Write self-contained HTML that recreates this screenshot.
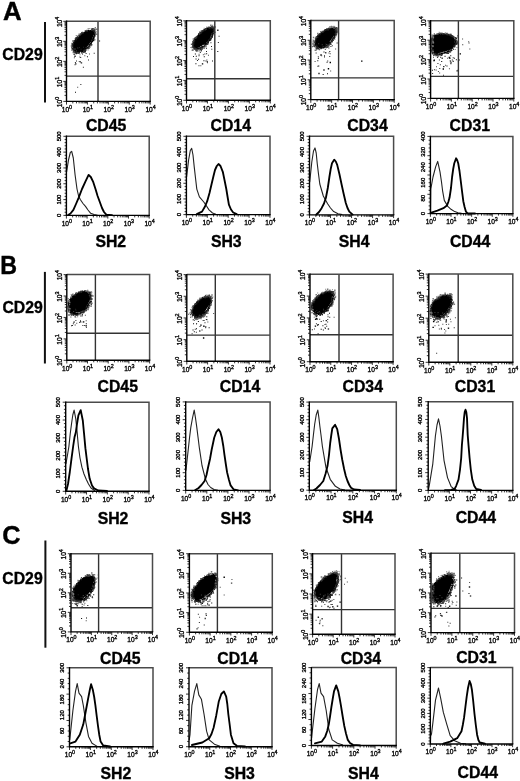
<!DOCTYPE html><html><head><meta charset="utf-8"><style>html,body{margin:0;padding:0;background:#fff;}svg{display:block;will-change:transform;filter:blur(0.35px);}</style></head><body>
<svg width="520" height="781" viewBox="0 0 520 781" font-family='"Liberation Sans", sans-serif'>
<rect width="520" height="781" fill="#fff"/>
<text transform="translate(3 19.6) scale(1.0 1)" font-size="25.8" font-weight="bold" fill="#000" stroke="#000" stroke-width="0.4">A</text>
<text transform="translate(0.2 273.6) scale(0.9 1)" font-size="25.8" font-weight="bold" fill="#000" stroke="#000" stroke-width="0.4">B</text>
<text transform="translate(2.2 544.4) scale(0.98 1)" font-size="25.8" font-weight="bold" fill="#000" stroke="#000" stroke-width="0.4">C</text>
<text x="2.3" y="59.8" font-size="15.8" font-weight="bold" fill="#000" stroke="#000" stroke-width="0.35">CD29</text>
<text x="2.4" y="312.7" font-size="15.8" font-weight="bold" fill="#000" stroke="#000" stroke-width="0.35">CD29</text>
<text x="2.3" y="583.7" font-size="15.8" font-weight="bold" fill="#000" stroke="#000" stroke-width="0.35">CD29</text>
<rect x="44" y="22" width="2" height="80.5" fill="#111"/>
<rect x="43.9" y="271.9" width="2" height="91.6" fill="#111"/>
<rect x="44.4" y="540.5" width="2" height="107.2" fill="#111"/>
<text x="106.1" y="131" font-size="15.8" font-weight="bold" fill="#000" stroke="#000" stroke-width="0.35" text-anchor="middle">CD45</text>
<text x="230.75" y="130.6" font-size="15.8" font-weight="bold" fill="#000" stroke="#000" stroke-width="0.35" text-anchor="middle">CD14</text>
<text x="367.5" y="130.6" font-size="15.8" font-weight="bold" fill="#000" stroke="#000" stroke-width="0.35" text-anchor="middle">CD34</text>
<text x="469.8" y="130.7" font-size="15.8" font-weight="bold" fill="#000" stroke="#000" stroke-width="0.35" text-anchor="middle">CD31</text>
<text x="110.75" y="247" font-size="15.8" font-weight="bold" fill="#000" stroke="#000" stroke-width="0.35" text-anchor="middle">SH2</text>
<text x="226.25" y="247" font-size="15.8" font-weight="bold" fill="#000" stroke="#000" stroke-width="0.35" text-anchor="middle">SH3</text>
<text x="354.1" y="247" font-size="15.8" font-weight="bold" fill="#000" stroke="#000" stroke-width="0.35" text-anchor="middle">SH4</text>
<text x="470.15" y="246.5" font-size="15.8" font-weight="bold" fill="#000" stroke="#000" stroke-width="0.35" text-anchor="middle">CD44</text>
<text x="117.75" y="392" font-size="15.8" font-weight="bold" fill="#000" stroke="#000" stroke-width="0.35" text-anchor="middle">CD45</text>
<text x="240" y="392" font-size="15.8" font-weight="bold" fill="#000" stroke="#000" stroke-width="0.35" text-anchor="middle">CD14</text>
<text x="362.75" y="392" font-size="15.8" font-weight="bold" fill="#000" stroke="#000" stroke-width="0.35" text-anchor="middle">CD34</text>
<text x="475" y="391.8" font-size="15.8" font-weight="bold" fill="#000" stroke="#000" stroke-width="0.35" text-anchor="middle">CD31</text>
<text x="113" y="524" font-size="15.8" font-weight="bold" fill="#000" stroke="#000" stroke-width="0.35" text-anchor="middle">SH2</text>
<text x="235.75" y="523.7" font-size="15.8" font-weight="bold" fill="#000" stroke="#000" stroke-width="0.35" text-anchor="middle">SH3</text>
<text x="357.65" y="523.4" font-size="15.8" font-weight="bold" fill="#000" stroke="#000" stroke-width="0.35" text-anchor="middle">SH4</text>
<text x="475.9" y="523" font-size="15.8" font-weight="bold" fill="#000" stroke="#000" stroke-width="0.35" text-anchor="middle">CD44</text>
<text x="120.25" y="663.8" font-size="15.8" font-weight="bold" fill="#000" stroke="#000" stroke-width="0.35" text-anchor="middle">CD45</text>
<text x="237.5" y="663.8" font-size="15.8" font-weight="bold" fill="#000" stroke="#000" stroke-width="0.35" text-anchor="middle">CD14</text>
<text x="360.9" y="663.8" font-size="15.8" font-weight="bold" fill="#000" stroke="#000" stroke-width="0.35" text-anchor="middle">CD34</text>
<text x="476.35" y="663.2" font-size="15.8" font-weight="bold" fill="#000" stroke="#000" stroke-width="0.35" text-anchor="middle">CD31</text>
<text x="115.9" y="779.2" font-size="15.8" font-weight="bold" fill="#000" stroke="#000" stroke-width="0.35" text-anchor="middle">SH2</text>
<text x="239.5" y="779" font-size="15.8" font-weight="bold" fill="#000" stroke="#000" stroke-width="0.35" text-anchor="middle">SH3</text>
<text x="363.4" y="779" font-size="15.8" font-weight="bold" fill="#000" stroke="#000" stroke-width="0.35" text-anchor="middle">SH4</text>
<text x="477.8" y="778" font-size="15.8" font-weight="bold" fill="#000" stroke="#000" stroke-width="0.35" text-anchor="middle">CD44</text>
<polygon points="93.46,30.19 92.59,30.17 92.11,29.73 91.14,29.91 90.03,30.36 89.19,30.41 88.02,31.11 87.15,31.23 86.11,31.8 85.13,32.1 84.13,32.24 83.01,32.44 81.89,33.3 80.7,33.91 79.44,34.55 78.2,35.38 77.28,36.51 76.43,37.61 75.33,38.61 75.06,39.77 73.94,40.85 73.68,41.92 73.29,42.99 72.95,44.06 72.64,45.15 72.3,46.29 72.95,46.92 73.06,47.84 73.54,48.51 74.29,48.92 74.78,49.53 75.64,49.73 76.21,50.24 76.74,50.86 77.23,51.66 78.13,51.84 79.08,51.92 80.06,52.01 81.21,51.56 82.37,50.84 83.49,50.33 84.57,49.32 85.53,48.07 86.52,47.21 87.42,46.16 88.4,45.24 89.23,44.13 89.89,42.95 90.98,41.9 91.26,40.7 92,39.55 92.67,38.38 92.67,37.4 93.15,36.3 93.09,35.46 93.68,34.28 93.9,33.28 93.88,32.45 94.08,31.42 93.59,30.98" fill="#000"/><path d="M90.49 30.1h1.5v1.5h-1.5zM92.26 30.21h1.0v1.0h-1.0zM89.11 43.91h1.0v1.0h-1.0zM73.11 44.43h1.0v1.0h-1.0zM93.09 36.32h1.5v1.5h-1.5zM85.23 31.32h1.0v1.0h-1.0zM73.24 45.94h1.0v1.0h-1.0zM93.58 32.53h1.5v1.5h-1.5zM92.93 36.87h1.0v1.0h-1.0zM81.26 51.63h1.0v1.0h-1.0zM81.25 33.56h1.0v1.0h-1.0zM85.29 30.9h1.0v1.0h-1.0zM92.66 29.55h1.0v1.0h-1.0zM72.96 41.85h1.0v1.0h-1.0zM93.53 38.25h1.0v1.0h-1.0zM88 30.95h1.0v1.0h-1.0zM91.5 39.89h1.5v1.5h-1.5zM85.43 31.62h1.0v1.0h-1.0zM73.54 42.93h1.0v1.0h-1.0zM75.95 50.52h1.0v1.0h-1.0zM91.06 40.59h1.0v1.0h-1.0zM92.19 29.91h1.0v1.0h-1.0zM80.64 34.51h1.0v1.0h-1.0zM93.88 35.03h1.5v1.5h-1.5zM82.66 49.76h1.5v1.5h-1.5zM90.02 43.1h1.5v1.5h-1.5zM83.35 32.61h1.5v1.5h-1.5zM86.94 46.65h1.0v1.0h-1.0zM91.13 41.42h1.0v1.0h-1.0zM93.3 31.4h1.0v1.0h-1.0zM81.11 33.72h1.0v1.0h-1.0zM79 35.01h1.0v1.0h-1.0zM93.56 34.69h1.0v1.0h-1.0zM75.38 51.22h1.0v1.0h-1.0zM73.51 46.96h1.5v1.5h-1.5zM74.02 48.54h1.5v1.5h-1.5zM77.3 50.9h1.0v1.0h-1.0zM73.5 47.14h1.5v1.5h-1.5zM74.79 50.38h1.0v1.0h-1.0zM93.07 33.44h1.5v1.5h-1.5zM89.49 30.77h1.5v1.5h-1.5zM93.42 35.44h1.0v1.0h-1.0zM92.77 31.42h1.0v1.0h-1.0zM73.95 41.22h1.0v1.0h-1.0zM74.75 40.71h1.5v1.5h-1.5zM77.86 36.78h1.0v1.0h-1.0zM77.85 50.94h1.0v1.0h-1.0zM81.53 50.29h1.5v1.5h-1.5zM92.84 37.57h1.0v1.0h-1.0zM76.32 51.79h1.0v1.0h-1.0zM79.35 35.17h1.0v1.0h-1.0zM90.75 30.43h1.0v1.0h-1.0zM75.79 37.93h1.0v1.0h-1.0zM76.9 50.7h1.0v1.0h-1.0zM81.64 50.19h1.0v1.0h-1.0zM90.58 30.4h1.5v1.5h-1.5zM84.37 31.99h1.0v1.0h-1.0zM93 37.07h1.0v1.0h-1.0zM72.68 48.73h1.0v1.0h-1.0zM93.74 31.76h1.0v1.0h-1.0zM93.29 30.3h1.0v1.0h-1.0zM73.96 50.74h1.0v1.0h-1.0zM88.82 30.51h1.0v1.0h-1.0zM79.82 35.03h1.0v1.0h-1.0zM86.87 46.62h1.5v1.5h-1.5zM81.07 50.62h1.5v1.5h-1.5zM91.51 40.05h1.0v1.0h-1.0zM84.48 48.79h1.0v1.0h-1.0zM78.51 35.93h1.0v1.0h-1.0zM87.32 46.59h1.5v1.5h-1.5zM89.9 44.52h1.0v1.0h-1.0zM77.49 51.31h1.0v1.0h-1.0zM84.99 48.08h1.5v1.5h-1.5zM81.97 33.4h1.5v1.5h-1.5zM86.34 31.14h1.5v1.5h-1.5zM93.01 36.18h1.5v1.5h-1.5zM92.32 30.01h1.0v1.0h-1.0zM73.41 47.64h1.0v1.0h-1.0zM92.42 39.05h1.0v1.0h-1.0zM93.31 30.41h1.0v1.0h-1.0zM76.17 37.7h1.0v1.0h-1.0zM82.59 32.94h1.0v1.0h-1.0zM91.1 30.03h1.5v1.5h-1.5zM77.69 36.12h1.5v1.5h-1.5zM76.8 51.44h1.0v1.0h-1.0zM93.48 34.94h1.0v1.0h-1.0zM88.59 30.87h1.0v1.0h-1.0zM79.49 35.44h1.5v1.5h-1.5zM73.47 43.52h1.0v1.0h-1.0zM86.78 30.94h1.0v1.0h-1.0zM92.5 37.67h1.0v1.0h-1.0zM92.84 37h1.5v1.5h-1.5zM74.08 48.47h1.0v1.0h-1.0zM78.35 35.33h1.0v1.0h-1.0zM91.05 30.7h1.5v1.5h-1.5zM75.19 38.87h1.0v1.0h-1.0zM81.64 50.27h1.0v1.0h-1.0zM78.25 51.53h1.0v1.0h-1.0zM82.17 49.89h1.5v1.5h-1.5zM79.77 35.24h1.5v1.5h-1.5zM73.34 45.94h1.5v1.5h-1.5zM84.51 49.24h1.5v1.5h-1.5zM91.17 40.48h1.5v1.5h-1.5zM94.01 32.25h1.0v1.0h-1.0zM85.78 31.28h1.0v1.0h-1.0zM92.81 36.44h1.5v1.5h-1.5zM93.47 33.67h1.5v1.5h-1.5zM91.88 30.11h1.5v1.5h-1.5zM73.35 43.39h1.0v1.0h-1.0zM73.52 42.03h1.5v1.5h-1.5zM93.15 32.33h1.5v1.5h-1.5zM91.62 30.53h1.0v1.0h-1.0zM89.14 44.07h1.0v1.0h-1.0zM78.43 36.37h1.5v1.5h-1.5zM74.2 41.2h1.5v1.5h-1.5zM92.12 31.39h1.5v1.5h-1.5zM74.27 49.6h1.5v1.5h-1.5zM90.59 41.64h1.5v1.5h-1.5zM90.21 43.17h1.5v1.5h-1.5zM90.17 30.28h1.0v1.0h-1.0zM89.14 30.44h1.0v1.0h-1.0zM83.94 49.15h1.5v1.5h-1.5zM79.03 35.91h1.5v1.5h-1.5zM74.85 49.96h1.5v1.5h-1.5zM92.04 39.09h1.0v1.0h-1.0zM82.63 33.12h1.5v1.5h-1.5zM79 51.55h1.0v1.0h-1.0zM81.58 33.34h1.0v1.0h-1.0zM82.59 49.67h1.0v1.0h-1.0zM82.92 32.95h1.0v1.0h-1.0zM90.54 42.18h1.0v1.0h-1.0zM76.84 50.72h1.5v1.5h-1.5zM84.35 31.91h1.0v1.0h-1.0zM81.93 32.42h1.5v1.5h-1.5zM93.57 36.15h1.0v1.0h-1.0zM80.65 51.09h1.0v1.0h-1.0zM85.49 31.5h1.5v1.5h-1.5zM91.75 39.85h1.0v1.0h-1.0zM72.61 44.19h1.0v1.0h-1.0zM86.93 46.63h1.0v1.0h-1.0zM91.14 30.67h1.5v1.5h-1.5zM78.26 51.48h1.0v1.0h-1.0zM73.31 47.48h1.5v1.5h-1.5zM79.72 35.24h1.5v1.5h-1.5zM73.03 48.38h1.0v1.0h-1.0zM89.77 43.4h1.0v1.0h-1.0zM84.22 32.25h1.5v1.5h-1.5zM74.11 50.39h1.0v1.0h-1.0zM74.99 39.92h1.0v1.0h-1.0zM90.34 42.99h1.0v1.0h-1.0zM78.44 51.5h1.0v1.0h-1.0zM85.41 30.89h1.5v1.5h-1.5zM74.76 50.45h1.0v1.0h-1.0zM91.91 30.64h1.0v1.0h-1.0zM88.05 30.37h1.0v1.0h-1.0zM81.54 33.26h1.5v1.5h-1.5zM86.39 30.56h1.0v1.0h-1.0zM81.72 50.44h1.5v1.5h-1.5zM73.47 44.89h1.5v1.5h-1.5zM74.15 41.87h1.5v1.5h-1.5zM93.09 33.67h1.5v1.5h-1.5zM75.16 51.48h1.0v1.0h-1.0zM90.14 30.77h1.0v1.0h-1.0zM85.69 31.55h1.0v1.0h-1.0zM89.66 42.9h1.5v1.5h-1.5zM73.78 48.23h1.5v1.5h-1.5zM80.04 34.31h1.0v1.0h-1.0zM88.44 45.31h1.5v1.5h-1.5zM86.14 47.24h1.0v1.0h-1.0zM93.41 32.07h1.0v1.0h-1.0zM88.63 45.94h1.0v1.0h-1.0zM92.35 38.02h1.0v1.0h-1.0zM77.73 51.13h1.5v1.5h-1.5zM93.96 34.42h1.0v1.0h-1.0zM88.31 29.75h1.0v1.0h-1.0zM91.28 30.27h1.5v1.5h-1.5zM85.26 47.86h1.0v1.0h-1.0zM91.45 40.64h1.5v1.5h-1.5zM92.66 38.53h1.5v1.5h-1.5zM88.67 44.67h1.0v1.0h-1.0zM73.31 46.88h1.5v1.5h-1.5zM80.53 33.49h1.5v1.5h-1.5zM91.09 40.49h1.0v1.0h-1.0zM92.63 32.14h1.0v1.0h-1.0zM74.35 49.39h1.0v1.0h-1.0zM76.67 37.74h1.0v1.0h-1.0zM85.36 48.22h1.0v1.0h-1.0zM74.79 49.6h1.0v1.0h-1.0zM82.22 50.23h1.0v1.0h-1.0zM85.01 30.98h1.5v1.5h-1.5zM84.97 31.52h1.0v1.0h-1.0zM84.58 31.43h1.0v1.0h-1.0zM92.7 32.21h1.5v1.5h-1.5zM72.9 44.12h1.5v1.5h-1.5zM87.64 46.49h1.5v1.5h-1.5zM81.48 33.69h1.0v1.0h-1.0zM72.85 45h1.0v1.0h-1.0zM73.27 45.13h1.0v1.0h-1.0zM75.27 39.54h1.0v1.0h-1.0zM86.31 47.38h1.5v1.5h-1.5zM93.6 33.65h1.0v1.0h-1.0zM90.33 43.6h1.5v1.5h-1.5zM93.69 33.07h1.0v1.0h-1.0zM86.42 46.86h1.0v1.0h-1.0zM92.72 39.79h1.5v1.5h-1.5zM84.55 48.58h1.0v1.0h-1.0zM87.35 29.89h1.0v1.0h-1.0zM73.36 44.82h1.0v1.0h-1.0zM72.95 46.18h1.0v1.0h-1.0zM80.64 34.21h1.0v1.0h-1.0zM72.98 49.13h1.5v1.5h-1.5zM81.76 50.4h1.5v1.5h-1.5zM81.76 47.1h1v1h-1zM82.5 50.61h1v1h-1zM80.99 50.36h1v1h-1zM82.08 53.39h1v1h-1zM75.21 63.28h1.0v1.0h-1.0zM86.94 56.22h1.0v1.0h-1.0zM75.02 91.67h1.0v1.0h-1.0zM99.1 40.4h1.0v1.0h-1.0z" fill="#000"/><path d="M94.11 32.54h1.0v1.0h-1.0zM76.46 37.19h1.5v1.5h-1.5zM79.07 34.02h1.0v1.0h-1.0zM93.77 30.72h1.5v1.5h-1.5zM77.59 35.94h1.0v1.0h-1.0zM72.06 45.13h1.0v1.0h-1.0zM92.8 30.08h1.5v1.5h-1.5zM74.64 51.73h1.5v1.5h-1.5zM77.95 52.22h1.5v1.5h-1.5zM73.38 40.34h1.5v1.5h-1.5zM86.48 29.73h1.0v1.0h-1.0zM83.02 51.26h1.5v1.5h-1.5zM87.34 47.84h1.0v1.0h-1.0zM77.04 36.73h1.5v1.5h-1.5zM77.74 35.99h1.0v1.0h-1.0zM72.77 46.56h1.0v1.0h-1.0zM73.32 41.78h1.0v1.0h-1.0zM93.09 39.34h1.0v1.0h-1.0zM84.91 49.44h1.5v1.5h-1.5zM88.82 45.57h1.5v1.5h-1.5zM73.29 40.35h1.5v1.5h-1.5zM73.03 42.69h1.0v1.0h-1.0zM76.34 52.31h1.5v1.5h-1.5zM93.48 29.98h1.5v1.5h-1.5zM77.87 35.56h1.5v1.5h-1.5zM77.39 36.77h1.0v1.0h-1.0zM81.12 33.65h1.0v1.0h-1.0zM91.13 30.04h1.0v1.0h-1.0zM93.48 36.11h1.5v1.5h-1.5zM75.45 52.76h1.5v1.5h-1.5zM73.37 49.01h1.5v1.5h-1.5zM94.64 34.28h1.0v1.0h-1.0zM72.34 48.09h1.5v1.5h-1.5zM74.42 51.63h1.5v1.5h-1.5zM79.08 52.08h1.0v1.0h-1.0zM79.85 33.48h1.5v1.5h-1.5zM72.32 44.89h1.0v1.0h-1.0zM71.97 47.46h1.0v1.0h-1.0zM72.92 43.44h1.0v1.0h-1.0zM94.35 31.72h1.0v1.0h-1.0zM86.27 47.98h1.0v1.0h-1.0zM71.68 43.81h1.5v1.5h-1.5zM74.34 40.38h1.0v1.0h-1.0zM95.22 32.55h1.0v1.0h-1.0zM90.86 43.89h1.5v1.5h-1.5zM94.42 31.86h1.0v1.0h-1.0zM93.18 30.14h1.5v1.5h-1.5zM93.59 29.15h1.5v1.5h-1.5zM78.65 52.95h1.0v1.0h-1.0zM71.75 47.47h1.0v1.0h-1.0zM76.12 36.68h1.5v1.5h-1.5zM84.68 30.37h1.5v1.5h-1.5zM72.36 47.84h1.0v1.0h-1.0zM73.5 51.41h1.0v1.0h-1.0zM83.39 50.79h1.5v1.5h-1.5zM91.37 28.33h1.5v1.5h-1.5zM81.09 32.13h1.0v1.0h-1.0zM75.38 37.56h1.0v1.0h-1.0zM77.79 35.82h1.0v1.0h-1.0zM92.27 39.62h1.0v1.0h-1.0zM71.23 45.39h1.5v1.5h-1.5zM93.75 35.75h1.0v1.0h-1.0zM71.48 48.18h1.5v1.5h-1.5zM75.58 38.78h1.5v1.5h-1.5zM84.4 50.22h1.5v1.5h-1.5zM75.76 51.71h1.0v1.0h-1.0zM88.3 46.2h1.5v1.5h-1.5zM90.3 43.74h1.5v1.5h-1.5zM75.95 60.5h1v1h-1zM74.89 61.95h1v1h-1zM79.74 61.11h1v1h-1zM80.17 57.12h1v1h-1zM80.57 48.86h1v1h-1zM85.61 53.06h1v1h-1zM93.71 52.66h1v1h-1zM83.24 51.39h1v1h-1zM83.12 49.68h1v1h-1zM84.99 51.09h1v1h-1zM80.41 50.72h1v1h-1zM83.09 49.89h1v1h-1zM74.47 47.99h1v1h-1zM79.01 46.95h1v1h-1zM82.98 46.67h1v1h-1zM74.33 55.6h1.4v1.4h-1.4zM74.54 64.34h1.0v1.0h-1.0zM82.87 66.86h1.0v1.0h-1.0zM80.76 62.2h1.4v1.4h-1.4zM79.68 61.42h1.0v1.0h-1.0zM87.97 59.48h1.0v1.0h-1.0zM80.34 83.97h1.0v1.0h-1.0z" fill="#222"/><path d="M85.47 49.28h1.0v1.0h-1.0zM75.48 37.34h1.0v1.0h-1.0zM91.59 28.99h1.5v1.5h-1.5zM73.43 53.42h1.5v1.5h-1.5zM90.4 44.24h1.5v1.5h-1.5zM94.6 32.35h1.5v1.5h-1.5zM95.47 31.07h1.0v1.0h-1.0zM91.74 27.91h1.5v1.5h-1.5zM95.31 32.23h1.0v1.0h-1.0zM86.28 29.95h1.5v1.5h-1.5zM72.93 51.69h1.0v1.0h-1.0zM71.06 44.64h1.0v1.0h-1.0zM74.01 51.63h1.0v1.0h-1.0zM94.09 28.41h1.5v1.5h-1.5zM74.94 37.63h1.0v1.0h-1.0zM88.21 47.47h1.5v1.5h-1.5zM71.23 46.59h1.0v1.0h-1.0zM92.98 28.59h1.0v1.0h-1.0zM81.11 32.04h1.5v1.5h-1.5zM72.46 40.47h1.0v1.0h-1.0zM83.32 51.22h1.0v1.0h-1.0zM71.46 42.77h1.5v1.5h-1.5zM72.8 50.82h1.5v1.5h-1.5zM81.76 31.64h1.5v1.5h-1.5zM92.31 28.02h1.5v1.5h-1.5zM95.04 34.18h1.0v1.0h-1.0zM79.95 33.41h1.0v1.0h-1.0zM73.32 51.87h1.0v1.0h-1.0zM82.16 32.07h1.5v1.5h-1.5zM90.86 29.16h1.0v1.0h-1.0zM81.29 52.12h1.0v1.0h-1.0zM80.78 52.5h1.0v1.0h-1.0zM77.36 52.65h1.0v1.0h-1.0zM74.49 38.44h1.0v1.0h-1.0zM74.1 52.11h1.0v1.0h-1.0zM72.15 43.36h1.0v1.0h-1.0zM81.24 52.47h1.0v1.0h-1.0zM79.14 34.15h1.5v1.5h-1.5zM87.68 28.28h1.0v1.0h-1.0zM71.5 49.9h1.0v1.0h-1.0zM87.34 47.83h1.5v1.5h-1.5zM71.17 47.34h1.0v1.0h-1.0zM77.28 47.5h1v1h-1zM79.34 56.6h1v1h-1zM84.32 55.17h1v1h-1zM83.5 51.9h1v1h-1zM73.86 57.27h1v1h-1zM89.06 53.42h1v1h-1zM84.74 51.66h1v1h-1zM82.58 52.05h1v1h-1zM74.46 48.45h1v1h-1zM78.75 61.05h1.0v1.0h-1.0zM75.51 63.57h1.0v1.0h-1.0zM77.19 86.65h1.0v1.0h-1.0z" fill="#444"/><path d="M95.91 28.47h1.5v1.5h-1.5zM75.76 35.09h1.0v1.0h-1.0zM93.97 38.88h1.5v1.5h-1.5zM70.75 45.37h1.5v1.5h-1.5zM90.79 45.35h1.0v1.0h-1.0zM94.94 27.12h1.0v1.0h-1.0zM87.57 49.53h1.0v1.0h-1.0zM94.4 27.57h1.0v1.0h-1.0zM72.27 40.3h1.5v1.5h-1.5zM89.32 28.11h1.0v1.0h-1.0zM72.49 52.25h1.0v1.0h-1.0zM94.72 29.13h1.5v1.5h-1.5zM95.05 35.52h1.0v1.0h-1.0zM77.47 35.17h1.5v1.5h-1.5zM78.42 33.58h1.5v1.5h-1.5zM95.82 33.54h1.5v1.5h-1.5zM79.49 54.32h1.0v1.0h-1.0zM89.76 46.67h1.0v1.0h-1.0z" fill="#777"/><path d="M98 21.3V101.4M66.5 76.1H150.2" stroke="#333" stroke-width="1.4" fill="none"/><path d="M66.5 21.3H150.2V101.4" stroke="#4a4a4a" stroke-width="1.5" fill="none"/><path d="M66.5 21.3V101.4H150.2" stroke="#000" stroke-width="1.4" fill="none" stroke-linecap="square"/><path d="M66.5 101.4v3.2M72.8 101.4v2M76.48 101.4v2M79.1 101.4v2M81.13 101.4v2M82.78 101.4v2M84.18 101.4v2M85.4 101.4v2M86.47 101.4v2M87.42 101.4v3.2M93.72 101.4v2M97.41 101.4v2M100.02 101.4v2M102.05 101.4v2M103.71 101.4v2M105.11 101.4v2M106.32 101.4v2M107.39 101.4v2M108.35 101.4v3.2M114.65 101.4v2M118.33 101.4v2M120.95 101.4v2M122.98 101.4v2M124.63 101.4v2M126.03 101.4v2M127.25 101.4v2M128.32 101.4v2M129.27 101.4v3.2M135.57 101.4v2M139.26 101.4v2M141.87 101.4v2M143.9 101.4v2M145.56 101.4v2M146.96 101.4v2M148.17 101.4v2M149.24 101.4v2M150.2 101.4v3.2M66.5 101.4h-3.2M66.5 95.37h-2M66.5 91.85h-2M66.5 89.34h-2M66.5 87.4h-2M66.5 85.82h-2M66.5 84.48h-2M66.5 83.32h-2M66.5 82.29h-2M66.5 81.38h-3.2M66.5 75.35h-2M66.5 71.82h-2M66.5 69.32h-2M66.5 67.38h-2M66.5 65.79h-2M66.5 64.45h-2M66.5 63.29h-2M66.5 62.27h-2M66.5 61.35h-3.2M66.5 55.32h-2M66.5 51.8h-2M66.5 49.29h-2M66.5 47.35h-2M66.5 45.77h-2M66.5 44.43h-2M66.5 43.27h-2M66.5 42.24h-2M66.5 41.33h-3.2M66.5 35.3h-2M66.5 31.77h-2M66.5 29.27h-2M66.5 27.33h-2M66.5 25.74h-2M66.5 24.4h-2M66.5 23.24h-2M66.5 22.22h-2M66.5 21.3h-3.2" stroke="#000" stroke-width="0.8" fill="none"/><g fill="#000" stroke="#000" stroke-width="0.32"><text x="66.9" y="111.6" font-size="6.6" text-anchor="middle">10<tspan dy="-3.0" font-size="5.4">0</tspan></text><text x="87.83" y="111.6" font-size="6.6" text-anchor="middle">10<tspan dy="-3.0" font-size="5.4">1</tspan></text><text x="108.75" y="111.6" font-size="6.6" text-anchor="middle">10<tspan dy="-3.0" font-size="5.4">2</tspan></text><text x="129.67" y="111.6" font-size="6.6" text-anchor="middle">10<tspan dy="-3.0" font-size="5.4">3</tspan></text><text x="150.6" y="111.6" font-size="6.6" text-anchor="middle">10<tspan dy="-3.0" font-size="5.4">4</tspan></text><text transform="translate(61.5 102) rotate(-90)" font-size="6.6" text-anchor="middle">10<tspan dy="-3.0" font-size="5.4">0</tspan></text><text transform="translate(61.5 81.97) rotate(-90)" font-size="6.6" text-anchor="middle">10<tspan dy="-3.0" font-size="5.4">1</tspan></text><text transform="translate(61.5 61.95) rotate(-90)" font-size="6.6" text-anchor="middle">10<tspan dy="-3.0" font-size="5.4">2</tspan></text><text transform="translate(61.5 41.93) rotate(-90)" font-size="6.6" text-anchor="middle">10<tspan dy="-3.0" font-size="5.4">3</tspan></text><text transform="translate(61.5 21.9) rotate(-90)" font-size="6.6" text-anchor="middle">10<tspan dy="-3.0" font-size="5.4">4</tspan></text></g>
<polygon points="211.66,28.22 210.79,28.44 210.51,28.01 209.99,27.85 209.35,27.82 208.65,27.86 208.12,27.5 207.28,27.59 206.35,27.76 205.16,28.66 204.06,29.33 202.96,29.87 201.86,30.81 200.89,31.95 199.86,32.76 198.9,33.67 198.15,34.71 197.42,35.66 196.22,36.53 195.81,37.53 194.6,38.57 194.32,39.54 193.69,40.59 193.08,41.7 192.77,42.71 193.13,43.38 193.26,44.13 193.39,44.9 193.23,45.93 193.5,46.65 193.68,47.49 194.41,47.76 195.05,48.13 195.71,48.47 196.66,48.36 197.78,47.86 198.71,47.6 199.78,46.89 200.78,46.14 201.63,45.95 202.55,45.36 203.49,45 204.45,44.22 205.38,43.32 206.49,42.69 207.43,41.63 208.21,40.45 209.14,39.36 210.01,38.19 210.47,37.01 210.84,35.92 211.02,34.94 211.71,33.81 212.21,32.74 212.4,31.83 212.22,31.2 212.24,30.47 212.41,29.63 212.11,29.19 211.97,28.62" fill="#000"/><path d="M193.75 44.66h1.0v1.0h-1.0zM212.35 31.25h1.0v1.0h-1.0zM207.1 28h1.5v1.5h-1.5zM208.32 39.51h1.0v1.0h-1.0zM207.41 41.09h1.5v1.5h-1.5zM205.97 42.99h1.5v1.5h-1.5zM211.63 29.24h1.0v1.0h-1.0zM194.02 40.96h1.0v1.0h-1.0zM194.82 37.84h1.0v1.0h-1.0zM212 31.18h1.0v1.0h-1.0zM212.1 28.83h1.5v1.5h-1.5zM193.5 41.44h1.5v1.5h-1.5zM211.98 30.97h1.0v1.0h-1.0zM195.98 47.07h1.0v1.0h-1.0zM192.65 42.68h1.5v1.5h-1.5zM194.89 46.55h1.0v1.0h-1.0zM208.19 28h1.0v1.0h-1.0zM208.93 39.6h1.5v1.5h-1.5zM194.12 40.7h1.0v1.0h-1.0zM194.98 37.48h1.5v1.5h-1.5zM201.67 31.55h1.5v1.5h-1.5zM197.9 47.95h1.0v1.0h-1.0zM206.23 28.44h1.5v1.5h-1.5zM211.42 27.18h1.0v1.0h-1.0zM201.04 46.38h1.5v1.5h-1.5zM208.32 27.95h1.0v1.0h-1.0zM194.04 40.69h1.0v1.0h-1.0zM207.73 40.64h1.0v1.0h-1.0zM195.05 37.6h1.5v1.5h-1.5zM193.76 44.18h1.5v1.5h-1.5zM193.14 41.05h1.0v1.0h-1.0zM207.15 41.47h1.5v1.5h-1.5zM195.61 37.87h1.0v1.0h-1.0zM206.5 42.31h1.0v1.0h-1.0zM212.23 32.43h1.0v1.0h-1.0zM210.79 28.05h1.0v1.0h-1.0zM209.25 37.84h1.0v1.0h-1.0zM204.86 29.15h1.0v1.0h-1.0zM207.54 41.19h1.5v1.5h-1.5zM198.44 34.44h1.0v1.0h-1.0zM205.49 28.58h1.0v1.0h-1.0zM197.04 35.76h1.0v1.0h-1.0zM203.13 30.47h1.5v1.5h-1.5zM205.95 28.37h1.0v1.0h-1.0zM200.85 47.06h1.5v1.5h-1.5zM193.7 42.7h1.5v1.5h-1.5zM196.67 48.04h1.5v1.5h-1.5zM207.29 28.48h1.0v1.0h-1.0zM206.3 27.73h1.0v1.0h-1.0zM197.91 34.07h1.0v1.0h-1.0zM203.23 30.47h1.0v1.0h-1.0zM196.16 47.18h1.5v1.5h-1.5zM192.76 42.54h1.5v1.5h-1.5zM200.65 46.98h1.5v1.5h-1.5zM196.85 47.58h1.5v1.5h-1.5zM211.84 33.56h1.5v1.5h-1.5zM207.37 28.19h1.0v1.0h-1.0zM200.13 31.97h1.0v1.0h-1.0zM211.62 28.37h1.5v1.5h-1.5zM210.16 28.12h1.5v1.5h-1.5zM213.26 30.42h1.5v1.5h-1.5zM208.32 27.06h1.0v1.0h-1.0zM199.59 32.84h1.0v1.0h-1.0zM209.46 28.03h1.5v1.5h-1.5zM197.64 47.56h1.5v1.5h-1.5zM192.59 42.08h1.5v1.5h-1.5zM193.88 45.97h1.5v1.5h-1.5zM194.66 38.58h1.5v1.5h-1.5zM195.17 37.97h1.5v1.5h-1.5zM210.24 27.1h1.0v1.0h-1.0zM197.48 35.2h1.5v1.5h-1.5zM211.77 28.29h1.0v1.0h-1.0zM200.55 46.8h1.0v1.0h-1.0zM196.58 35.76h1.0v1.0h-1.0zM192.85 44.53h1.0v1.0h-1.0zM212.89 28.97h1.5v1.5h-1.5zM195.93 47.16h1.0v1.0h-1.0zM192.61 44.79h1.0v1.0h-1.0zM211.8 27.58h1.0v1.0h-1.0zM201.49 46.32h1.5v1.5h-1.5zM197.96 47.88h1.5v1.5h-1.5zM208.48 27.49h1.0v1.0h-1.0zM203.48 29.67h1.5v1.5h-1.5zM195.02 47.51h1.5v1.5h-1.5zM211.96 32.41h1.0v1.0h-1.0zM197.33 47.47h1.5v1.5h-1.5zM203.93 44.29h1.5v1.5h-1.5zM211.77 31.49h1.0v1.0h-1.0zM211.6 27.57h1.5v1.5h-1.5zM211.31 33.76h1.5v1.5h-1.5zM205.43 28.91h1.0v1.0h-1.0zM201.63 45.93h1.5v1.5h-1.5zM205.28 29.42h1.0v1.0h-1.0zM211.98 34.09h1.5v1.5h-1.5zM202.46 31h1.0v1.0h-1.0zM207.66 40.37h1.0v1.0h-1.0zM199.7 33.2h1.0v1.0h-1.0zM211.81 27.77h1.5v1.5h-1.5zM193.69 43.12h1.5v1.5h-1.5zM211.99 27.5h1.0v1.0h-1.0zM199.37 33.22h1.0v1.0h-1.0zM196.08 47.54h1.0v1.0h-1.0zM195.99 46.96h1.0v1.0h-1.0zM206.27 29.02h1.0v1.0h-1.0zM205.36 43h1.5v1.5h-1.5zM208.21 39.62h1.0v1.0h-1.0zM210.23 37.82h1.5v1.5h-1.5zM205.63 43.52h1.5v1.5h-1.5zM194 39.94h1.5v1.5h-1.5zM193.44 42.4h1.5v1.5h-1.5zM196.8 36.06h1.0v1.0h-1.0zM212.26 30.35h1.0v1.0h-1.0zM195.64 37.64h1.5v1.5h-1.5zM194.85 38.92h1.0v1.0h-1.0zM211.42 35.45h1.5v1.5h-1.5zM199.79 33.03h1.0v1.0h-1.0zM203.75 45.81h1.5v1.5h-1.5zM203.93 44.33h1.0v1.0h-1.0zM212.2 30.17h1.5v1.5h-1.5zM192.97 42.93h1.0v1.0h-1.0zM211.27 28.09h1.5v1.5h-1.5zM207.07 28.69h1.0v1.0h-1.0zM194.45 45.85h1.5v1.5h-1.5zM208.79 39.21h1.0v1.0h-1.0zM211.04 35.61h1.0v1.0h-1.0zM207.75 27.56h1.5v1.5h-1.5zM200.35 32.71h1.0v1.0h-1.0zM193.85 40.84h1.0v1.0h-1.0zM210.89 35.89h1.0v1.0h-1.0zM204.95 43.33h1.5v1.5h-1.5zM211.77 27.69h1.5v1.5h-1.5zM211.29 28.43h1.5v1.5h-1.5zM195.72 47.33h1.5v1.5h-1.5zM193.32 42.5h1.5v1.5h-1.5zM195.01 38.42h1.5v1.5h-1.5zM200.62 32.42h1.0v1.0h-1.0zM201.76 31.34h1.5v1.5h-1.5zM210.79 35.69h1.5v1.5h-1.5zM200.17 32.29h1.0v1.0h-1.0zM204.23 44.2h1.0v1.0h-1.0zM211.85 29.68h1.0v1.0h-1.0zM193.36 42.63h1.5v1.5h-1.5zM193.86 45.03h1.0v1.0h-1.0zM194.47 39.68h1.0v1.0h-1.0zM193.32 44.43h1.0v1.0h-1.0zM212.02 26.59h1.0v1.0h-1.0zM210.36 35.8h1.0v1.0h-1.0zM194.35 47.86h1.0v1.0h-1.0zM206.04 42.89h1.5v1.5h-1.5zM193.92 38.79h1.0v1.0h-1.0zM205.64 28.18h1.0v1.0h-1.0zM212.47 27.76h1.0v1.0h-1.0zM208.08 27.98h1.0v1.0h-1.0zM209.18 38.34h1.5v1.5h-1.5zM194.01 40.28h1.5v1.5h-1.5zM211.46 33.61h1.5v1.5h-1.5zM197.86 48.03h1.0v1.0h-1.0zM202.51 30.4h1.5v1.5h-1.5zM208.13 27.51h1.0v1.0h-1.0zM206.28 28.58h1.5v1.5h-1.5zM205.41 42.97h1.0v1.0h-1.0zM200.97 47.36h1.0v1.0h-1.0zM211.2 33.97h1.0v1.0h-1.0zM199.37 47.13h1.5v1.5h-1.5zM193 43.37h1.0v1.0h-1.0zM204.92 28.86h1.5v1.5h-1.5zM204.96 44.41h1.0v1.0h-1.0zM198.7 33.81h1.0v1.0h-1.0zM210.02 37.53h1.5v1.5h-1.5zM211.64 29.12h1.5v1.5h-1.5zM206.83 28.01h1.5v1.5h-1.5zM199.18 47.18h1.5v1.5h-1.5zM211.82 27.32h1.5v1.5h-1.5zM192.53 41.49h1.0v1.0h-1.0zM194.63 38.13h1.5v1.5h-1.5zM212.01 28.67h1.5v1.5h-1.5zM212.26 30.43h1.0v1.0h-1.0zM198.73 33.49h1.5v1.5h-1.5zM205.7 28.71h1.5v1.5h-1.5zM197.9 47.8h1.0v1.0h-1.0zM212.69 29.08h1.5v1.5h-1.5zM211.38 28.41h1.5v1.5h-1.5zM204.38 42.81h1v1h-1zM211.95 60.53h1v1h-1zM201.43 48.81h1v1h-1zM206.85 42.54h1v1h-1zM196.14 44.01h1v1h-1zM198.54 55.16h1v1h-1zM206.16 53.36h1v1h-1zM195.41 63.27h1v1h-1zM205.94 47.87h1v1h-1zM195.8 55.67h1v1h-1zM196.68 49.81h1v1h-1zM201.84 63.13h1.4v1.4h-1.4zM195.54 58.41h1.0v1.0h-1.0zM194.85 53.54h1.0v1.0h-1.0zM203.43 60.33h1.0v1.0h-1.0zM198.1 58.77h1.0v1.0h-1.0zM203.77 56.32h1.0v1.0h-1.0zM217.29 51.08h1.0v1.0h-1.0z" fill="#000"/><path d="M210.54 26.43h1.5v1.5h-1.5zM211.08 35.77h1.5v1.5h-1.5zM193.32 46.03h1.0v1.0h-1.0zM209.86 38.04h1.0v1.0h-1.0zM194.57 48.87h1.0v1.0h-1.0zM194.14 47.41h1.0v1.0h-1.0zM211.31 27.3h1.0v1.0h-1.0zM210.01 37.64h1.5v1.5h-1.5zM209.5 26.84h1.5v1.5h-1.5zM209.65 39.13h1.5v1.5h-1.5zM204.36 29.13h1.5v1.5h-1.5zM192.5 45.19h1.5v1.5h-1.5zM199.91 32.4h1.5v1.5h-1.5zM206.58 43.2h1.5v1.5h-1.5zM212.59 26.71h1.5v1.5h-1.5zM211.75 35.24h1.0v1.0h-1.0zM212.96 28.32h1.0v1.0h-1.0zM199.75 47.32h1.0v1.0h-1.0zM211.67 27.29h1.5v1.5h-1.5zM191.92 45.69h1.0v1.0h-1.0zM213.48 27.75h1.0v1.0h-1.0zM192.52 42.88h1.5v1.5h-1.5zM213.34 27.14h1.0v1.0h-1.0zM213.32 31.2h1.5v1.5h-1.5zM194.3 47.56h1.5v1.5h-1.5zM198.75 48.24h1.0v1.0h-1.0zM192.96 40.11h1.5v1.5h-1.5zM212.81 27.5h1.0v1.0h-1.0zM195.55 48.71h1.0v1.0h-1.0zM212.91 27.22h1.0v1.0h-1.0zM201.36 46.96h1.0v1.0h-1.0zM212.23 28.08h1.0v1.0h-1.0zM211.31 36.6h1.5v1.5h-1.5zM202.63 30.03h1.5v1.5h-1.5zM193.47 39.35h1.5v1.5h-1.5zM193.41 48.44h1.0v1.0h-1.0zM209 26.93h1.0v1.0h-1.0zM212.1 33.39h1.0v1.0h-1.0zM195.69 48.82h1.0v1.0h-1.0zM193.91 39.33h1.0v1.0h-1.0zM198.94 32.49h1.0v1.0h-1.0zM192.37 43.2h1.0v1.0h-1.0zM201.51 30.74h1.5v1.5h-1.5zM207.04 43.08h1.5v1.5h-1.5zM199.85 48.56h1.5v1.5h-1.5zM191.67 43.55h1.5v1.5h-1.5zM207.88 41.23h1.0v1.0h-1.0zM213.86 28.83h1.0v1.0h-1.0zM213.32 27.73h1.5v1.5h-1.5zM207.17 42.11h1.5v1.5h-1.5zM200.41 31.64h1.5v1.5h-1.5zM202.9 46.09h1.5v1.5h-1.5zM193.25 47.27h1.5v1.5h-1.5zM204.49 45.06h1.0v1.0h-1.0zM200.03 48.2h1.0v1.0h-1.0zM204.52 28.48h1.0v1.0h-1.0zM210.39 27.54h1.0v1.0h-1.0zM201.13 47.29h1.5v1.5h-1.5zM199.19 48.1h1.5v1.5h-1.5zM205.48 28.47h1.0v1.0h-1.0zM195.08 37.12h1.5v1.5h-1.5zM201.38 46.57h1.0v1.0h-1.0zM206.65 43.33h1.5v1.5h-1.5zM196.23 49.19h1.0v1.0h-1.0zM192.16 44.2h1.0v1.0h-1.0zM199.23 32.85h1.0v1.0h-1.0zM208.51 27.34h1.0v1.0h-1.0zM212.8 26.39h1.0v1.0h-1.0zM194.02 47.99h1.0v1.0h-1.0zM204.12 44.63h1.0v1.0h-1.0zM202.68 46.04h1.0v1.0h-1.0zM208.3 41.04h1.0v1.0h-1.0zM199.83 47.98h1.0v1.0h-1.0zM198.53 33.18h1.5v1.5h-1.5zM209.72 38.79h1.5v1.5h-1.5zM212.64 32.5h1.5v1.5h-1.5zM213.32 31.58h1.0v1.0h-1.0zM202.79 46.15h1.5v1.5h-1.5zM198.08 33.18h1.5v1.5h-1.5zM195.65 36.74h1.5v1.5h-1.5zM205.85 43.55h1.5v1.5h-1.5zM194.62 37.71h1.0v1.0h-1.0zM208.71 27.47h1.5v1.5h-1.5zM194.2 37.55h1.5v1.5h-1.5zM193.71 40.12h1.5v1.5h-1.5zM199.59 31.8h1.0v1.0h-1.0zM201.18 47.71h1.5v1.5h-1.5zM212.64 33.18h1.0v1.0h-1.0zM209.74 38.97h1.0v1.0h-1.0zM210.6 37.85h1.0v1.0h-1.0zM192.8 46.17h1.5v1.5h-1.5zM192.9 42.48h1.0v1.0h-1.0zM206.64 43.93h1v1h-1zM200.89 49.56h1v1h-1zM200.75 50.53h1v1h-1zM197.39 47.5h1v1h-1zM210.42 42.27h1v1h-1zM211.03 46h1v1h-1zM193.23 43.97h1v1h-1zM193.77 42.62h1v1h-1zM211.31 48.73h1v1h-1zM206.02 50.99h1.0v1.0h-1.0zM198.47 65.25h1.0v1.0h-1.0zM199.79 52.02h1.0v1.0h-1.0zM204.38 53.45h1.0v1.0h-1.0zM193.01 55.97h1.0v1.0h-1.0zM196.98 60.08h1.0v1.0h-1.0zM218.58 35.66h1.0v1.0h-1.0zM217.85 42.12h1.0v1.0h-1.0zM217.13 29.59h1.4v1.4h-1.4z" fill="#222"/><path d="M195.77 35.95h1.5v1.5h-1.5zM194.87 37.25h1.5v1.5h-1.5zM214.01 31.39h1.5v1.5h-1.5zM211.14 25.76h1.0v1.0h-1.0zM214.2 28.58h1.0v1.0h-1.0zM191.81 47.24h1.0v1.0h-1.0zM198.73 32.88h1.5v1.5h-1.5zM196.1 50.34h1.5v1.5h-1.5zM207.85 27.06h1.0v1.0h-1.0zM191.42 46.68h1.5v1.5h-1.5zM213.54 29.92h1.0v1.0h-1.0zM208.11 26.38h1.5v1.5h-1.5zM211.76 26h1.5v1.5h-1.5zM213.47 28.84h1.0v1.0h-1.0zM191.75 44.02h1.0v1.0h-1.0zM213.83 28.83h1.0v1.0h-1.0zM192.23 41.07h1.5v1.5h-1.5zM201.64 47.97h1.0v1.0h-1.0zM201.52 47.8h1.0v1.0h-1.0zM194.17 48.69h1.0v1.0h-1.0zM190.8 43.81h1.0v1.0h-1.0zM194.54 48.59h1.5v1.5h-1.5zM195.23 49.64h1.5v1.5h-1.5zM201.59 29.98h1.0v1.0h-1.0zM192.81 40.18h1.5v1.5h-1.5zM205.26 28.2h1.5v1.5h-1.5zM200.92 48.26h1.5v1.5h-1.5zM192.09 45.81h1.0v1.0h-1.0zM204.51 45h1.5v1.5h-1.5zM199.51 49.41h1.0v1.0h-1.0zM214.12 26.25h1.5v1.5h-1.5zM205.31 44.71h1.0v1.0h-1.0zM200.64 30.38h1.0v1.0h-1.0zM205.38 45.02h1.0v1.0h-1.0zM211.05 26.25h1.5v1.5h-1.5zM207.1 43.23h1.0v1.0h-1.0zM197.76 49.2h1.0v1.0h-1.0zM206.83 44.03h1.0v1.0h-1.0zM213.02 27.09h1.0v1.0h-1.0zM202.64 44.46h1v1h-1zM198.6 53.66h1v1h-1zM206.36 59.52h1v1h-1zM207.95 54.65h1v1h-1zM199.35 50.55h1v1h-1zM202.85 54.15h1v1h-1zM196.09 48.51h1v1h-1zM206.63 60.89h1.4v1.4h-1.4zM206.91 62.16h1.0v1.0h-1.0zM205.33 60.59h1.0v1.0h-1.0zM200.33 65.19h1.0v1.0h-1.0z" fill="#444"/><path d="M204.51 46.6h1.0v1.0h-1.0zM190.37 47.01h1.0v1.0h-1.0zM205.21 45.54h1.5v1.5h-1.5zM213.84 24.58h1.0v1.0h-1.0zM204.93 45.58h1.0v1.0h-1.0zM206.34 26.51h1.0v1.0h-1.0zM192.63 38.27h1.5v1.5h-1.5zM203.19 47.45h1.5v1.5h-1.5zM213.82 31.14h1.0v1.0h-1.0zM191.63 49.53h1.5v1.5h-1.5zM203.68 27.76h1.0v1.0h-1.0zM210.1 24.48h1.5v1.5h-1.5zM212.13 24.85h1.0v1.0h-1.0zM203.35 47.44h1.5v1.5h-1.5zM192.32 49.19h1.5v1.5h-1.5zM203.87 47.46h1.0v1.0h-1.0zM197.72 50.38h1.0v1.0h-1.0zM212.12 25.07h1.0v1.0h-1.0zM200.85 30.22h1.0v1.0h-1.0zM199.39 31.1h1.0v1.0h-1.0zM210.28 24.58h1.0v1.0h-1.0zM192.44 49.01h1.0v1.0h-1.0z" fill="#777"/><path d="M214.8 20.8V100.3M186.5 78.8H270.3" stroke="#333" stroke-width="1.4" fill="none"/><path d="M186.5 20.8H270.3V100.3" stroke="#4a4a4a" stroke-width="1.5" fill="none"/><path d="M186.5 20.8V100.3H270.3" stroke="#000" stroke-width="1.4" fill="none" stroke-linecap="square"/><path d="M186.5 100.3v3.2M192.81 100.3v2M196.5 100.3v2M199.11 100.3v2M201.14 100.3v2M202.8 100.3v2M204.2 100.3v2M205.42 100.3v2M206.49 100.3v2M207.45 100.3v3.2M213.76 100.3v2M217.45 100.3v2M220.06 100.3v2M222.09 100.3v2M223.75 100.3v2M225.15 100.3v2M226.37 100.3v2M227.44 100.3v2M228.4 100.3v3.2M234.71 100.3v2M238.4 100.3v2M241.01 100.3v2M243.04 100.3v2M244.7 100.3v2M246.1 100.3v2M247.32 100.3v2M248.39 100.3v2M249.35 100.3v3.2M255.66 100.3v2M259.35 100.3v2M261.96 100.3v2M263.99 100.3v2M265.65 100.3v2M267.05 100.3v2M268.27 100.3v2M269.34 100.3v2M270.3 100.3v3.2M186.5 100.3h-3.2M186.5 94.32h-2M186.5 90.82h-2M186.5 88.33h-2M186.5 86.41h-2M186.5 84.83h-2M186.5 83.5h-2M186.5 82.35h-2M186.5 81.33h-2M186.5 80.42h-3.2M186.5 74.44h-2M186.5 70.94h-2M186.5 68.46h-2M186.5 66.53h-2M186.5 64.96h-2M186.5 63.63h-2M186.5 62.48h-2M186.5 61.46h-2M186.5 60.55h-3.2M186.5 54.57h-2M186.5 51.07h-2M186.5 48.58h-2M186.5 46.66h-2M186.5 45.08h-2M186.5 43.75h-2M186.5 42.6h-2M186.5 41.58h-2M186.5 40.67h-3.2M186.5 34.69h-2M186.5 31.19h-2M186.5 28.71h-2M186.5 26.78h-2M186.5 25.21h-2M186.5 23.88h-2M186.5 22.73h-2M186.5 21.71h-2M186.5 20.8h-3.2" stroke="#000" stroke-width="0.8" fill="none"/><g fill="#000" stroke="#000" stroke-width="0.32"><text x="186.9" y="110.5" font-size="6.6" text-anchor="middle">10<tspan dy="-3.0" font-size="5.4">0</tspan></text><text x="207.85" y="110.5" font-size="6.6" text-anchor="middle">10<tspan dy="-3.0" font-size="5.4">1</tspan></text><text x="228.8" y="110.5" font-size="6.6" text-anchor="middle">10<tspan dy="-3.0" font-size="5.4">2</tspan></text><text x="249.75" y="110.5" font-size="6.6" text-anchor="middle">10<tspan dy="-3.0" font-size="5.4">3</tspan></text><text x="270.7" y="110.5" font-size="6.6" text-anchor="middle">10<tspan dy="-3.0" font-size="5.4">4</tspan></text><text transform="translate(181.5 100.9) rotate(-90)" font-size="6.6" text-anchor="middle">10<tspan dy="-3.0" font-size="5.4">0</tspan></text><text transform="translate(181.5 81.02) rotate(-90)" font-size="6.6" text-anchor="middle">10<tspan dy="-3.0" font-size="5.4">1</tspan></text><text transform="translate(181.5 61.15) rotate(-90)" font-size="6.6" text-anchor="middle">10<tspan dy="-3.0" font-size="5.4">2</tspan></text><text transform="translate(181.5 41.27) rotate(-90)" font-size="6.6" text-anchor="middle">10<tspan dy="-3.0" font-size="5.4">3</tspan></text><text transform="translate(181.5 21.4) rotate(-90)" font-size="6.6" text-anchor="middle">10<tspan dy="-3.0" font-size="5.4">4</tspan></text></g>
<polygon points="334.63,28.91 333.58,29.1 333.33,28.54 332.51,28.57 331.66,28.68 331.05,28.44 330.14,28.63 329.2,28.85 328.41,28.67 327.31,29.2 326.27,29.55 325.19,30.08 324.08,30.48 323,31.17 322.05,32.08 320.84,32.56 319.79,33.33 318.72,34.14 317.55,34.98 316.87,36 316.15,37 315.44,38.02 315.44,38.97 315.33,39.88 315.38,40.73 315.29,41.6 315.53,42.33 315.6,43.15 315.93,43.81 316.29,44.45 316.14,45.56 316.58,46.22 317,46.94 317.71,47.37 318.82,47.22 319.7,47.33 320.72,47.14 321.54,47.38 322.7,46.64 323.69,46.26 324.67,46.18 325.7,45.53 326.68,44.63 327.74,44.12 328.69,43.23 329.5,42.17 330.11,41.05 331,40.16 331.51,39.11 332.17,38.14 332.97,37.16 333.51,36.17 334.18,35.13 334.38,34.22 335.02,33.16 335.52,32.11 335.39,31.39 335.96,30.25 335.26,29.95 334.82,29.53" fill="#000"/><path d="M317.98 35.97h1.0v1.0h-1.0zM334.39 35.07h1.0v1.0h-1.0zM324.14 30.94h1.5v1.5h-1.5zM332.66 28.32h1.0v1.0h-1.0zM318.55 34.71h1.0v1.0h-1.0zM331.85 28.08h1.0v1.0h-1.0zM325.19 45.94h1.0v1.0h-1.0zM314.99 41.63h1.5v1.5h-1.5zM332.96 28.5h1.0v1.0h-1.0zM316.92 36.15h1.0v1.0h-1.0zM315.33 39.71h1.0v1.0h-1.0zM315.12 44.24h1.5v1.5h-1.5zM320.62 47.1h1.0v1.0h-1.0zM334.14 33.85h1.5v1.5h-1.5zM334.7 31.32h1.5v1.5h-1.5zM316.32 37h1.5v1.5h-1.5zM331.15 39.88h1.0v1.0h-1.0zM314.81 44.27h1.0v1.0h-1.0zM330.34 28.5h1.0v1.0h-1.0zM315.48 39.4h1.5v1.5h-1.5zM315.8 44.66h1.0v1.0h-1.0zM335.01 34.23h1.0v1.0h-1.0zM316.38 45.77h1.0v1.0h-1.0zM316.66 45.2h1.5v1.5h-1.5zM331.17 39.64h1.0v1.0h-1.0zM322.4 32.1h1.0v1.0h-1.0zM314.92 40.53h1.0v1.0h-1.0zM331.4 40.29h1.5v1.5h-1.5zM314.81 41.56h1.0v1.0h-1.0zM321.4 32.62h1.0v1.0h-1.0zM329.57 42.09h1.5v1.5h-1.5zM331.36 40.06h1.0v1.0h-1.0zM334.21 33.3h1.5v1.5h-1.5zM320.82 32.76h1.0v1.0h-1.0zM325.79 45.02h1.5v1.5h-1.5zM333.76 29.49h1.0v1.0h-1.0zM315.64 41.55h1.5v1.5h-1.5zM316.91 37.15h1.5v1.5h-1.5zM318.03 34.54h1.0v1.0h-1.0zM325.14 30.14h1.0v1.0h-1.0zM324.82 30.69h1.5v1.5h-1.5zM316.9 46.61h1.5v1.5h-1.5zM331.79 38.55h1.0v1.0h-1.0zM331.85 27.79h1.5v1.5h-1.5zM324.31 46.52h1.5v1.5h-1.5zM328.32 43.25h1.5v1.5h-1.5zM315.81 40.2h1.0v1.0h-1.0zM334.96 34.34h1.0v1.0h-1.0zM324.31 30.78h1.0v1.0h-1.0zM329.55 28.96h1.0v1.0h-1.0zM314.61 43.75h1.5v1.5h-1.5zM318.16 47.5h1.0v1.0h-1.0zM322.63 46.3h1.0v1.0h-1.0zM320.33 33.64h1.0v1.0h-1.0zM325.37 45.45h1.0v1.0h-1.0zM329.71 28.36h1.5v1.5h-1.5zM334.35 31.71h1.0v1.0h-1.0zM316.82 37.33h1.0v1.0h-1.0zM331.25 39.87h1.5v1.5h-1.5zM329.24 42.71h1.5v1.5h-1.5zM323.2 30.93h1.0v1.0h-1.0zM331.53 28.5h1.5v1.5h-1.5zM334.06 29.26h1.0v1.0h-1.0zM315.11 43.2h1.0v1.0h-1.0zM332.79 28.81h1.0v1.0h-1.0zM316.45 37.41h1.0v1.0h-1.0zM323.02 31.48h1.5v1.5h-1.5zM327.92 43.12h1.0v1.0h-1.0zM332 38.94h1.5v1.5h-1.5zM325.65 45.43h1.5v1.5h-1.5zM316.47 37.5h1.0v1.0h-1.0zM324.28 30.75h1.0v1.0h-1.0zM328 43.74h1.0v1.0h-1.0zM322.55 46.96h1.5v1.5h-1.5zM332.86 28.48h1.5v1.5h-1.5zM314.52 44.09h1.0v1.0h-1.0zM327.02 29.51h1.5v1.5h-1.5zM328.98 27.91h1.0v1.0h-1.0zM328.47 28.43h1.0v1.0h-1.0zM333.47 29.55h1.5v1.5h-1.5zM315.17 39.89h1.0v1.0h-1.0zM328.74 28.78h1.0v1.0h-1.0zM327.28 45.03h1.0v1.0h-1.0zM327.46 43.98h1.0v1.0h-1.0zM326.23 45.12h1.5v1.5h-1.5zM331.74 28.8h1.0v1.0h-1.0zM329.45 43.18h1.0v1.0h-1.0zM334.16 30.37h1.0v1.0h-1.0zM334.69 31.92h1.0v1.0h-1.0zM334.3 30.39h1.5v1.5h-1.5zM334.01 34.06h1.5v1.5h-1.5zM332.25 37.86h1.0v1.0h-1.0zM320.66 46.66h1.0v1.0h-1.0zM318.64 34.7h1.0v1.0h-1.0zM328.94 28.81h1.5v1.5h-1.5zM330.42 41.07h1.0v1.0h-1.0zM320.96 46.48h1.0v1.0h-1.0zM334.15 34.56h1.0v1.0h-1.0zM315.39 42.84h1.0v1.0h-1.0zM316.65 36.48h1.0v1.0h-1.0zM321.1 32.82h1.0v1.0h-1.0zM334.41 32.5h1.0v1.0h-1.0zM333.42 29.4h1.5v1.5h-1.5zM329.01 42.06h1.0v1.0h-1.0zM326.21 45.41h1.0v1.0h-1.0zM326.5 45.6h1.0v1.0h-1.0zM332.47 27.56h1.0v1.0h-1.0zM316.49 44.87h1.5v1.5h-1.5zM319.86 33.98h1.0v1.0h-1.0zM314.69 41.44h1.5v1.5h-1.5zM333.89 35.83h1.0v1.0h-1.0zM330.72 27.87h1.5v1.5h-1.5zM323.76 46.62h1.0v1.0h-1.0zM333.57 36.02h1.0v1.0h-1.0zM316.24 38.69h1.5v1.5h-1.5zM315.5 38.94h1.0v1.0h-1.0zM321.14 32.71h1.0v1.0h-1.0zM322.39 31.16h1.0v1.0h-1.0zM327.28 43.89h1.0v1.0h-1.0zM315.77 44.64h1.0v1.0h-1.0zM332.1 27.99h1.0v1.0h-1.0zM334.84 31.57h1.0v1.0h-1.0zM319.06 46.53h1.5v1.5h-1.5zM330.96 28.6h1.0v1.0h-1.0zM315.1 45.28h1.0v1.0h-1.0zM323.9 46h1.0v1.0h-1.0zM318.06 45.97h1.0v1.0h-1.0zM321.08 46.93h1.5v1.5h-1.5zM328.99 42.71h1.5v1.5h-1.5zM334.55 33.24h1.0v1.0h-1.0zM331.43 27.97h1.0v1.0h-1.0zM315.03 42.89h1.5v1.5h-1.5zM335.06 31.31h1.0v1.0h-1.0zM334.26 28.63h1.0v1.0h-1.0zM334.62 31.21h1.0v1.0h-1.0zM316.73 36.32h1.5v1.5h-1.5zM334.46 29.05h1.0v1.0h-1.0zM327.39 44.18h1.0v1.0h-1.0zM329.2 28.41h1.0v1.0h-1.0zM319.96 46.67h1.5v1.5h-1.5zM321.76 31.73h1.0v1.0h-1.0zM334.65 30.82h1.0v1.0h-1.0zM318.45 34.52h1.5v1.5h-1.5zM323.87 46.38h1.0v1.0h-1.0zM320.3 46.53h1.5v1.5h-1.5zM334.39 30.78h1.5v1.5h-1.5zM325.31 30.02h1.5v1.5h-1.5zM321.53 31.7h1.5v1.5h-1.5zM325.03 45.21h1.0v1.0h-1.0zM327.12 43.92h1.5v1.5h-1.5zM334.45 30.89h1.0v1.0h-1.0zM334.34 33.45h1.0v1.0h-1.0zM323.25 31.53h1.0v1.0h-1.0zM315.22 41.84h1.0v1.0h-1.0zM325.71 29.76h1.0v1.0h-1.0zM325.25 45.69h1.5v1.5h-1.5zM327.03 44.68h1.5v1.5h-1.5zM320.78 33.11h1.5v1.5h-1.5zM334.35 36.06h1.0v1.0h-1.0zM316.83 47.26h1.5v1.5h-1.5zM331.98 28.03h1.5v1.5h-1.5zM322.35 32.11h1.0v1.0h-1.0zM327.29 29.57h1.0v1.0h-1.0zM316.51 36.18h1.0v1.0h-1.0zM331.24 28.1h1.0v1.0h-1.0zM322.21 46.62h1.5v1.5h-1.5zM315.96 37.51h1.0v1.0h-1.0zM334.74 31.97h1.0v1.0h-1.0zM315.76 39.87h1.5v1.5h-1.5zM331.46 39.3h1.0v1.0h-1.0zM327.14 44.3h1.5v1.5h-1.5zM324.53 29.88h1.0v1.0h-1.0zM322.86 46.15h1.0v1.0h-1.0zM322.76 31.43h1.5v1.5h-1.5zM324.48 45.49h1.0v1.0h-1.0zM331.52 39.52h1.5v1.5h-1.5zM321.02 47.64h1.0v1.0h-1.0zM316.33 44.43h1.0v1.0h-1.0zM314.98 44.42h1.5v1.5h-1.5zM331.4 28.91h1.0v1.0h-1.0zM332.56 28.44h1.0v1.0h-1.0zM332.98 37.18h1.5v1.5h-1.5zM316.37 37.29h1.0v1.0h-1.0zM321.07 46.84h1.5v1.5h-1.5zM329.84 28.53h1.0v1.0h-1.0zM314.77 44.77h1.5v1.5h-1.5zM333.57 35.91h1.5v1.5h-1.5zM333.6 35.46h1.5v1.5h-1.5zM334.16 33.56h1.5v1.5h-1.5zM333.49 36.25h1.0v1.0h-1.0zM315.62 38.18h1.0v1.0h-1.0zM319.59 45.54h1v1h-1zM319.08 44.46h1v1h-1zM329.3 51.07h1v1h-1zM326.57 61.69h1v1h-1zM323.49 51.5h1v1h-1zM328.39 47.45h1v1h-1zM336.6 42.59h1v1h-1zM327.26 43.07h1v1h-1zM320.35 54.23h1.4v1.4h-1.4zM329.59 61.76h1.4v1.4h-1.4zM327.77 68h1.4v1.4h-1.4zM322.66 74.11h1.0v1.0h-1.0zM317.3 60.27h1.0v1.0h-1.0zM318.25 65.6h1.0v1.0h-1.0zM327.04 73.29h1.0v1.0h-1.0zM361.08 60.46h1.4v1.4h-1.4z" fill="#000"/><path d="M334.51 36.77h1.0v1.0h-1.0zM327.09 28.94h1.0v1.0h-1.0zM335.51 32.35h1.0v1.0h-1.0zM335.47 28.35h1.5v1.5h-1.5zM336.3 31.3h1.5v1.5h-1.5zM317.93 47.87h1.5v1.5h-1.5zM326.13 29.1h1.5v1.5h-1.5zM314.82 44.65h1.0v1.0h-1.0zM328.78 28.59h1.0v1.0h-1.0zM335.63 33.4h1.0v1.0h-1.0zM328.4 27.47h1.0v1.0h-1.0zM315.97 45.54h1.5v1.5h-1.5zM334.69 34.77h1.0v1.0h-1.0zM321.63 31.87h1.0v1.0h-1.0zM325.7 46.02h1.5v1.5h-1.5zM313.71 41.66h1.5v1.5h-1.5zM320.2 47.63h1.5v1.5h-1.5zM326.98 45.68h1.5v1.5h-1.5zM325.67 45.46h1.0v1.0h-1.0zM335.27 31.68h1.5v1.5h-1.5zM316.24 46.96h1.0v1.0h-1.0zM335.6 29.14h1.5v1.5h-1.5zM319.07 33.84h1.5v1.5h-1.5zM315.23 37.87h1.0v1.0h-1.0zM333.62 27h1.0v1.0h-1.0zM335.08 30.07h1.0v1.0h-1.0zM327.46 28.13h1.5v1.5h-1.5zM336.48 31.57h1.0v1.0h-1.0zM326.36 46.09h1.5v1.5h-1.5zM315.43 38.01h1.0v1.0h-1.0zM316.03 47.95h1.5v1.5h-1.5zM315.6 46.19h1.0v1.0h-1.0zM316.12 45.62h1.5v1.5h-1.5zM318.71 33.4h1.5v1.5h-1.5zM317.28 46.9h1.0v1.0h-1.0zM334.24 27.83h1.0v1.0h-1.0zM316.34 46.16h1.5v1.5h-1.5zM335.38 28.92h1.0v1.0h-1.0zM329.03 43.37h1.0v1.0h-1.0zM326.81 44.83h1.5v1.5h-1.5zM336.43 30.02h1.5v1.5h-1.5zM323.65 30.41h1.0v1.0h-1.0zM320.52 32.44h1.0v1.0h-1.0zM314.48 40.15h1.5v1.5h-1.5zM316.92 36.44h1.5v1.5h-1.5zM315.74 44.96h1.0v1.0h-1.0zM328.39 44.13h1.0v1.0h-1.0zM336.51 30.88h1.0v1.0h-1.0zM316.32 46.18h1.0v1.0h-1.0zM334.07 36.18h1.0v1.0h-1.0zM327.52 28.88h1.5v1.5h-1.5zM332.25 39.58h1.5v1.5h-1.5zM331.58 41.22h1.0v1.0h-1.0zM333.73 37.67h1.0v1.0h-1.0zM323.63 46.62h1.0v1.0h-1.0zM313.58 41.78h1.5v1.5h-1.5zM323.18 30.66h1.0v1.0h-1.0zM335.42 29.94h1.5v1.5h-1.5zM334.48 27.44h1.5v1.5h-1.5zM324.69 29.11h1.5v1.5h-1.5zM324.11 47.27h1.0v1.0h-1.0zM314.47 40.15h1.0v1.0h-1.0zM321.52 31.41h1.0v1.0h-1.0zM326.16 28.27h1.5v1.5h-1.5zM323.73 30.7h1.0v1.0h-1.0zM321.97 46.87h1.0v1.0h-1.0zM315.37 39.38h1.0v1.0h-1.0zM329.32 43.04h1.5v1.5h-1.5zM323.56 30.54h1.0v1.0h-1.0zM335.56 30.86h1.5v1.5h-1.5zM333.71 37h1.5v1.5h-1.5zM334.57 29.56h1.5v1.5h-1.5zM321.68 31.08h1.0v1.0h-1.0zM328.25 43.85h1.0v1.0h-1.0zM336.18 32.56h1.0v1.0h-1.0zM333.12 37.55h1.5v1.5h-1.5zM316.12 47.02h1.0v1.0h-1.0zM330.53 27.31h1.0v1.0h-1.0zM330.26 27.95h1.0v1.0h-1.0zM334.94 29.95h1.5v1.5h-1.5zM334.9 33.01h1.0v1.0h-1.0zM324.91 30h1.0v1.0h-1.0zM322.14 31.22h1.5v1.5h-1.5zM329.87 41.94h1.0v1.0h-1.0zM325.78 47.23h1v1h-1zM324.03 56.61h1v1h-1zM317.87 57.9h1v1h-1zM327.23 60.44h1v1h-1zM330.4 45.97h1v1h-1zM325.29 43.58h1v1h-1zM315.64 52.51h1v1h-1zM329.26 55.92h1v1h-1zM331.81 45.15h1v1h-1zM318.29 72.73h1.4v1.4h-1.4zM317.37 65.83h1.0v1.0h-1.0zM323.27 69.27h1.4v1.4h-1.4zM324.03 55.26h1.0v1.0h-1.0z" fill="#222"/><path d="M312.44 43.05h1.0v1.0h-1.0zM334.24 26.34h1.0v1.0h-1.0zM313.91 45.05h1.0v1.0h-1.0zM316.17 36.37h1.0v1.0h-1.0zM333.32 27.09h1.0v1.0h-1.0zM336.82 31.13h1.0v1.0h-1.0zM336.52 28.31h1.0v1.0h-1.0zM325.46 46.75h1.0v1.0h-1.0zM318.05 34.44h1.0v1.0h-1.0zM331.46 26.98h1.0v1.0h-1.0zM326.39 46.48h1.5v1.5h-1.5zM314.81 38.01h1.5v1.5h-1.5zM331.39 26.29h1.0v1.0h-1.0zM325.75 46.06h1.5v1.5h-1.5zM315.48 36.41h1.5v1.5h-1.5zM318.86 49.37h1.0v1.0h-1.0zM317.53 34.26h1.0v1.0h-1.0zM336.39 29.3h1.5v1.5h-1.5zM319.43 33.09h1.0v1.0h-1.0zM318.59 48.25h1.0v1.0h-1.0zM327.16 45.46h1.5v1.5h-1.5zM332.35 39.77h1.0v1.0h-1.0zM312.8 45.76h1.0v1.0h-1.0zM321.79 30.83h1.5v1.5h-1.5zM335.49 27.12h1.5v1.5h-1.5zM330.14 43.59h1.5v1.5h-1.5zM313.91 41.65h1.5v1.5h-1.5zM328.06 44.98h1.5v1.5h-1.5zM335.92 28.76h1.5v1.5h-1.5zM336.5 27.55h1.5v1.5h-1.5zM313.13 43.85h1.5v1.5h-1.5zM333.38 27.49h1.5v1.5h-1.5zM335.84 35.28h1.0v1.0h-1.0zM335.62 33.52h1.5v1.5h-1.5zM331.33 41.92h1.0v1.0h-1.0zM315.39 47.21h1.5v1.5h-1.5zM313.94 45.86h1.5v1.5h-1.5zM333.03 26.52h1.0v1.0h-1.0zM328.94 27.81h1.0v1.0h-1.0zM330.15 70.54h1v1h-1zM326.51 46h1v1h-1zM326.17 43.88h1v1h-1zM335.13 48.6h1v1h-1zM321.17 55.19h1v1h-1zM311.91 46.18h1v1h-1zM321.73 44.36h1v1h-1zM318.18 43.32h1v1h-1zM324.77 48.93h1v1h-1zM314.59 61.03h1v1h-1zM329.75 53.13h1v1h-1zM317.76 56.15h1.0v1.0h-1.0zM318.03 56.45h1.0v1.0h-1.0zM325.03 52.01h1.4v1.4h-1.4zM328.5 52.59h1.0v1.0h-1.0zM315.8 49.55h1.0v1.0h-1.0z" fill="#444"/><path d="M336.99 30.37h1.0v1.0h-1.0zM331.67 26.4h1.5v1.5h-1.5zM319.96 30.95h1.0v1.0h-1.0zM334.3 38.89h1.0v1.0h-1.0zM312.81 36.66h1.5v1.5h-1.5zM329.14 26.37h1.5v1.5h-1.5zM312.62 43.95h1.5v1.5h-1.5zM330.73 25.7h1.5v1.5h-1.5zM337.64 32.67h1.5v1.5h-1.5zM311.83 41.54h1.0v1.0h-1.0zM336.95 28.18h1.0v1.0h-1.0zM317.66 48.99h1.0v1.0h-1.0zM325.26 47.34h1.0v1.0h-1.0zM328.01 46.59h1.0v1.0h-1.0zM312.24 43.72h1.0v1.0h-1.0zM331.73 26.43h1.5v1.5h-1.5zM312.46 39.48h1.0v1.0h-1.0zM329.05 44.72h1.0v1.0h-1.0zM333.43 25.64h1.0v1.0h-1.0zM312.93 45.19h1.0v1.0h-1.0zM337.84 31.03h1.0v1.0h-1.0zM314.58 49.39h1.5v1.5h-1.5zM324.03 28.89h1.0v1.0h-1.0zM312.88 39.73h1.5v1.5h-1.5zM317.07 32.8h1.5v1.5h-1.5zM313.09 41.12h1.0v1.0h-1.0z" fill="#777"/><path d="M338.6 20.5V99.6M310.8 77.9H394.2" stroke="#333" stroke-width="1.4" fill="none"/><path d="M310.8 20.5H394.2V99.6" stroke="#4a4a4a" stroke-width="1.5" fill="none"/><path d="M310.8 20.5V99.6H394.2" stroke="#000" stroke-width="1.4" fill="none" stroke-linecap="square"/><path d="M310.8 99.6v3.2M317.08 99.6v2M320.75 99.6v2M323.35 99.6v2M325.37 99.6v2M327.02 99.6v2M328.42 99.6v2M329.63 99.6v2M330.7 99.6v2M331.65 99.6v3.2M337.93 99.6v2M341.6 99.6v2M344.2 99.6v2M346.22 99.6v2M347.87 99.6v2M349.27 99.6v2M350.48 99.6v2M351.55 99.6v2M352.5 99.6v3.2M358.78 99.6v2M362.45 99.6v2M365.05 99.6v2M367.07 99.6v2M368.72 99.6v2M370.12 99.6v2M371.33 99.6v2M372.4 99.6v2M373.35 99.6v3.2M379.63 99.6v2M383.3 99.6v2M385.9 99.6v2M387.92 99.6v2M389.57 99.6v2M390.97 99.6v2M392.18 99.6v2M393.25 99.6v2M394.2 99.6v3.2M310.8 99.6h-3.2M310.8 93.65h-2M310.8 90.16h-2M310.8 87.69h-2M310.8 85.78h-2M310.8 84.21h-2M310.8 82.89h-2M310.8 81.74h-2M310.8 80.73h-2M310.8 79.82h-3.2M310.8 73.87h-2M310.8 70.39h-2M310.8 67.92h-2M310.8 66h-2M310.8 64.44h-2M310.8 63.11h-2M310.8 61.97h-2M310.8 60.95h-2M310.8 60.05h-3.2M310.8 54.1h-2M310.8 50.61h-2M310.8 48.14h-2M310.8 46.23h-2M310.8 44.66h-2M310.8 43.34h-2M310.8 42.19h-2M310.8 41.18h-2M310.8 40.27h-3.2M310.8 34.32h-2M310.8 30.84h-2M310.8 28.37h-2M310.8 26.45h-2M310.8 24.89h-2M310.8 23.56h-2M310.8 22.42h-2M310.8 21.4h-2M310.8 20.5h-3.2" stroke="#000" stroke-width="0.8" fill="none"/><g fill="#000" stroke="#000" stroke-width="0.32"><text x="311.2" y="109.8" font-size="6.6" text-anchor="middle">10<tspan dy="-3.0" font-size="5.4">0</tspan></text><text x="332.05" y="109.8" font-size="6.6" text-anchor="middle">10<tspan dy="-3.0" font-size="5.4">1</tspan></text><text x="352.9" y="109.8" font-size="6.6" text-anchor="middle">10<tspan dy="-3.0" font-size="5.4">2</tspan></text><text x="373.75" y="109.8" font-size="6.6" text-anchor="middle">10<tspan dy="-3.0" font-size="5.4">3</tspan></text><text x="394.6" y="109.8" font-size="6.6" text-anchor="middle">10<tspan dy="-3.0" font-size="5.4">4</tspan></text><text transform="translate(305.8 100.2) rotate(-90)" font-size="6.6" text-anchor="middle">10<tspan dy="-3.0" font-size="5.4">0</tspan></text><text transform="translate(305.8 80.42) rotate(-90)" font-size="6.6" text-anchor="middle">10<tspan dy="-3.0" font-size="5.4">1</tspan></text><text transform="translate(305.8 60.65) rotate(-90)" font-size="6.6" text-anchor="middle">10<tspan dy="-3.0" font-size="5.4">2</tspan></text><text transform="translate(305.8 40.88) rotate(-90)" font-size="6.6" text-anchor="middle">10<tspan dy="-3.0" font-size="5.4">3</tspan></text><text transform="translate(305.8 21.1) rotate(-90)" font-size="6.6" text-anchor="middle">10<tspan dy="-3.0" font-size="5.4">4</tspan></text></g>
<polygon points="453.97,40.65 454.13,39.78 453.99,38.95 453.62,38.17 453.01,37.45 452.25,36.78 451.04,36.39 450.31,35.62 449.19,35.12 447.61,35.17 446.69,34.29 445.23,34.2 443.82,34.08 442.41,33.84 440.93,33.29 439.4,33.41 438.02,33.96 436.57,34.23 435.28,34.76 434.04,35.34 433.44,36.47 432.37,37.11 431.92,38.13 431.4,38.96 431.4,39.8 431.4,40.64 431.4,41.61 431.4,42.72 431.4,43.87 431.4,45.04 431.4,46.17 431.4,47.29 431.4,48.34 431.4,49.35 431.4,50.07 431.4,51 432.02,51.7 432.75,52.63 434.12,52.86 435.17,53.49 436.66,53.36 438.08,53.15 439.38,53.2 440.77,52.59 442.05,52.21 443.29,51.74 444.67,51.67 446.07,51.37 447.25,50.63 448.61,50.09 450,49.49 451.24,48.72 452.56,47.94 453.25,46.91 453.69,45.87 454.6,44.97 454.53,43.97 454.07,43.07 454.72,42.19 454.52,41.37" fill="#000"/><path d="M454.12 39.26h1.0v1.0h-1.0zM433.37 36.31h1.5v1.5h-1.5zM447.66 35.45h1.0v1.0h-1.0zM441.01 52.96h1.5v1.5h-1.5zM432.79 49.22h1.0v1.0h-1.0zM443.23 52.2h1.5v1.5h-1.5zM454.24 39.49h1.0v1.0h-1.0zM454.22 40.85h1.0v1.0h-1.0zM431.7 36.74h1.5v1.5h-1.5zM432.06 47.81h1.5v1.5h-1.5zM432.72 42.85h1.5v1.5h-1.5zM454.95 40.2h1.0v1.0h-1.0zM432.84 49.96h1.5v1.5h-1.5zM443.93 51.81h1.0v1.0h-1.0zM453.37 44.07h1.5v1.5h-1.5zM453.74 45.42h1.0v1.0h-1.0zM441.52 52.44h1.5v1.5h-1.5zM432.83 43.14h1.0v1.0h-1.0zM434.88 52.27h1.0v1.0h-1.0zM452.57 46.05h1.0v1.0h-1.0zM431.91 44.01h1.5v1.5h-1.5zM432.58 44.28h1.0v1.0h-1.0zM454.94 42.41h1.5v1.5h-1.5zM431.65 39.91h1.0v1.0h-1.0zM432.23 45.53h1.5v1.5h-1.5zM432.22 38.92h1.0v1.0h-1.0zM443.47 33.84h1.5v1.5h-1.5zM454.86 43.15h1.5v1.5h-1.5zM440.06 34.17h1.0v1.0h-1.0zM443.22 34.6h1.0v1.0h-1.0zM432.06 50.75h1.0v1.0h-1.0zM449.24 49.03h1.0v1.0h-1.0zM448.31 35.22h1.0v1.0h-1.0zM447.11 34.6h1.0v1.0h-1.0zM440.65 33.7h1.5v1.5h-1.5zM448.57 49.29h1.0v1.0h-1.0zM432.91 36.23h1.5v1.5h-1.5zM431.58 52.48h1.0v1.0h-1.0zM451.79 37.14h1.5v1.5h-1.5zM434.89 35.35h1.0v1.0h-1.0zM439.79 53.7h1.0v1.0h-1.0zM454.71 40.81h1.5v1.5h-1.5zM432.43 39.42h1.0v1.0h-1.0zM432.8 45.77h1.5v1.5h-1.5zM448.85 34.63h1.0v1.0h-1.0zM438.21 53.34h1.5v1.5h-1.5zM438.99 53.34h1.0v1.0h-1.0zM436.88 33.6h1.0v1.0h-1.0zM441.5 52.57h1.5v1.5h-1.5zM436.58 54.43h1.0v1.0h-1.0zM431.91 44.96h1.0v1.0h-1.0zM431.88 50.77h1.0v1.0h-1.0zM437.55 34.8h1.5v1.5h-1.5zM432.46 38.26h1.5v1.5h-1.5zM431.71 37.34h1.5v1.5h-1.5zM435.6 53.43h1.5v1.5h-1.5zM441.32 34.3h1.0v1.0h-1.0zM446.74 50.53h1.0v1.0h-1.0zM445.17 34.34h1.0v1.0h-1.0zM431.69 41.12h1.5v1.5h-1.5zM439.03 33.9h1.0v1.0h-1.0zM434.1 51.93h1.0v1.0h-1.0zM453.75 45.3h1.0v1.0h-1.0zM431.89 50.16h1.5v1.5h-1.5zM431.58 46.67h1.0v1.0h-1.0zM432.88 44.71h1.0v1.0h-1.0zM452.17 36.28h1.0v1.0h-1.0zM442.92 34.56h1.5v1.5h-1.5zM432.2 35.64h1.0v1.0h-1.0zM455.54 42.75h1.0v1.0h-1.0zM433.08 36.65h1.0v1.0h-1.0zM432.39 37.33h1.5v1.5h-1.5zM431.75 39.92h1.5v1.5h-1.5zM438.95 34.66h1.5v1.5h-1.5zM432.71 52.29h1.0v1.0h-1.0zM449.07 35.1h1.0v1.0h-1.0zM432.53 42.19h1.0v1.0h-1.0zM450.46 36.33h1.5v1.5h-1.5zM441.65 52.57h1.0v1.0h-1.0zM451.72 47.92h1.0v1.0h-1.0zM432.79 42.11h1.5v1.5h-1.5zM454.45 42.73h1.5v1.5h-1.5zM453.94 39.33h1.5v1.5h-1.5zM452.12 47.07h1.0v1.0h-1.0zM435.95 53.33h1.0v1.0h-1.0zM444.04 33.94h1.5v1.5h-1.5zM448.51 50.49h1.5v1.5h-1.5zM432.27 38.19h1.0v1.0h-1.0zM454.28 40.49h1.5v1.5h-1.5zM431.74 52.09h1.5v1.5h-1.5zM445.68 51.76h1.5v1.5h-1.5zM454.09 42.93h1.0v1.0h-1.0zM447.89 34.9h1.0v1.0h-1.0zM432.27 38.86h1.0v1.0h-1.0zM432.21 50.12h1.0v1.0h-1.0zM435.32 35.63h1.0v1.0h-1.0zM438.52 53.81h1.5v1.5h-1.5zM450.86 49.53h1.5v1.5h-1.5zM439.62 33.77h1.0v1.0h-1.0zM439.53 34.18h1.0v1.0h-1.0zM431.57 37.96h1.0v1.0h-1.0zM432.8 40.44h1.0v1.0h-1.0zM444.92 51.87h1.5v1.5h-1.5zM431.95 49.46h1.5v1.5h-1.5zM454.28 39.92h1.5v1.5h-1.5zM450.42 48.85h1.0v1.0h-1.0zM441.67 52.46h1.0v1.0h-1.0zM436.23 52.65h1.0v1.0h-1.0zM432.31 51.19h1.0v1.0h-1.0zM437.01 53.25h1.0v1.0h-1.0zM452.43 37.66h1.5v1.5h-1.5zM445.28 34.82h1.0v1.0h-1.0zM431.74 41.65h1.5v1.5h-1.5zM435.11 53.07h1.5v1.5h-1.5zM451.83 47.1h1.5v1.5h-1.5zM454.7 43.69h1.0v1.0h-1.0zM454.29 39.6h1.0v1.0h-1.0zM447.68 34.93h1.0v1.0h-1.0zM451.69 36.63h1.0v1.0h-1.0zM452.87 38.65h1.5v1.5h-1.5zM431.92 51.56h1.5v1.5h-1.5zM453.06 37.59h1.5v1.5h-1.5zM431.58 50.8h1.5v1.5h-1.5zM447.76 51.11h1.0v1.0h-1.0zM432.74 40.44h1.0v1.0h-1.0zM433.21 51.67h1.0v1.0h-1.0zM450.83 36.2h1.0v1.0h-1.0zM438.24 53.66h1.5v1.5h-1.5zM431.96 41.16h1.5v1.5h-1.5zM440.58 53.14h1.5v1.5h-1.5zM451.89 46.76h1.0v1.0h-1.0zM437.03 53.04h1.0v1.0h-1.0zM432.75 36.19h1.0v1.0h-1.0zM440.77 52.97h1.0v1.0h-1.0zM431.4 38.15h1.5v1.5h-1.5zM439.29 34.11h1.5v1.5h-1.5zM431.77 46.2h1.0v1.0h-1.0zM440.32 52.76h1.5v1.5h-1.5zM432.21 49.01h1.0v1.0h-1.0zM444.59 34.03h1.5v1.5h-1.5zM447.98 50.35h1.0v1.0h-1.0zM452.8 46.15h1.0v1.0h-1.0zM454.49 43.09h1.5v1.5h-1.5zM446.83 51.03h1.5v1.5h-1.5zM452.5 37.12h1.0v1.0h-1.0zM443.77 33.33h1.0v1.0h-1.0zM454.62 42.22h1.5v1.5h-1.5zM431.79 51.44h1.5v1.5h-1.5zM431.96 48.47h1.0v1.0h-1.0zM450.72 36.46h1.0v1.0h-1.0zM432.54 50.83h1.5v1.5h-1.5zM432.09 49.88h1.0v1.0h-1.0zM453.91 42.16h1.5v1.5h-1.5zM434.09 35.79h1.5v1.5h-1.5zM431.74 38.56h1.5v1.5h-1.5zM432.66 45.69h1.0v1.0h-1.0zM453.73 44.22h1.0v1.0h-1.0zM447.52 34.56h1.5v1.5h-1.5zM450.1 35.35h1.5v1.5h-1.5zM451.33 47.38h1.5v1.5h-1.5zM437.68 35.05h1.0v1.0h-1.0zM431.56 43.84h1.0v1.0h-1.0zM447.02 34.47h1.0v1.0h-1.0zM451.31 36.82h1.0v1.0h-1.0zM451.9 47.15h1.0v1.0h-1.0zM454.09 39.04h1.5v1.5h-1.5zM442.63 33.84h1.0v1.0h-1.0zM450.8 47.5h1.0v1.0h-1.0zM445.12 52.41h1.0v1.0h-1.0zM431.59 38.42h1.5v1.5h-1.5zM454.05 44.51h1.0v1.0h-1.0zM431.92 69.63h1v1h-1zM440.17 56.63h1v1h-1zM436.42 54.25h1v1h-1zM449.83 61.28h1v1h-1zM450.66 61.64h1.0v1.0h-1.0zM441.2 60.98h1.0v1.0h-1.0zM450.25 55.2h1.0v1.0h-1.0zM446.48 65.6h1.0v1.0h-1.0zM442.61 68.33h1.4v1.4h-1.4zM459.64 53.22h1.4v1.4h-1.4zM453.82 57.8h1.0v1.0h-1.0zM451.77 59.43h1.0v1.0h-1.0zM455.84 59.27h1.0v1.0h-1.0zM433.61 59.53h1.4v1.4h-1.4zM448.6 56.81h1.4v1.4h-1.4zM433.35 60.26h1.0v1.0h-1.0z" fill="#000"/><path d="M431.57 49.26h1.5v1.5h-1.5zM431.79 38.1h1.0v1.0h-1.0zM432.77 36.85h1.0v1.0h-1.0zM444.44 34.01h1.0v1.0h-1.0zM455.47 38.15h1.0v1.0h-1.0zM446.06 34.03h1.0v1.0h-1.0zM432.25 53h1.0v1.0h-1.0zM456.01 40.73h1.5v1.5h-1.5zM431.81 45.66h1.5v1.5h-1.5zM456.39 44.07h1.0v1.0h-1.0zM451.02 35.28h1.5v1.5h-1.5zM443.48 53h1.0v1.0h-1.0zM454.97 37.37h1.5v1.5h-1.5zM450.15 33.71h1.5v1.5h-1.5zM445.25 33.56h1.0v1.0h-1.0zM433.68 53.12h1.0v1.0h-1.0zM447.35 33.9h1.5v1.5h-1.5zM454.96 42.53h1.0v1.0h-1.0zM455.42 43.08h1.5v1.5h-1.5zM450.31 49.37h1.5v1.5h-1.5zM437.06 54.76h1.5v1.5h-1.5zM437.84 33.69h1.0v1.0h-1.0zM432.45 39.61h1.0v1.0h-1.0zM456.6 41.18h1.0v1.0h-1.0zM456.06 40.57h1.0v1.0h-1.0zM431.94 49.85h1.5v1.5h-1.5zM431.42 50.45h1.0v1.0h-1.0zM436.88 53.49h1.0v1.0h-1.0zM440.01 33.99h1.0v1.0h-1.0zM455.58 37.64h1.5v1.5h-1.5zM446.87 33.73h1.5v1.5h-1.5zM432.13 46.44h1.0v1.0h-1.0zM440.49 54.44h1.5v1.5h-1.5zM432.85 34.74h1.5v1.5h-1.5zM448.05 33.84h1.0v1.0h-1.0zM434.2 54.14h1.0v1.0h-1.0zM432.4 40.53h1.0v1.0h-1.0zM441.94 53.76h1.0v1.0h-1.0zM443.31 33.38h1.0v1.0h-1.0zM454.69 37h1.0v1.0h-1.0zM454.18 44.59h1.5v1.5h-1.5zM450.6 35.12h1.0v1.0h-1.0zM432.54 37.91h1.0v1.0h-1.0zM437.17 53.65h1.0v1.0h-1.0zM431.57 40.1h1.5v1.5h-1.5zM441.43 32.83h1.5v1.5h-1.5zM432.6 38.2h1.0v1.0h-1.0zM442.9 32.96h1.0v1.0h-1.0zM439.41 53.85h1.0v1.0h-1.0zM435.54 53.83h1.0v1.0h-1.0zM450.5 50.01h1.0v1.0h-1.0zM456.24 42.41h1.5v1.5h-1.5zM431.66 46h1.5v1.5h-1.5zM449.73 34.47h1.0v1.0h-1.0zM446.51 52.82h1.0v1.0h-1.0zM456.28 41.88h1.5v1.5h-1.5zM445.8 34.17h1.0v1.0h-1.0zM432.65 41.94h1.5v1.5h-1.5zM449.91 35.61h1.0v1.0h-1.0zM453.92 45.57h1.5v1.5h-1.5zM441.45 33.49h1.0v1.0h-1.0zM446.97 52.41h1.0v1.0h-1.0zM442.41 33.29h1.0v1.0h-1.0zM448.05 34.03h1.0v1.0h-1.0zM432.06 48.57h1.0v1.0h-1.0zM454.83 39.59h1.0v1.0h-1.0zM432.12 37.68h1.0v1.0h-1.0zM446.04 51.86h1.0v1.0h-1.0zM453.86 36.6h1.0v1.0h-1.0zM432.09 50.51h1.0v1.0h-1.0zM431.85 40.23h1.5v1.5h-1.5zM451.25 35.46h1.0v1.0h-1.0zM448.21 34h1.0v1.0h-1.0zM454.09 38.89h1.0v1.0h-1.0zM451.19 35.54h1.0v1.0h-1.0zM431.68 46.24h1.0v1.0h-1.0zM451.32 34.91h1.5v1.5h-1.5zM435.24 53.06h1.0v1.0h-1.0zM446.37 33.32h1.0v1.0h-1.0zM434.86 54.02h1.0v1.0h-1.0zM455.24 43.08h1.5v1.5h-1.5zM455.53 39.65h1.0v1.0h-1.0zM446.13 52.24h1.5v1.5h-1.5zM431.89 50.71h1.5v1.5h-1.5zM451.6 35.82h1.5v1.5h-1.5zM431.76 52.13h1.0v1.0h-1.0zM431.88 39.04h1.5v1.5h-1.5zM452.43 35.9h1.5v1.5h-1.5zM449.92 50.19h1.5v1.5h-1.5zM432.79 48.94h1.0v1.0h-1.0zM433.06 54.36h1.5v1.5h-1.5zM447.43 52.39h1.5v1.5h-1.5zM432.18 52.08h1.5v1.5h-1.5zM456.18 42.93h1.0v1.0h-1.0zM431.66 38.25h1.0v1.0h-1.0zM456.46 43.93h1.0v1.0h-1.0zM448.73 34.55h1.0v1.0h-1.0zM449.41 51.71h1.0v1.0h-1.0zM434.31 52.66h1.5v1.5h-1.5zM432.55 35.11h1.0v1.0h-1.0zM436.66 54.61h1.5v1.5h-1.5zM446.33 51.63h1.0v1.0h-1.0zM449.71 35.2h1.0v1.0h-1.0zM452 47.92h1.0v1.0h-1.0zM455.31 43.65h1.0v1.0h-1.0zM432.1 42.42h1.5v1.5h-1.5zM432.12 72.95h1v1h-1zM439.26 68.05h1v1h-1zM439.32 51.76h1v1h-1zM438.89 59.45h1v1h-1zM449.15 57.34h1v1h-1zM436.94 57.06h1v1h-1zM431.97 52.72h1v1h-1zM433.67 60.19h1v1h-1zM437.43 62.91h1v1h-1zM440.29 54.4h1v1h-1zM441.35 54.98h1v1h-1zM435.59 69.53h1v1h-1zM444.56 55.74h1.0v1.0h-1.0zM433.92 69.21h1.0v1.0h-1.0zM443.03 74.66h1.0v1.0h-1.0zM456.45 70.22h1.4v1.4h-1.4zM449.15 57.61h1.4v1.4h-1.4zM452.68 57.35h1.0v1.0h-1.0zM443.08 65.96h1.4v1.4h-1.4zM439.8 64.33h1.0v1.0h-1.0zM468.52 42.58h1.0v1.0h-1.0zM462.24 44.32h1.0v1.0h-1.0z" fill="#222"/><path d="M432 35.97h1.0v1.0h-1.0zM449.1 33.83h1.5v1.5h-1.5zM436.89 54.97h1.0v1.0h-1.0zM431.92 46.21h1.0v1.0h-1.0zM433.39 54.61h1.0v1.0h-1.0zM452.75 35.72h1.0v1.0h-1.0zM445.98 32.98h1.5v1.5h-1.5zM457.64 41.76h1.0v1.0h-1.0zM432.77 38.37h1.0v1.0h-1.0zM448.33 52.32h1.0v1.0h-1.0zM437.38 32.89h1.5v1.5h-1.5zM432.48 46.15h1.0v1.0h-1.0zM449.18 50.86h1.0v1.0h-1.0zM442.07 32.95h1.5v1.5h-1.5zM441.03 32.75h1.0v1.0h-1.0zM432.31 36.88h1.0v1.0h-1.0zM456.15 39.68h1.0v1.0h-1.0zM432.39 36.97h1.5v1.5h-1.5zM432.55 53.82h1.0v1.0h-1.0zM431.73 35.24h1.5v1.5h-1.5zM435.15 55.37h1.0v1.0h-1.0zM431.7 38.96h1.0v1.0h-1.0zM439.3 32.47h1.5v1.5h-1.5zM456.93 42.28h1.5v1.5h-1.5zM432.47 45.48h1.5v1.5h-1.5zM452.58 47.87h1.0v1.0h-1.0zM452.93 49h1.0v1.0h-1.0zM446.91 33.47h1.0v1.0h-1.0zM431.62 50.38h1.5v1.5h-1.5zM438.47 55.23h1.0v1.0h-1.0zM431.89 34.69h1.0v1.0h-1.0zM434.35 33.91h1.0v1.0h-1.0zM431.78 40.25h1.0v1.0h-1.0zM444.81 32.55h1.0v1.0h-1.0zM433.8 33.17h1.0v1.0h-1.0zM431.59 36.55h1.5v1.5h-1.5zM435.64 54.67h1.5v1.5h-1.5zM431.88 42.25h1.0v1.0h-1.0zM454.94 37.88h1.0v1.0h-1.0zM454.22 46.75h1.0v1.0h-1.0zM452.49 35.49h1.0v1.0h-1.0zM455.94 40.75h1.5v1.5h-1.5zM447.12 57.78h1v1h-1zM439.14 72.48h1v1h-1zM436.03 66.3h1v1h-1zM432.98 56.87h1v1h-1zM445.06 64.87h1v1h-1zM441.15 54.47h1.0v1.0h-1.0zM437.9 70.94h1.0v1.0h-1.0zM457.33 69.7h1.0v1.0h-1.0zM449.73 60.02h1.0v1.0h-1.0zM452.52 60.7h1.4v1.4h-1.4zM448.91 68.24h1.0v1.0h-1.0zM441.51 57.58h1.4v1.4h-1.4zM450.18 62.75h1.4v1.4h-1.4zM458.34 59.23h1.4v1.4h-1.4zM457.86 60.56h1.0v1.0h-1.0zM468.18 41.15h1.0v1.0h-1.0zM462.08 38.57h1.0v1.0h-1.0zM469.32 48.46h1.0v1.0h-1.0z" fill="#444"/><path d="M432.39 50.63h1.5v1.5h-1.5zM438.66 31.67h1.0v1.0h-1.0zM436.47 32.95h1.5v1.5h-1.5zM432.26 40.79h1.5v1.5h-1.5zM432.61 42.08h1.5v1.5h-1.5zM457.29 36.67h1.0v1.0h-1.0zM457.2 34.99h1.5v1.5h-1.5zM431.88 35.11h1.5v1.5h-1.5zM454.68 48.98h1.0v1.0h-1.0zM432.62 37.17h1.0v1.0h-1.0zM444.53 56.03h1.0v1.0h-1.0zM431.5 34.48h1.0v1.0h-1.0zM450.1 51.72h1.0v1.0h-1.0zM446.49 32.47h1.0v1.0h-1.0zM449.27 51.88h1.0v1.0h-1.0zM456.45 47.07h1.0v1.0h-1.0zM457.81 40.3h1.0v1.0h-1.0zM432.6 36.6h1.5v1.5h-1.5zM432.02 45.22h1.5v1.5h-1.5zM432.71 53.38h1.5v1.5h-1.5zM437.28 55.77h1.5v1.5h-1.5z" fill="#777"/><path d="M458.4 20.8V98.4M430.6 76.4H513.8" stroke="#333" stroke-width="1.4" fill="none"/><path d="M430.6 20.8H513.8V98.4" stroke="#4a4a4a" stroke-width="1.5" fill="none"/><path d="M430.6 20.8V98.4H513.8" stroke="#000" stroke-width="1.4" fill="none" stroke-linecap="square"/><path d="M430.6 98.4v3.2M436.86 98.4v2M440.52 98.4v2M443.12 98.4v2M445.14 98.4v2M446.79 98.4v2M448.18 98.4v2M449.38 98.4v2M450.45 98.4v2M451.4 98.4v3.2M457.66 98.4v2M461.32 98.4v2M463.92 98.4v2M465.94 98.4v2M467.59 98.4v2M468.98 98.4v2M470.18 98.4v2M471.25 98.4v2M472.2 98.4v3.2M478.46 98.4v2M482.12 98.4v2M484.72 98.4v2M486.74 98.4v2M488.39 98.4v2M489.78 98.4v2M490.98 98.4v2M492.05 98.4v2M493 98.4v3.2M499.26 98.4v2M502.92 98.4v2M505.52 98.4v2M507.54 98.4v2M509.19 98.4v2M510.58 98.4v2M511.78 98.4v2M512.85 98.4v2M513.8 98.4v3.2M430.6 98.4h-3.2M430.6 92.56h-2M430.6 89.14h-2M430.6 86.72h-2M430.6 84.84h-2M430.6 83.3h-2M430.6 82.01h-2M430.6 80.88h-2M430.6 79.89h-2M430.6 79h-3.2M430.6 73.16h-2M430.6 69.74h-2M430.6 67.32h-2M430.6 65.44h-2M430.6 63.9h-2M430.6 62.61h-2M430.6 61.48h-2M430.6 60.49h-2M430.6 59.6h-3.2M430.6 53.76h-2M430.6 50.34h-2M430.6 47.92h-2M430.6 46.04h-2M430.6 44.5h-2M430.6 43.21h-2M430.6 42.08h-2M430.6 41.09h-2M430.6 40.2h-3.2M430.6 34.36h-2M430.6 30.94h-2M430.6 28.52h-2M430.6 26.64h-2M430.6 25.1h-2M430.6 23.81h-2M430.6 22.68h-2M430.6 21.69h-2M430.6 20.8h-3.2" stroke="#000" stroke-width="0.8" fill="none"/><g fill="#000" stroke="#000" stroke-width="0.32"><text x="431" y="108.6" font-size="6.6" text-anchor="middle">10<tspan dy="-3.0" font-size="5.4">0</tspan></text><text x="451.8" y="108.6" font-size="6.6" text-anchor="middle">10<tspan dy="-3.0" font-size="5.4">1</tspan></text><text x="472.6" y="108.6" font-size="6.6" text-anchor="middle">10<tspan dy="-3.0" font-size="5.4">2</tspan></text><text x="493.4" y="108.6" font-size="6.6" text-anchor="middle">10<tspan dy="-3.0" font-size="5.4">3</tspan></text><text x="514.2" y="108.6" font-size="6.6" text-anchor="middle">10<tspan dy="-3.0" font-size="5.4">4</tspan></text><text transform="translate(425.6 99) rotate(-90)" font-size="6.6" text-anchor="middle">10<tspan dy="-3.0" font-size="5.4">0</tspan></text><text transform="translate(425.6 79.6) rotate(-90)" font-size="6.6" text-anchor="middle">10<tspan dy="-3.0" font-size="5.4">1</tspan></text><text transform="translate(425.6 60.2) rotate(-90)" font-size="6.6" text-anchor="middle">10<tspan dy="-3.0" font-size="5.4">2</tspan></text><text transform="translate(425.6 40.8) rotate(-90)" font-size="6.6" text-anchor="middle">10<tspan dy="-3.0" font-size="5.4">3</tspan></text><text transform="translate(425.6 21.4) rotate(-90)" font-size="6.6" text-anchor="middle">10<tspan dy="-3.0" font-size="5.4">4</tspan></text></g>
<polygon points="87.37,293.63 87.17,292.77 86.58,292.3 85.89,291.9 85.18,291.47 84.31,291.2 83.3,291.14 82.36,290.67 81.09,291.1 79.81,291.86 78.58,291.93 77.34,292.64 76.29,293.82 75.02,294.22 74.05,295.19 72.87,295.87 71.7,296.63 70.98,297.72 70.08,298.68 69.3,299.71 69.1,300.85 68.45,301.91 68.35,302.99 67.77,304.15 68.2,305.11 67.72,306.36 68.14,307.31 68.03,308.56 68.35,309.63 68.75,310.69 69.2,311.8 70.28,312.27 71.04,313.11 72.52,312.85 73.51,313.24 74.63,313.31 75.94,312.62 76.99,312.51 78,312.71 79.08,312.29 80.2,312.29 81.24,311.48 82.32,310.93 83.52,310.46 84.32,309.23 85.44,308.44 86.24,307.27 86.66,305.91 87.51,304.82 88.38,303.66 88.5,302.4 89.47,301.16 89.84,299.92 90.08,298.72 90.05,297.63 89.57,296.8 89.82,295.65 88.81,295.31 88.72,294.41 88.12,293.92" fill="#000"/><path d="M69.35 299.78h1.5v1.5h-1.5zM68.99 309.54h1.0v1.0h-1.0zM87.61 303.67h1.0v1.0h-1.0zM88.85 296.78h1.0v1.0h-1.0zM84.49 308.63h1.0v1.0h-1.0zM89.91 297.83h1.0v1.0h-1.0zM85.68 291.59h1.5v1.5h-1.5zM83.83 308.77h1.0v1.0h-1.0zM80.95 292.44h1.5v1.5h-1.5zM72.27 297h1.5v1.5h-1.5zM87.83 293.86h1.0v1.0h-1.0zM81.49 292.1h1.0v1.0h-1.0zM85.34 307.41h1.0v1.0h-1.0zM68.37 301.52h1.5v1.5h-1.5zM88.82 293.64h1.0v1.0h-1.0zM84.95 308.47h1.5v1.5h-1.5zM73.69 313.75h1.0v1.0h-1.0zM72.9 313.62h1.0v1.0h-1.0zM69 309.05h1.0v1.0h-1.0zM89.4 298.34h1.0v1.0h-1.0zM87.53 305.11h1.0v1.0h-1.0zM73.78 294.85h1.5v1.5h-1.5zM68.8 308.75h1.5v1.5h-1.5zM87.5 304.09h1.5v1.5h-1.5zM67.97 306.76h1.5v1.5h-1.5zM81.61 292.16h1.0v1.0h-1.0zM68.53 306.23h1.5v1.5h-1.5zM87.35 291.26h1.0v1.0h-1.0zM72.29 295.84h1.5v1.5h-1.5zM72.13 296.49h1.0v1.0h-1.0zM78.71 292.87h1.0v1.0h-1.0zM68.74 304.99h1.0v1.0h-1.0zM67.8 304.99h1.0v1.0h-1.0zM67.84 302.57h1.5v1.5h-1.5zM71.56 311.7h1.0v1.0h-1.0zM67.92 307.66h1.5v1.5h-1.5zM69.13 300.4h1.0v1.0h-1.0zM86.22 291.88h1.0v1.0h-1.0zM74.62 313.77h1.0v1.0h-1.0zM87.98 294.14h1.0v1.0h-1.0zM71.97 295.71h1.5v1.5h-1.5zM78.62 312.76h1.0v1.0h-1.0zM68.28 301.91h1.5v1.5h-1.5zM69.82 312.19h1.0v1.0h-1.0zM72.89 312.67h1.0v1.0h-1.0zM89.86 301.05h1.5v1.5h-1.5zM81.41 311.3h1.0v1.0h-1.0zM68.38 299.7h1.0v1.0h-1.0zM68.43 305.59h1.0v1.0h-1.0zM87.76 304.89h1.0v1.0h-1.0zM87.42 305.17h1.0v1.0h-1.0zM68.3 302.13h1.5v1.5h-1.5zM72.35 313.83h1.0v1.0h-1.0zM89.15 298.89h1.0v1.0h-1.0zM83.77 291.49h1.5v1.5h-1.5zM73.96 295.55h1.0v1.0h-1.0zM87 306.16h1.5v1.5h-1.5zM81.25 311.17h1.0v1.0h-1.0zM83.19 310.27h1.0v1.0h-1.0zM79.93 291.48h1.5v1.5h-1.5zM83.71 309.25h1.0v1.0h-1.0zM81.41 291.84h1.0v1.0h-1.0zM88.88 302.33h1.0v1.0h-1.0zM71.73 297.31h1.0v1.0h-1.0zM69.82 298.63h1.0v1.0h-1.0zM68.21 310.09h1.0v1.0h-1.0zM76.89 312.88h1.0v1.0h-1.0zM82.16 292.21h1.5v1.5h-1.5zM74.82 313.95h1.5v1.5h-1.5zM72.27 312.41h1.5v1.5h-1.5zM68.09 302.62h1.0v1.0h-1.0zM89.5 295.03h1.5v1.5h-1.5zM69.02 306.43h1.0v1.0h-1.0zM74.73 312.78h1.5v1.5h-1.5zM68.6 301.81h1.5v1.5h-1.5zM68.62 308.84h1.5v1.5h-1.5zM83.88 309.03h1.5v1.5h-1.5zM71.49 312.91h1.0v1.0h-1.0zM89.79 296.37h1.0v1.0h-1.0zM68.15 307.01h1.0v1.0h-1.0zM89.61 298.97h1.0v1.0h-1.0zM85.72 308.21h1.0v1.0h-1.0zM69.08 308.05h1.0v1.0h-1.0zM68.78 309.99h1.5v1.5h-1.5zM87.82 305.25h1.0v1.0h-1.0zM80.45 312.52h1.0v1.0h-1.0zM76.66 312.68h1.0v1.0h-1.0zM68.48 301.62h1.0v1.0h-1.0zM84.52 308.07h1.5v1.5h-1.5zM80.38 312.09h1.0v1.0h-1.0zM86.51 292.84h1.0v1.0h-1.0zM75.96 293.43h1.5v1.5h-1.5zM76.94 313.97h1.0v1.0h-1.0zM70.55 310.5h1.0v1.0h-1.0zM76.47 312.9h1.5v1.5h-1.5zM71.08 312.06h1.0v1.0h-1.0zM71.28 312.63h1.0v1.0h-1.0zM86.59 305.36h1.0v1.0h-1.0zM88.79 301.75h1.5v1.5h-1.5zM73.93 295.21h1.0v1.0h-1.0zM88.53 293.59h1.0v1.0h-1.0zM74.41 294.72h1.5v1.5h-1.5zM84.66 308.28h1.5v1.5h-1.5zM69.87 299.47h1.5v1.5h-1.5zM76.85 312.95h1.0v1.0h-1.0zM88.39 302.95h1.0v1.0h-1.0zM77.87 313.35h1.0v1.0h-1.0zM85.35 291.92h1.0v1.0h-1.0zM87.14 305.97h1.0v1.0h-1.0zM88.19 294.03h1.0v1.0h-1.0zM79.63 312.65h1.0v1.0h-1.0zM69.17 311.28h1.0v1.0h-1.0zM87.42 293.43h1.0v1.0h-1.0zM68.45 300.1h1.0v1.0h-1.0zM88.65 302.11h1.5v1.5h-1.5zM87.68 293.14h1.0v1.0h-1.0zM69.93 311.16h1.0v1.0h-1.0zM80.58 311.64h1.5v1.5h-1.5zM68.21 303.72h1.5v1.5h-1.5zM88.94 297.78h1.0v1.0h-1.0zM78.24 292.75h1.5v1.5h-1.5zM83.3 291.08h1.5v1.5h-1.5zM80.72 292.15h1.5v1.5h-1.5zM71.75 312.27h1.0v1.0h-1.0zM83.78 291.75h1.0v1.0h-1.0zM84.08 292.02h1.0v1.0h-1.0zM68.02 301.21h1.5v1.5h-1.5zM88.27 294.54h1.0v1.0h-1.0zM73.85 294.63h1.5v1.5h-1.5zM87.85 293.79h1.5v1.5h-1.5zM71.84 296.46h1.5v1.5h-1.5zM68.99 298.98h1.0v1.0h-1.0zM68.12 308.36h1.0v1.0h-1.0zM68.19 304.39h1.0v1.0h-1.0zM71.38 297.76h1.0v1.0h-1.0zM75.97 294.31h1.0v1.0h-1.0zM75.48 313.03h1.5v1.5h-1.5zM84.8 308.36h1.0v1.0h-1.0zM74.61 294.49h1.0v1.0h-1.0zM88.76 293.51h1.5v1.5h-1.5zM67.6 306.24h1.5v1.5h-1.5zM79.73 292.32h1.0v1.0h-1.0zM74.35 312.48h1.5v1.5h-1.5zM83.47 309.31h1.0v1.0h-1.0zM78.75 292.55h1.0v1.0h-1.0zM69.78 312.4h1.0v1.0h-1.0zM83.49 310.17h1.0v1.0h-1.0zM86.68 305.71h1.5v1.5h-1.5zM68.92 306.98h1.0v1.0h-1.0zM83.92 291.65h1.0v1.0h-1.0zM68.64 308.66h1.0v1.0h-1.0zM75.61 313.54h1.0v1.0h-1.0zM77.33 313.31h1.5v1.5h-1.5zM82.27 292.05h1.5v1.5h-1.5zM73.6 312.45h1.5v1.5h-1.5zM85.76 306.51h1.0v1.0h-1.0zM74.78 294.77h1.0v1.0h-1.0zM87.12 304.99h1.0v1.0h-1.0zM67.99 303.15h1.0v1.0h-1.0zM88.43 293.41h1.0v1.0h-1.0zM68.79 309.83h1.5v1.5h-1.5zM70.14 311.55h1.5v1.5h-1.5zM70.03 311.9h1.5v1.5h-1.5zM68.61 302.27h1.0v1.0h-1.0zM86.96 292.45h1.5v1.5h-1.5zM81.15 311.94h1.0v1.0h-1.0zM75.29 294.81h1.5v1.5h-1.5zM89.21 296.54h1.0v1.0h-1.0zM69.93 310.04h1.0v1.0h-1.0zM86.21 307.7h1.0v1.0h-1.0zM68.85 308.97h1.5v1.5h-1.5zM80.25 291.76h1.5v1.5h-1.5zM89.43 299.37h1.0v1.0h-1.0zM77.56 293.19h1.0v1.0h-1.0zM69.46 300.44h1.5v1.5h-1.5zM68.91 308.74h1.5v1.5h-1.5zM85.06 291.67h1.0v1.0h-1.0zM80.07 312.38h1.0v1.0h-1.0zM82.12 311.37h1.5v1.5h-1.5zM70.18 311.84h1.5v1.5h-1.5zM68.09 304.13h1.0v1.0h-1.0zM87.68 293.59h1.5v1.5h-1.5zM79.21 292.21h1.5v1.5h-1.5zM75.95 313.77h1.5v1.5h-1.5zM67.6 306h1.0v1.0h-1.0zM69.19 301.36h1.5v1.5h-1.5zM88.53 294.35h1.0v1.0h-1.0zM85.88 307.44h1.5v1.5h-1.5zM89.03 301.55h1.5v1.5h-1.5zM89.52 294.76h1.0v1.0h-1.0zM84.31 292.05h1.5v1.5h-1.5zM68.51 310h1.5v1.5h-1.5zM73.51 312.48h1.5v1.5h-1.5zM83.28 310.01h1.0v1.0h-1.0zM70.64 298.16h1.0v1.0h-1.0zM84.17 292.18h1.5v1.5h-1.5zM68.55 304.62h1.0v1.0h-1.0zM74.63 309.64h1v1h-1zM76.04 310.57h1v1h-1zM80.37 315.4h1v1h-1zM85.79 323.24h1v1h-1zM81.77 313.95h1v1h-1zM85.89 326.86h1.0v1.0h-1.0zM79.3 322.01h1.0v1.0h-1.0zM83.24 321.78h1.0v1.0h-1.0zM73.25 314.78h1.0v1.0h-1.0zM73.71 321.51h1.0v1.0h-1.0z" fill="#000"/><path d="M90.3 295.37h1.0v1.0h-1.0zM68.94 311.05h1.0v1.0h-1.0zM90.46 294.41h1.0v1.0h-1.0zM69.43 310.93h1.0v1.0h-1.0zM90.58 298.1h1.0v1.0h-1.0zM75.37 292.77h1.5v1.5h-1.5zM74.7 314.14h1.0v1.0h-1.0zM68.82 308.27h1.0v1.0h-1.0zM76.8 314.15h1.5v1.5h-1.5zM81.24 311.95h1.0v1.0h-1.0zM71.97 312.92h1.0v1.0h-1.0zM70.35 297.08h1.5v1.5h-1.5zM91.11 298.3h1.5v1.5h-1.5zM79.33 314.14h1.0v1.0h-1.0zM89 293.05h1.0v1.0h-1.0zM78.73 291.64h1.5v1.5h-1.5zM80.47 290.45h1.0v1.0h-1.0zM68.29 301.41h1.5v1.5h-1.5zM89.62 293.87h1.0v1.0h-1.0zM70.45 313.4h1.0v1.0h-1.0zM80.64 291.52h1.5v1.5h-1.5zM90.85 295.23h1.0v1.0h-1.0zM79.36 292.06h1.0v1.0h-1.0zM89.61 291.84h1.5v1.5h-1.5zM81.95 290.49h1.0v1.0h-1.0zM67.85 308.48h1.0v1.0h-1.0zM89.48 302.05h1.0v1.0h-1.0zM68.4 301.7h1.5v1.5h-1.5zM90.48 298.9h1.0v1.0h-1.0zM82.71 290.72h1.0v1.0h-1.0zM89.5 297.33h1.0v1.0h-1.0zM90.09 295.94h1.0v1.0h-1.0zM83.18 310.39h1.5v1.5h-1.5zM73.57 295.07h1.0v1.0h-1.0zM75.05 292.78h1.0v1.0h-1.0zM76.05 314.63h1.0v1.0h-1.0zM74.48 294.28h1.5v1.5h-1.5zM86.96 306.41h1.0v1.0h-1.0zM80.65 312.3h1.0v1.0h-1.0zM67.79 307.88h1.5v1.5h-1.5zM68.89 299.03h1.0v1.0h-1.0zM72.8 314.73h1.0v1.0h-1.0zM71.63 296.81h1.0v1.0h-1.0zM68.13 311.08h1.5v1.5h-1.5zM88.63 302.45h1.0v1.0h-1.0zM71.25 295.56h1.0v1.0h-1.0zM90.49 300.8h1.5v1.5h-1.5zM67.87 301.93h1.5v1.5h-1.5zM83.37 310.15h1.5v1.5h-1.5zM83.3 311.29h1.5v1.5h-1.5zM67.64 302.45h1.0v1.0h-1.0zM68.46 304.53h1.5v1.5h-1.5zM87.59 290.77h1.0v1.0h-1.0zM70.37 297.42h1.0v1.0h-1.0zM68.94 310.87h1.0v1.0h-1.0zM69.07 310.18h1.0v1.0h-1.0zM68.27 304.68h1.0v1.0h-1.0zM90.09 297.29h1.5v1.5h-1.5zM67.76 308.99h1.0v1.0h-1.0zM76.33 313.93h1.0v1.0h-1.0zM89.7 293.3h1.0v1.0h-1.0zM85.72 307.34h1.0v1.0h-1.0zM88.2 292.12h1.0v1.0h-1.0zM89.36 294.09h1.0v1.0h-1.0zM77.56 314.6h1.0v1.0h-1.0zM89.97 297.53h1.0v1.0h-1.0zM68.12 309.98h1.0v1.0h-1.0zM76.2 292.97h1.0v1.0h-1.0zM82.77 311.97h1.0v1.0h-1.0zM81.81 290.7h1.0v1.0h-1.0zM89.97 296.11h1.5v1.5h-1.5zM88.36 304.45h1.5v1.5h-1.5zM88.86 291.59h1.5v1.5h-1.5zM79.53 312.68h1.5v1.5h-1.5zM68.85 311.38h1.0v1.0h-1.0zM78.02 291.53h1.5v1.5h-1.5zM79.26 291.38h1.0v1.0h-1.0zM89.35 299.43h1.0v1.0h-1.0zM85.55 290.47h1.0v1.0h-1.0zM71.27 312.95h1.0v1.0h-1.0zM70.81 312.71h1.5v1.5h-1.5zM88.43 304.55h1.0v1.0h-1.0zM90.02 294.02h1.0v1.0h-1.0zM75.44 309.69h1v1h-1zM75.05 308.75h1v1h-1zM72.11 314.13h1v1h-1zM83.23 321.06h1v1h-1zM79.98 320.17h1v1h-1zM75.39 319.99h1v1h-1zM69.26 309.62h1v1h-1zM72.82 323.26h1v1h-1zM73.45 313.9h1v1h-1zM74.65 324.57h1v1h-1zM80.08 311.26h1v1h-1zM68.27 314.6h1v1h-1zM79.79 312.15h1v1h-1zM82.38 324.96h1.0v1.0h-1.0zM71.03 325.26h1.0v1.0h-1.0zM85.4 325.11h1.4v1.4h-1.4zM70.39 313.94h1.4v1.4h-1.4zM79.85 321.29h1.0v1.0h-1.0zM71.95 325.06h1.0v1.0h-1.0zM73.34 321.72h1.0v1.0h-1.0z" fill="#222"/><path d="M84.89 290.14h1.5v1.5h-1.5zM68.27 305.67h1.0v1.0h-1.0zM90.85 297.9h1.0v1.0h-1.0zM72.11 293.96h1.0v1.0h-1.0zM91.19 294.85h1.5v1.5h-1.5zM88.48 306.39h1.0v1.0h-1.0zM71.23 294.97h1.0v1.0h-1.0zM71.03 313.72h1.0v1.0h-1.0zM85.49 308.8h1.0v1.0h-1.0zM84.95 309.87h1.5v1.5h-1.5zM91.42 295.65h1.0v1.0h-1.0zM67.9 306.72h1.5v1.5h-1.5zM72.07 294.78h1.0v1.0h-1.0zM80.53 290.91h1.0v1.0h-1.0zM67.77 306.93h1.5v1.5h-1.5zM90.63 293.15h1.0v1.0h-1.0zM83.13 312.61h1.0v1.0h-1.0zM90.53 303.72h1.5v1.5h-1.5zM84.17 289.99h1.0v1.0h-1.0zM86 310.04h1.0v1.0h-1.0zM88.57 305.85h1.0v1.0h-1.0zM90.46 300.24h1.0v1.0h-1.0zM90.98 302.48h1.5v1.5h-1.5zM71.01 313.9h1.0v1.0h-1.0zM87.22 289.69h1.0v1.0h-1.0zM67.84 300.89h1.0v1.0h-1.0zM87.7 307.1h1.5v1.5h-1.5zM90.29 302.39h1.5v1.5h-1.5zM85.37 290.24h1.0v1.0h-1.0zM68.57 300.02h1.5v1.5h-1.5zM67.98 300.11h1.5v1.5h-1.5zM84 324.89h1v1h-1zM84.85 314.64h1v1h-1zM81.74 313.18h1v1h-1zM73.11 310.9h1v1h-1zM76.25 322.84h1v1h-1zM81.48 321.45h1v1h-1zM70.4 316.54h1v1h-1zM70.91 314.34h1.4v1.4h-1.4zM85.69 320.14h1.0v1.0h-1.0z" fill="#444"/><path d="M81.48 315h1.5v1.5h-1.5zM75.28 316.69h1.0v1.0h-1.0zM92.22 295.19h1.5v1.5h-1.5zM68.5 314.29h1.5v1.5h-1.5zM67.74 308.16h1.0v1.0h-1.0zM72.15 293.61h1.5v1.5h-1.5zM74.44 316.05h1.5v1.5h-1.5zM68.09 300.22h1.5v1.5h-1.5zM71.13 294.22h1.5v1.5h-1.5zM75.78 291.95h1.5v1.5h-1.5zM90.88 302.72h1.0v1.0h-1.0zM87.38 308.74h1.5v1.5h-1.5zM68.37 299.66h1.5v1.5h-1.5zM85.3 310.81h1.0v1.0h-1.0zM90.38 305.23h1.0v1.0h-1.0zM70.36 296.15h1.5v1.5h-1.5zM69.1 304.05h1.0v1.0h-1.0zM70.65 294.17h1.0v1.0h-1.0zM77.15 316.24h1.0v1.0h-1.0zM69.09 311.07h1.0v1.0h-1.0zM68.58 310.41h1.5v1.5h-1.5zM90.63 291.14h1.5v1.5h-1.5zM68.95 301.79h1.5v1.5h-1.5zM90.31 305.58h1.5v1.5h-1.5zM69.08 307.88h1.5v1.5h-1.5zM91.34 292.23h1.0v1.0h-1.0zM87.56 308.06h1.0v1.0h-1.0zM67.73 297.98h1.0v1.0h-1.0zM87.12 308.76h1.5v1.5h-1.5z" fill="#777"/><path d="M95.4 274.6V360.3M66.8 333.2H149.6" stroke="#333" stroke-width="1.4" fill="none"/><path d="M66.8 274.6H149.6V360.3" stroke="#4a4a4a" stroke-width="1.5" fill="none"/><path d="M66.8 274.6V360.3H149.6" stroke="#000" stroke-width="1.4" fill="none" stroke-linecap="square"/><path d="M66.8 360.3v3.2M73.03 360.3v2M76.68 360.3v2M79.26 360.3v2M81.27 360.3v2M82.91 360.3v2M84.29 360.3v2M85.49 360.3v2M86.55 360.3v2M87.5 360.3v3.2M93.73 360.3v2M97.38 360.3v2M99.96 360.3v2M101.97 360.3v2M103.61 360.3v2M104.99 360.3v2M106.19 360.3v2M107.25 360.3v2M108.2 360.3v3.2M114.43 360.3v2M118.08 360.3v2M120.66 360.3v2M122.67 360.3v2M124.31 360.3v2M125.69 360.3v2M126.89 360.3v2M127.95 360.3v2M128.9 360.3v3.2M135.13 360.3v2M138.78 360.3v2M141.36 360.3v2M143.37 360.3v2M145.01 360.3v2M146.39 360.3v2M147.59 360.3v2M148.65 360.3v2M149.6 360.3v3.2M66.8 360.3h-3.2M66.8 353.85h-2M66.8 350.08h-2M66.8 347.4h-2M66.8 345.32h-2M66.8 343.63h-2M66.8 342.19h-2M66.8 340.95h-2M66.8 339.86h-2M66.8 338.88h-3.2M66.8 332.43h-2M66.8 328.65h-2M66.8 325.98h-2M66.8 323.9h-2M66.8 322.2h-2M66.8 320.77h-2M66.8 319.53h-2M66.8 318.43h-2M66.8 317.45h-3.2M66.8 311h-2M66.8 307.23h-2M66.8 304.55h-2M66.8 302.47h-2M66.8 300.78h-2M66.8 299.34h-2M66.8 298.1h-2M66.8 297.01h-2M66.8 296.03h-3.2M66.8 289.58h-2M66.8 285.8h-2M66.8 283.13h-2M66.8 281.05h-2M66.8 279.35h-2M66.8 277.92h-2M66.8 276.68h-2M66.8 275.58h-2M66.8 274.6h-3.2" stroke="#000" stroke-width="0.8" fill="none"/><g fill="#000" stroke="#000" stroke-width="0.32"><text x="67.2" y="370.5" font-size="6.6" text-anchor="middle">10<tspan dy="-3.0" font-size="5.4">0</tspan></text><text x="87.9" y="370.5" font-size="6.6" text-anchor="middle">10<tspan dy="-3.0" font-size="5.4">1</tspan></text><text x="108.6" y="370.5" font-size="6.6" text-anchor="middle">10<tspan dy="-3.0" font-size="5.4">2</tspan></text><text x="129.3" y="370.5" font-size="6.6" text-anchor="middle">10<tspan dy="-3.0" font-size="5.4">3</tspan></text><text x="150" y="370.5" font-size="6.6" text-anchor="middle">10<tspan dy="-3.0" font-size="5.4">4</tspan></text><text transform="translate(61.8 360.9) rotate(-90)" font-size="6.6" text-anchor="middle">10<tspan dy="-3.0" font-size="5.4">0</tspan></text><text transform="translate(61.8 339.48) rotate(-90)" font-size="6.6" text-anchor="middle">10<tspan dy="-3.0" font-size="5.4">1</tspan></text><text transform="translate(61.8 318.05) rotate(-90)" font-size="6.6" text-anchor="middle">10<tspan dy="-3.0" font-size="5.4">2</tspan></text><text transform="translate(61.8 296.63) rotate(-90)" font-size="6.6" text-anchor="middle">10<tspan dy="-3.0" font-size="5.4">3</tspan></text><text transform="translate(61.8 275.2) rotate(-90)" font-size="6.6" text-anchor="middle">10<tspan dy="-3.0" font-size="5.4">4</tspan></text></g>
<polygon points="208.87,297.3 208.5,296.87 207.92,296.72 207.32,296.58 206.44,296.91 205.9,296.6 204.96,297.09 204.03,297.61 203.15,298.06 202.26,298.53 201.36,298.58 200.38,299.09 199.41,299.8 198.34,300.31 197.29,301.05 196.39,301.99 195.55,302.97 194.53,303.87 194.18,304.98 193.56,305.98 193.54,306.94 193.33,307.85 193.09,308.76 192.65,309.75 192.54,310.65 192.22,311.7 192.41,312.5 192.6,313.3 193.13,313.82 193.04,314.96 193.82,315.23 194.3,315.86 195.34,315.66 195.78,316.38 196.68,316.32 197.56,316.24 198.36,316.36 199.3,316.01 200.18,316 201.15,315.29 202.09,314.84 202.94,313.72 203.82,312.99 204.55,311.95 205.25,310.96 205.96,310.03 206.39,308.92 207.18,308.02 207.73,307 208.63,305.97 209.24,304.86 209.77,303.74 210.1,302.66 210.17,301.72 210.61,300.59 210.59,299.74 210.4,299.04 209.83,298.71 209.79,297.95 209.38,297.55" fill="#000"/><path d="M209 304.53h1.0v1.0h-1.0zM205.39 297.27h1.5v1.5h-1.5zM203.11 298.11h1.0v1.0h-1.0zM194.92 316.88h1.5v1.5h-1.5zM203.34 313.08h1.5v1.5h-1.5zM195.75 315.79h1.0v1.0h-1.0zM209.67 302.14h1.5v1.5h-1.5zM206.08 310.21h1.5v1.5h-1.5zM192.26 313.5h1.0v1.0h-1.0zM194.7 315.34h1.0v1.0h-1.0zM194.33 315.39h1.5v1.5h-1.5zM197.35 301.11h1.0v1.0h-1.0zM194.82 315.39h1.0v1.0h-1.0zM205.85 310.43h1.5v1.5h-1.5zM198.9 315.7h1.5v1.5h-1.5zM206.91 296.39h1.0v1.0h-1.0zM201.68 298.54h1.0v1.0h-1.0zM201.65 298.9h1.0v1.0h-1.0zM205.57 297.2h1.0v1.0h-1.0zM209.54 300.45h1.5v1.5h-1.5zM194.92 315.78h1.0v1.0h-1.0zM197.22 315.85h1.5v1.5h-1.5zM200.19 315.39h1.0v1.0h-1.0zM192.48 310.99h1.0v1.0h-1.0zM195.93 315.7h1.0v1.0h-1.0zM195.99 302.61h1.0v1.0h-1.0zM209.87 301.3h1.0v1.0h-1.0zM205.31 310.82h1.0v1.0h-1.0zM193.77 314.95h1.5v1.5h-1.5zM194.14 305.26h1.5v1.5h-1.5zM209.74 298.38h1.0v1.0h-1.0zM202.33 314.89h1.0v1.0h-1.0zM203.67 313.07h1.0v1.0h-1.0zM199.11 300.11h1.0v1.0h-1.0zM207.56 297.27h1.5v1.5h-1.5zM209.19 302.96h1.0v1.0h-1.0zM196.98 302.47h1.5v1.5h-1.5zM199.95 299.72h1.0v1.0h-1.0zM203.27 313.19h1.0v1.0h-1.0zM196.55 316.22h1.0v1.0h-1.0zM193.3 314.16h1.0v1.0h-1.0zM209.31 301.9h1.0v1.0h-1.0zM207.91 307.4h1.5v1.5h-1.5zM209.68 298.6h1.0v1.0h-1.0zM210.51 301.6h1.5v1.5h-1.5zM208.86 297.79h1.5v1.5h-1.5zM192.2 310.66h1.0v1.0h-1.0zM197.72 316.48h1.0v1.0h-1.0zM196.87 302.37h1.0v1.0h-1.0zM202.75 313.25h1.0v1.0h-1.0zM193.32 306.79h1.0v1.0h-1.0zM209.55 302.25h1.0v1.0h-1.0zM209.25 304.25h1.5v1.5h-1.5zM207.66 296.26h1.5v1.5h-1.5zM209.39 300.65h1.0v1.0h-1.0zM202.52 298.05h1.5v1.5h-1.5zM203.24 312.97h1.5v1.5h-1.5zM209.54 301.91h1.0v1.0h-1.0zM194.93 314.96h1.0v1.0h-1.0zM204.57 311.62h1.0v1.0h-1.0zM202.79 314h1.0v1.0h-1.0zM209.55 302.33h1.0v1.0h-1.0zM192.95 307.4h1.0v1.0h-1.0zM194.77 304.69h1.0v1.0h-1.0zM195.19 304.09h1.0v1.0h-1.0zM202.59 297.98h1.5v1.5h-1.5zM208.16 306.24h1.5v1.5h-1.5zM200.94 298.95h1.5v1.5h-1.5zM194.8 304.14h1.0v1.0h-1.0zM207.84 306.66h1.0v1.0h-1.0zM195.8 315.8h1.0v1.0h-1.0zM199.58 300.09h1.5v1.5h-1.5zM202.07 297.84h1.5v1.5h-1.5zM193.4 313.56h1.5v1.5h-1.5zM194.94 315.15h1.5v1.5h-1.5zM196.04 315.68h1.0v1.0h-1.0zM192.62 310.31h1.5v1.5h-1.5zM192.12 314.08h1.5v1.5h-1.5zM194.87 315.01h1.0v1.0h-1.0zM205.05 311.51h1.0v1.0h-1.0zM200.62 315.58h1.5v1.5h-1.5zM192.69 311.54h1.5v1.5h-1.5zM209.46 299.55h1.0v1.0h-1.0zM202.54 298.18h1.5v1.5h-1.5zM201.58 315.53h1.0v1.0h-1.0zM207.82 306.46h1.0v1.0h-1.0zM195.07 315.49h1.0v1.0h-1.0zM192.77 310.78h1.0v1.0h-1.0zM192.58 309.21h1.0v1.0h-1.0zM196.36 315.45h1.5v1.5h-1.5zM198.75 315.7h1.0v1.0h-1.0zM199.86 299.53h1.5v1.5h-1.5zM201.08 314.55h1.0v1.0h-1.0zM198.74 316.18h1.5v1.5h-1.5zM202.34 313.78h1.0v1.0h-1.0zM193.15 313.85h1.0v1.0h-1.0zM209.71 301.16h1.0v1.0h-1.0zM199.5 299.49h1.5v1.5h-1.5zM203.46 297.18h1.0v1.0h-1.0zM206.61 297.09h1.5v1.5h-1.5zM198.22 301.26h1.0v1.0h-1.0zM204.88 296.68h1.5v1.5h-1.5zM201.3 298.85h1.0v1.0h-1.0zM208.71 297.63h1.0v1.0h-1.0zM197.24 302.08h1.0v1.0h-1.0zM199.87 299.22h1.5v1.5h-1.5zM194.83 315.25h1.0v1.0h-1.0zM202.81 298.27h1.5v1.5h-1.5zM209.29 298.08h1.0v1.0h-1.0zM198.15 300.84h1.0v1.0h-1.0zM191.95 313.91h1.0v1.0h-1.0zM207.27 308.41h1.5v1.5h-1.5zM204.17 311.96h1.5v1.5h-1.5zM193.73 306.74h1.5v1.5h-1.5zM193.99 306.24h1.0v1.0h-1.0zM204.51 311.75h1.5v1.5h-1.5zM209.57 303.36h1.0v1.0h-1.0zM195.15 315.15h1.0v1.0h-1.0zM201.47 314.97h1.0v1.0h-1.0zM210.29 299.75h1.5v1.5h-1.5zM201.13 315.11h1.0v1.0h-1.0zM197.95 301.5h1.5v1.5h-1.5zM193.15 313.11h1.0v1.0h-1.0zM197.69 301.15h1.0v1.0h-1.0zM194.51 303.91h1.0v1.0h-1.0zM206.35 297.04h1.5v1.5h-1.5zM193.93 306.3h1.0v1.0h-1.0zM209.85 297.8h1.0v1.0h-1.0zM193.03 308.19h1.0v1.0h-1.0zM194.39 305.48h1.0v1.0h-1.0zM202.34 313.67h1.5v1.5h-1.5zM193.76 314.28h1.0v1.0h-1.0zM192.05 312.75h1.5v1.5h-1.5zM195.81 315.91h1.5v1.5h-1.5zM208.64 297.69h1.5v1.5h-1.5zM206.27 310h1.5v1.5h-1.5zM204.73 311.65h1.0v1.0h-1.0zM200.77 299.27h1.0v1.0h-1.0zM192.73 309.02h1.5v1.5h-1.5zM209.21 304.96h1.0v1.0h-1.0zM191.68 311.76h1.5v1.5h-1.5zM209.03 297.65h1.5v1.5h-1.5zM194.2 314.73h1.5v1.5h-1.5zM192.09 313.53h1.5v1.5h-1.5zM193.09 308.46h1.0v1.0h-1.0zM209.47 301.5h1.5v1.5h-1.5zM197.33 315.66h1.5v1.5h-1.5zM209.01 304.26h1.0v1.0h-1.0zM201.06 298.96h1.5v1.5h-1.5zM202.29 314.9h1.0v1.0h-1.0zM197.61 315.67h1.0v1.0h-1.0zM206.73 296.48h1.5v1.5h-1.5zM201.71 298.51h1.0v1.0h-1.0zM209.41 302.39h1.5v1.5h-1.5zM191.96 310.82h1.5v1.5h-1.5zM207.67 307.71h1.0v1.0h-1.0zM200.05 298.79h1.0v1.0h-1.0zM209.46 302.55h1.0v1.0h-1.0zM192.05 314.39h1.5v1.5h-1.5zM191.9 310.66h1.0v1.0h-1.0zM207.9 306.97h1.0v1.0h-1.0zM206.72 308.6h1.0v1.0h-1.0zM209.55 302.58h1.0v1.0h-1.0zM196.41 302.29h1.0v1.0h-1.0zM209.09 303.67h1.0v1.0h-1.0zM208.05 296.83h1.0v1.0h-1.0zM192.83 313.97h1.0v1.0h-1.0zM196.59 302.5h1.0v1.0h-1.0zM201.36 298.84h1.0v1.0h-1.0zM209.81 301.23h1.5v1.5h-1.5zM194.16 315.66h1.0v1.0h-1.0zM192.15 309.57h1.5v1.5h-1.5zM192.09 311.71h1.5v1.5h-1.5zM192.29 312.29h1.5v1.5h-1.5zM210.59 301.04h1.0v1.0h-1.0zM192.54 329.49h1v1h-1zM193.06 323.37h1v1h-1zM191.81 313.55h1v1h-1zM195.99 328.22h1v1h-1zM208.64 327.16h1v1h-1zM203.64 311.96h1v1h-1zM206.29 316.16h1v1h-1zM205.87 318.9h1v1h-1zM197.92 313.61h1v1h-1zM203.5 319.96h1v1h-1zM201.52 329.58h1.0v1.0h-1.0zM200.25 324.45h1.4v1.4h-1.4zM196.08 323.13h1.0v1.0h-1.0zM193.82 331.19h1.0v1.0h-1.0zM197.85 321.09h1.0v1.0h-1.0zM202.9 337.31h1.4v1.4h-1.4z" fill="#000"/><path d="M192.34 307.2h1.0v1.0h-1.0zM192.33 308.72h1.0v1.0h-1.0zM198.97 299.93h1.0v1.0h-1.0zM192.32 314.61h1.5v1.5h-1.5zM194.84 303.54h1.5v1.5h-1.5zM199.09 316.38h1.0v1.0h-1.0zM206.43 310.51h1.0v1.0h-1.0zM199.95 316.73h1.0v1.0h-1.0zM206.56 296.2h1.5v1.5h-1.5zM195.88 302.68h1.5v1.5h-1.5zM204.67 296.56h1.0v1.0h-1.0zM209.44 304.86h1.5v1.5h-1.5zM191.23 310.55h1.5v1.5h-1.5zM202.49 314.91h1.0v1.0h-1.0zM204.42 296.98h1.5v1.5h-1.5zM210.6 295.7h1.0v1.0h-1.0zM197.5 301.08h1.5v1.5h-1.5zM206.96 310.28h1.0v1.0h-1.0zM197.25 317.06h1.0v1.0h-1.0zM209.91 301.97h1.0v1.0h-1.0zM193.48 315.02h1.0v1.0h-1.0zM205.84 311.61h1.5v1.5h-1.5zM199.87 316.57h1.5v1.5h-1.5zM191.63 311.99h1.0v1.0h-1.0zM191.12 309.52h1.0v1.0h-1.0zM191.34 311.9h1.0v1.0h-1.0zM202.7 296.59h1.0v1.0h-1.0zM196.58 301.21h1.0v1.0h-1.0zM205.17 312.1h1.0v1.0h-1.0zM201.08 316.74h1.0v1.0h-1.0zM201.9 315.05h1.5v1.5h-1.5zM208.02 309.01h1.0v1.0h-1.0zM195.86 317.12h1.5v1.5h-1.5zM204.64 296.4h1.5v1.5h-1.5zM194.39 316.55h1.0v1.0h-1.0zM209.79 296.93h1.0v1.0h-1.0zM206.44 310.08h1.0v1.0h-1.0zM199.11 298.72h1.5v1.5h-1.5zM210.25 302.06h1.0v1.0h-1.0zM196.56 316.72h1.5v1.5h-1.5zM196.4 301.32h1.0v1.0h-1.0zM209.94 305.07h1.0v1.0h-1.0zM195.63 315.95h1.5v1.5h-1.5zM207.31 309.85h1.5v1.5h-1.5zM200.47 298.43h1.0v1.0h-1.0zM208.95 296.61h1.0v1.0h-1.0zM192.33 307.48h1.5v1.5h-1.5zM208.6 307.53h1.5v1.5h-1.5zM208.48 307.78h1.0v1.0h-1.0zM210.85 297.85h1.0v1.0h-1.0zM210.52 297.62h1.0v1.0h-1.0zM207.09 295.97h1.5v1.5h-1.5zM210.34 302.03h1.5v1.5h-1.5zM209.18 305.93h1.0v1.0h-1.0zM194.58 316.42h1.0v1.0h-1.0zM205.67 311.17h1.0v1.0h-1.0zM210.48 300.49h1.0v1.0h-1.0zM195.25 303.09h1.0v1.0h-1.0zM203.35 314.17h1.0v1.0h-1.0zM210.31 298.93h1.0v1.0h-1.0zM211.13 298.55h1.0v1.0h-1.0zM191.09 312.62h1.5v1.5h-1.5zM198.59 317.64h1.0v1.0h-1.0zM209.27 296.91h1.0v1.0h-1.0zM209.65 296.57h1.0v1.0h-1.0zM209.36 297.62h1.0v1.0h-1.0zM204.21 313.12h1.5v1.5h-1.5zM210.48 297.96h1.0v1.0h-1.0zM205.71 296.21h1.0v1.0h-1.0zM194.05 316.02h1.0v1.0h-1.0zM199.79 316.26h1.5v1.5h-1.5zM206.06 311.18h1.0v1.0h-1.0zM194.08 316.83h1.5v1.5h-1.5zM207.43 309.68h1.5v1.5h-1.5zM209.27 296.62h1.0v1.0h-1.0zM192.73 306.51h1.0v1.0h-1.0zM199.25 316.16h1.0v1.0h-1.0zM195.53 303.05h1.0v1.0h-1.0zM200.38 316.2h1.5v1.5h-1.5zM191.21 311.66h1.0v1.0h-1.0zM207.64 308.99h1.0v1.0h-1.0zM205.08 312.32h1.0v1.0h-1.0zM201.55 297.07h1.5v1.5h-1.5zM205.61 311.21h1.0v1.0h-1.0zM205.94 296.44h1.5v1.5h-1.5zM193.34 314.62h1.5v1.5h-1.5zM199.06 299.65h1.0v1.0h-1.0zM198.22 316.06h1.0v1.0h-1.0zM203.49 314.73h1.5v1.5h-1.5zM195.85 331.79h1v1h-1zM194.09 317.87h1v1h-1zM188.21 313.77h1v1h-1zM199.53 325.88h1v1h-1zM191.61 333.28h1v1h-1zM190.08 313.89h1v1h-1zM199.62 314.65h1v1h-1zM193.7 314.54h1v1h-1zM194.74 328.72h1.0v1.0h-1.0zM204.48 322.15h1.0v1.0h-1.0zM203.11 325.62h1.4v1.4h-1.4zM200.35 317.13h1.0v1.0h-1.0z" fill="#222"/><path d="M201.41 315.65h1.0v1.0h-1.0zM208.67 295.73h1.0v1.0h-1.0zM195.17 317.84h1.5v1.5h-1.5zM194.27 304.15h1.0v1.0h-1.0zM191.76 315.62h1.0v1.0h-1.0zM206.89 310.59h1.0v1.0h-1.0zM209.5 296.13h1.0v1.0h-1.0zM197.99 317.24h1.5v1.5h-1.5zM204.01 296.04h1.5v1.5h-1.5zM205.95 312.54h1.5v1.5h-1.5zM199.21 298.41h1.0v1.0h-1.0zM204.02 314.82h1.5v1.5h-1.5zM192.16 307.86h1.0v1.0h-1.0zM211.16 297.59h1.5v1.5h-1.5zM210.48 303.16h1.0v1.0h-1.0zM195.57 318.23h1.5v1.5h-1.5zM197.93 299.67h1.0v1.0h-1.0zM196.71 318.26h1.0v1.0h-1.0zM192.18 305.43h1.5v1.5h-1.5zM202.71 316.12h1.5v1.5h-1.5zM191.65 316.4h1.0v1.0h-1.0zM207.35 295.3h1.5v1.5h-1.5zM201.83 315.72h1.5v1.5h-1.5zM190.22 314.1h1.0v1.0h-1.0zM204.8 295.16h1.5v1.5h-1.5zM194.48 317.57h1.0v1.0h-1.0zM201.26 316.45h1.0v1.0h-1.0zM209.2 295.18h1.0v1.0h-1.0zM199.44 316.94h1.0v1.0h-1.0zM196.48 318.22h1.5v1.5h-1.5zM197.3 299.87h1.0v1.0h-1.0zM205.08 295.05h1.0v1.0h-1.0zM191.43 313.08h1.5v1.5h-1.5zM211.23 300.11h1.5v1.5h-1.5zM190.51 311.7h1.5v1.5h-1.5zM209.26 306.89h1.0v1.0h-1.0zM190.67 310.07h1.5v1.5h-1.5zM211.52 300.09h1.0v1.0h-1.0zM194.49 303.61h1.0v1.0h-1.0zM210.53 296.08h1.0v1.0h-1.0zM210.68 303.95h1.0v1.0h-1.0zM193.37 305.07h1.0v1.0h-1.0zM208.49 294.52h1.5v1.5h-1.5zM196.74 318.4h1.0v1.0h-1.0zM206.49 311.62h1.0v1.0h-1.0zM192.62 305.42h1.5v1.5h-1.5zM211.07 300.35h1.0v1.0h-1.0zM205.71 295.79h1.0v1.0h-1.0zM196.03 323.32h1v1h-1zM204.84 313.88h1v1h-1zM207.35 321.42h1v1h-1zM198.77 314.75h1v1h-1zM205.15 327.18h1v1h-1zM213.15 312.88h1v1h-1zM203.5 325.85h1v1h-1zM202.75 314.27h1v1h-1zM199.83 317.4h1v1h-1zM206.59 319.25h1v1h-1zM200.62 318.33h1.0v1.0h-1.0zM205.02 326.15h1.4v1.4h-1.4zM193.99 319.67h1.0v1.0h-1.0zM199.08 330.26h1.4v1.4h-1.4zM202.63 319.96h1.0v1.0h-1.0z" fill="#444"/><path d="M197.31 299.66h1.0v1.0h-1.0zM210.77 295.94h1.0v1.0h-1.0zM198.91 298.46h1.0v1.0h-1.0zM207.09 312.45h1.5v1.5h-1.5zM210.84 304.33h1.0v1.0h-1.0zM203.56 315.5h1.5v1.5h-1.5zM212.3 296.48h1.0v1.0h-1.0zM191.53 306.77h1.5v1.5h-1.5zM211.39 296.72h1.5v1.5h-1.5zM207.65 311.08h1.0v1.0h-1.0zM199.57 297.17h1.0v1.0h-1.0zM207.14 294.64h1.0v1.0h-1.0zM189.92 309.07h1.0v1.0h-1.0zM190.16 315.52h1.0v1.0h-1.0zM190.08 317.1h1.0v1.0h-1.0zM211.25 294.22h1.5v1.5h-1.5zM210.43 304.16h1.5v1.5h-1.5zM192.59 318.88h1.5v1.5h-1.5zM189.5 313.04h1.0v1.0h-1.0zM195.62 319.29h1.0v1.0h-1.0zM203.48 315.54h1.0v1.0h-1.0zM189.43 312.35h1.0v1.0h-1.0zM197.75 317.96h1.0v1.0h-1.0zM203.4 315.13h1.0v1.0h-1.0zM196.99 318.28h1.5v1.5h-1.5zM205.68 294.45h1.0v1.0h-1.0zM212.39 296.53h1.0v1.0h-1.0zM195.16 318.43h1.5v1.5h-1.5z" fill="#777"/><path d="M215.3 274.6V361.3M186.8 335.1H270" stroke="#333" stroke-width="1.4" fill="none"/><path d="M186.8 274.6H270V361.3" stroke="#4a4a4a" stroke-width="1.5" fill="none"/><path d="M186.8 274.6V361.3H270" stroke="#000" stroke-width="1.4" fill="none" stroke-linecap="square"/><path d="M186.8 361.3v3.2M193.06 361.3v2M196.72 361.3v2M199.32 361.3v2M201.34 361.3v2M202.99 361.3v2M204.38 361.3v2M205.58 361.3v2M206.65 361.3v2M207.6 361.3v3.2M213.86 361.3v2M217.52 361.3v2M220.12 361.3v2M222.14 361.3v2M223.79 361.3v2M225.18 361.3v2M226.38 361.3v2M227.45 361.3v2M228.4 361.3v3.2M234.66 361.3v2M238.32 361.3v2M240.92 361.3v2M242.94 361.3v2M244.59 361.3v2M245.98 361.3v2M247.18 361.3v2M248.25 361.3v2M249.2 361.3v3.2M255.46 361.3v2M259.12 361.3v2M261.72 361.3v2M263.74 361.3v2M265.39 361.3v2M266.78 361.3v2M267.98 361.3v2M269.05 361.3v2M270 361.3v3.2M186.8 361.3h-3.2M186.8 354.78h-2M186.8 350.96h-2M186.8 348.25h-2M186.8 346.15h-2M186.8 344.43h-2M186.8 342.98h-2M186.8 341.73h-2M186.8 340.62h-2M186.8 339.62h-3.2M186.8 333.1h-2M186.8 329.28h-2M186.8 326.58h-2M186.8 324.47h-2M186.8 322.76h-2M186.8 321.31h-2M186.8 320.05h-2M186.8 318.94h-2M186.8 317.95h-3.2M186.8 311.43h-2M186.8 307.61h-2M186.8 304.9h-2M186.8 302.8h-2M186.8 301.08h-2M186.8 299.63h-2M186.8 298.38h-2M186.8 297.27h-2M186.8 296.28h-3.2M186.8 289.75h-2M186.8 285.93h-2M186.8 283.23h-2M186.8 281.12h-2M186.8 279.41h-2M186.8 277.96h-2M186.8 276.7h-2M186.8 275.59h-2M186.8 274.6h-3.2" stroke="#000" stroke-width="0.8" fill="none"/><g fill="#000" stroke="#000" stroke-width="0.32"><text x="187.2" y="371.5" font-size="6.6" text-anchor="middle">10<tspan dy="-3.0" font-size="5.4">0</tspan></text><text x="208" y="371.5" font-size="6.6" text-anchor="middle">10<tspan dy="-3.0" font-size="5.4">1</tspan></text><text x="228.8" y="371.5" font-size="6.6" text-anchor="middle">10<tspan dy="-3.0" font-size="5.4">2</tspan></text><text x="249.6" y="371.5" font-size="6.6" text-anchor="middle">10<tspan dy="-3.0" font-size="5.4">3</tspan></text><text x="270.4" y="371.5" font-size="6.6" text-anchor="middle">10<tspan dy="-3.0" font-size="5.4">4</tspan></text><text transform="translate(181.8 361.9) rotate(-90)" font-size="6.6" text-anchor="middle">10<tspan dy="-3.0" font-size="5.4">0</tspan></text><text transform="translate(181.8 340.23) rotate(-90)" font-size="6.6" text-anchor="middle">10<tspan dy="-3.0" font-size="5.4">1</tspan></text><text transform="translate(181.8 318.55) rotate(-90)" font-size="6.6" text-anchor="middle">10<tspan dy="-3.0" font-size="5.4">2</tspan></text><text transform="translate(181.8 296.88) rotate(-90)" font-size="6.6" text-anchor="middle">10<tspan dy="-3.0" font-size="5.4">3</tspan></text><text transform="translate(181.8 275.2) rotate(-90)" font-size="6.6" text-anchor="middle">10<tspan dy="-3.0" font-size="5.4">4</tspan></text></g>
<polygon points="331.6,291.9 331.09,291.38 330.37,291.13 329.73,290.73 328.64,291.03 327.88,290.72 326.77,291.09 325.6,291.71 324.42,292.58 323.35,293.17 322.3,293.65 321.25,294.25 320.1,294.61 318.99,295.28 317.8,295.93 316.76,296.83 315.93,297.89 314.81,298.78 314.3,299.92 313.26,300.94 313.05,302.06 312.12,303.19 311.82,304.32 311.49,305.46 311.36,306.58 311.2,307.75 311.87,308.48 311.81,309.67 312.45,310.39 313.17,310.99 314.24,311.18 315.07,311.53 315.98,311.73 316.57,312.42 317.69,312.13 318.5,312.43 319.32,312.83 320.22,313.25 321.27,313.28 322.4,312.46 323.47,311.84 324.62,311.53 325.66,310.58 326.52,309.33 327.4,308.26 328.18,307.12 328.91,305.96 329.68,304.84 330.14,303.62 330.98,302.47 331.41,301.28 331.69,300.13 331.85,299.05 331.84,298.08 331.9,297.13 331.98,296.19 331.98,295.3 332.13,294.29 331.53,293.9 331.65,292.85" fill="#000"/><path d="M332.64 292.93h1.0v1.0h-1.0zM316.76 297.12h1.0v1.0h-1.0zM320.36 312.57h1.5v1.5h-1.5zM326.73 291.37h1.5v1.5h-1.5zM327.54 291.75h1.0v1.0h-1.0zM323.39 292.35h1.0v1.0h-1.0zM331.93 297.13h1.0v1.0h-1.0zM325.91 308.89h1.5v1.5h-1.5zM321.51 293.1h1.5v1.5h-1.5zM331.43 300.24h1.0v1.0h-1.0zM322.98 293.39h1.0v1.0h-1.0zM330.75 303.17h1.5v1.5h-1.5zM327.7 307.11h1.5v1.5h-1.5zM317.48 312.37h1.5v1.5h-1.5zM327.32 307.95h1.0v1.0h-1.0zM315.47 311.72h1.0v1.0h-1.0zM312.06 308h1.0v1.0h-1.0zM331.6 299.03h1.0v1.0h-1.0zM313.24 300.17h1.0v1.0h-1.0zM326.29 291.71h1.5v1.5h-1.5zM331.73 295.13h1.5v1.5h-1.5zM313.32 302.73h1.0v1.0h-1.0zM330.72 302.44h1.0v1.0h-1.0zM326.36 292.22h1.0v1.0h-1.0zM318.85 295.44h1.5v1.5h-1.5zM319.34 294.94h1.0v1.0h-1.0zM324.23 311.5h1.0v1.0h-1.0zM329.52 306h1.0v1.0h-1.0zM312.51 304.81h1.5v1.5h-1.5zM318.59 295.54h1.0v1.0h-1.0zM314.11 311.7h1.5v1.5h-1.5zM313.37 301.75h1.0v1.0h-1.0zM324.16 311.41h1.0v1.0h-1.0zM312.5 302.94h1.5v1.5h-1.5zM314.38 299.69h1.5v1.5h-1.5zM313.72 310.19h1.5v1.5h-1.5zM323.38 310.85h1.0v1.0h-1.0zM332.35 294.82h1.0v1.0h-1.0zM313.77 301.64h1.5v1.5h-1.5zM333.21 296.15h1.0v1.0h-1.0zM312.62 309.88h1.0v1.0h-1.0zM321.22 293h1.5v1.5h-1.5zM314.27 299.1h1.0v1.0h-1.0zM325.55 291.95h1.0v1.0h-1.0zM325.94 291.74h1.5v1.5h-1.5zM323.98 292.88h1.0v1.0h-1.0zM329.58 291.37h1.5v1.5h-1.5zM321.79 293.1h1.0v1.0h-1.0zM320.8 313.34h1.0v1.0h-1.0zM312.32 304.51h1.5v1.5h-1.5zM315.86 297.84h1.0v1.0h-1.0zM315.17 311.48h1.5v1.5h-1.5zM326.19 291.6h1.0v1.0h-1.0zM311.51 305.33h1.5v1.5h-1.5zM331.82 299.03h1.0v1.0h-1.0zM326.99 307.95h1.0v1.0h-1.0zM313.62 300.97h1.0v1.0h-1.0zM330.51 291.72h1.0v1.0h-1.0zM314.02 300.59h1.0v1.0h-1.0zM321.66 293.31h1.5v1.5h-1.5zM327.24 291.52h1.5v1.5h-1.5zM313.71 310.35h1.0v1.0h-1.0zM325.97 292.21h1.0v1.0h-1.0zM329.97 292.02h1.0v1.0h-1.0zM311.83 308.14h1.0v1.0h-1.0zM328.23 291.39h1.0v1.0h-1.0zM312.51 306.11h1.0v1.0h-1.0zM321.6 312.86h1.0v1.0h-1.0zM313.71 301.23h1.0v1.0h-1.0zM312.49 306.82h1.0v1.0h-1.0zM331.47 300.52h1.0v1.0h-1.0zM321.03 294.1h1.0v1.0h-1.0zM319.21 295.6h1.5v1.5h-1.5zM331.85 299.14h1.0v1.0h-1.0zM312.62 307.03h1.5v1.5h-1.5zM325.49 309.49h1.5v1.5h-1.5zM331.79 294.1h1.5v1.5h-1.5zM326.17 308.68h1.5v1.5h-1.5zM331.39 300.24h1.5v1.5h-1.5zM313.75 300.15h1.5v1.5h-1.5zM312.48 303.1h1.5v1.5h-1.5zM319.92 313.76h1.5v1.5h-1.5zM311.44 305.22h1.5v1.5h-1.5zM332.86 294.22h1.0v1.0h-1.0zM328.59 292.23h1.0v1.0h-1.0zM314.04 311.8h1.5v1.5h-1.5zM325.42 292.35h1.0v1.0h-1.0zM330.78 293.2h1.0v1.0h-1.0zM328.09 291.49h1.0v1.0h-1.0zM315.23 313.42h1.0v1.0h-1.0zM317.98 313.47h1.5v1.5h-1.5zM324 311.12h1.0v1.0h-1.0zM332.25 297.68h1.0v1.0h-1.0zM312.96 309.32h1.5v1.5h-1.5zM327.38 291.84h1.0v1.0h-1.0zM327.39 291.67h1.5v1.5h-1.5zM312.44 303.75h1.0v1.0h-1.0zM328.56 290.81h1.0v1.0h-1.0zM329.65 291.66h1.0v1.0h-1.0zM317.16 312.88h1.0v1.0h-1.0zM324.75 291.17h1.0v1.0h-1.0zM312.94 308.72h1.0v1.0h-1.0zM315.49 311.99h1.5v1.5h-1.5zM322.78 293.55h1.5v1.5h-1.5zM313.19 302.62h1.0v1.0h-1.0zM329.71 303.86h1.0v1.0h-1.0zM328.97 306.16h1.0v1.0h-1.0zM330.1 292.32h1.0v1.0h-1.0zM324.21 292.32h1.0v1.0h-1.0zM325.03 310.84h1.0v1.0h-1.0zM311.79 307.78h1.0v1.0h-1.0zM316.38 297.81h1.0v1.0h-1.0zM318.23 295.91h1.0v1.0h-1.0zM331.87 297.64h1.0v1.0h-1.0zM321.17 294.05h1.0v1.0h-1.0zM331.13 300.5h1.0v1.0h-1.0zM320.48 312.68h1.0v1.0h-1.0zM316.89 312.83h1.0v1.0h-1.0zM330.07 304.34h1.5v1.5h-1.5zM332.54 295.03h1.5v1.5h-1.5zM313.2 301.13h1.0v1.0h-1.0zM324.4 292.83h1.5v1.5h-1.5zM316.43 312.23h1.5v1.5h-1.5zM329.94 291.39h1.0v1.0h-1.0zM314.19 312.68h1.0v1.0h-1.0zM328.34 307.26h1.0v1.0h-1.0zM312.62 308h1.0v1.0h-1.0zM325.49 292.19h1.0v1.0h-1.0zM324.15 292.93h1.0v1.0h-1.0zM328.76 305.23h1.0v1.0h-1.0zM331.75 297.39h1.5v1.5h-1.5zM330.61 291.51h1.5v1.5h-1.5zM312.28 304.75h1.5v1.5h-1.5zM329.47 305.09h1.0v1.0h-1.0zM325.76 291.85h1.0v1.0h-1.0zM331.16 301.07h1.5v1.5h-1.5zM313.15 309.65h1.0v1.0h-1.0zM324.59 310.97h1.0v1.0h-1.0zM314.36 311.3h1.0v1.0h-1.0zM323.59 311.31h1.5v1.5h-1.5zM317.1 313.37h1.0v1.0h-1.0zM331.3 294h1.0v1.0h-1.0zM332.68 293.05h1.0v1.0h-1.0zM328.24 291.85h1.0v1.0h-1.0zM312.38 306.16h1.0v1.0h-1.0zM315.55 299h1.0v1.0h-1.0zM332.43 295.14h1.0v1.0h-1.0zM316.19 313.43h1.0v1.0h-1.0zM329.88 304.49h1.5v1.5h-1.5zM312.16 303.21h1.5v1.5h-1.5zM314.78 299.68h1.5v1.5h-1.5zM331.74 294.22h1.0v1.0h-1.0zM312.22 308.96h1.5v1.5h-1.5zM321.71 312.29h1.0v1.0h-1.0zM330.55 302.77h1.0v1.0h-1.0zM318.85 312.58h1.5v1.5h-1.5zM312.59 307.91h1.0v1.0h-1.0zM331.62 299.58h1.5v1.5h-1.5zM317.54 297.03h1.5v1.5h-1.5zM315.63 298.15h1.0v1.0h-1.0zM332.23 298.91h1.0v1.0h-1.0zM332.5 295.53h1.0v1.0h-1.0zM314.67 312.02h1.0v1.0h-1.0zM327.62 291.68h1.5v1.5h-1.5zM322.57 311.69h1.0v1.0h-1.0zM332.19 295.35h1.0v1.0h-1.0zM313.62 301.04h1.5v1.5h-1.5zM327.31 291.63h1.0v1.0h-1.0zM324.97 292.36h1.5v1.5h-1.5zM326.2 308.8h1.5v1.5h-1.5zM318.63 296.09h1.0v1.0h-1.0zM322.7 311.5h1.0v1.0h-1.0zM318.08 295.8h1.5v1.5h-1.5zM311.02 308.56h1.0v1.0h-1.0zM326.96 307.94h1.0v1.0h-1.0zM331.99 297.17h1.0v1.0h-1.0zM313.14 310.4h1.5v1.5h-1.5zM328.6 291.48h1.5v1.5h-1.5zM312.54 305.8h1.0v1.0h-1.0zM331.23 293.42h1.5v1.5h-1.5zM316.94 297.38h1.5v1.5h-1.5zM317.01 318.6h1v1h-1zM318.93 307.87h1v1h-1zM320.94 313.53h1v1h-1zM321.57 312.03h1v1h-1zM325.42 323.74h1v1h-1zM313.39 312.93h1v1h-1zM311.78 329.25h1v1h-1zM320.7 328.68h1v1h-1zM317.6 333.28h1v1h-1zM324.67 308.5h1v1h-1zM316.17 318.71h1.0v1.0h-1.0zM319.48 314.52h1.4v1.4h-1.4zM322.01 314.08h1.0v1.0h-1.0zM322.4 325.14h1.0v1.0h-1.0zM314.73 325.41h1.4v1.4h-1.4zM322.83 329.52h1.0v1.0h-1.0zM320.7 321.05h1.0v1.0h-1.0zM314.9 318.92h1.0v1.0h-1.0zM317.4 323.94h1.4v1.4h-1.4zM329.03 312.76h1.0v1.0h-1.0zM315.53 318.12h1.4v1.4h-1.4z" fill="#000"/><path d="M320 294.12h1.0v1.0h-1.0zM313.18 299.85h1.0v1.0h-1.0zM321.21 292.8h1.5v1.5h-1.5zM313.63 312.5h1.0v1.0h-1.0zM311.47 309.06h1.0v1.0h-1.0zM328.11 307.44h1.0v1.0h-1.0zM329.13 306.58h1.0v1.0h-1.0zM317.04 295.15h1.0v1.0h-1.0zM323.92 311.4h1.0v1.0h-1.0zM327.4 290.85h1.0v1.0h-1.0zM317.39 295.37h1.5v1.5h-1.5zM331.45 291.91h1.0v1.0h-1.0zM314.18 299.29h1.5v1.5h-1.5zM313.7 313.23h1.5v1.5h-1.5zM311.65 307.24h1.0v1.0h-1.0zM332.41 292.74h1.5v1.5h-1.5zM322.25 292.97h1.5v1.5h-1.5zM327.65 308.78h1.0v1.0h-1.0zM330.41 305.3h1.0v1.0h-1.0zM333.24 294.09h1.5v1.5h-1.5zM326 291.71h1.0v1.0h-1.0zM333.18 293.97h1.5v1.5h-1.5zM311.38 307.37h1.0v1.0h-1.0zM328.22 307.32h1.0v1.0h-1.0zM311.95 310.21h1.0v1.0h-1.0zM319.8 293.43h1.0v1.0h-1.0zM318.64 294.66h1.5v1.5h-1.5zM330.5 291.64h1.0v1.0h-1.0zM317.83 295.67h1.0v1.0h-1.0zM331.51 301.58h1.5v1.5h-1.5zM333.1 297.62h1.5v1.5h-1.5zM322.81 312.06h1.0v1.0h-1.0zM316.87 295.62h1.0v1.0h-1.0zM326.76 310.09h1.5v1.5h-1.5zM321.22 292.65h1.0v1.0h-1.0zM310.87 307.04h1.0v1.0h-1.0zM323.95 292.04h1.5v1.5h-1.5zM333.89 293.83h1.0v1.0h-1.0zM314.74 313.95h1.0v1.0h-1.0zM315.08 297.43h1.5v1.5h-1.5zM329.37 290.8h1.5v1.5h-1.5zM323.51 312.15h1.5v1.5h-1.5zM328.04 291.11h1.5v1.5h-1.5zM312.3 301.28h1.5v1.5h-1.5zM325.87 290.7h1.0v1.0h-1.0zM313.06 301.65h1.5v1.5h-1.5zM333.31 295.48h1.0v1.0h-1.0zM327.21 291.03h1.0v1.0h-1.0zM331.41 291.7h1.5v1.5h-1.5zM311.45 309.75h1.0v1.0h-1.0zM333.18 293.42h1.5v1.5h-1.5zM311.69 304.64h1.0v1.0h-1.0zM331.26 291.29h1.0v1.0h-1.0zM332.52 298.98h1.0v1.0h-1.0zM330.13 304.14h1.0v1.0h-1.0zM323.79 291.73h1.5v1.5h-1.5zM323.07 312.27h1.0v1.0h-1.0zM312.6 299.94h1.5v1.5h-1.5zM316.27 313.8h1.0v1.0h-1.0zM314.31 298.74h1.0v1.0h-1.0zM316.17 296.43h1.5v1.5h-1.5zM328.64 290.66h1.5v1.5h-1.5zM321.83 292.28h1.0v1.0h-1.0zM325.69 311.07h1.0v1.0h-1.0zM316.63 297.12h1.5v1.5h-1.5zM331.69 291.08h1.5v1.5h-1.5zM312.79 300.56h1.5v1.5h-1.5zM310.92 305.96h1.5v1.5h-1.5zM322.5 292.01h1.0v1.0h-1.0zM314.56 312.41h1.0v1.0h-1.0zM313.5 312.76h1.0v1.0h-1.0zM332.81 297.65h1.0v1.0h-1.0zM311.62 309.19h1.5v1.5h-1.5zM332.39 291.1h1.5v1.5h-1.5zM319.52 313.25h1.0v1.0h-1.0zM318.29 295.02h1.5v1.5h-1.5zM320.12 313.25h1.0v1.0h-1.0zM311.48 302.74h1.5v1.5h-1.5zM310.93 307.28h1.5v1.5h-1.5zM319.76 313.74h1.0v1.0h-1.0zM313.85 312.18h1.0v1.0h-1.0zM325.53 291.04h1.5v1.5h-1.5zM324.29 291.66h1.0v1.0h-1.0zM323.15 312.25h1.0v1.0h-1.0zM333.08 291.53h1.0v1.0h-1.0zM326.95 309.46h1.5v1.5h-1.5zM317.35 295.19h1.5v1.5h-1.5zM311.63 307.19h1.5v1.5h-1.5zM323.26 311.99h1.5v1.5h-1.5zM329.8 290.45h1.5v1.5h-1.5zM311.43 304.16h1.0v1.0h-1.0zM311.16 305.01h1.0v1.0h-1.0zM327.34 309.68h1.5v1.5h-1.5zM330.07 290.91h1.0v1.0h-1.0zM321 293.1h1.0v1.0h-1.0zM325.03 310.94h1.0v1.0h-1.0zM328.29 308.07h1.0v1.0h-1.0zM327.55 316.14h1v1h-1zM316.34 309.92h1v1h-1zM327.48 308.05h1v1h-1zM319.21 318.87h1v1h-1zM327.15 321.46h1v1h-1zM329.24 316.71h1v1h-1zM315.88 323.32h1v1h-1zM323.31 309.96h1v1h-1zM319.86 312.46h1v1h-1zM327.25 318.96h1.0v1.0h-1.0zM315.63 315.74h1.4v1.4h-1.4zM325.59 319.97h1.4v1.4h-1.4zM326.21 325.71h1.0v1.0h-1.0zM324.84 328.08h1.0v1.0h-1.0z" fill="#222"/><path d="M328.89 289.8h1.0v1.0h-1.0zM313.05 299.94h1.5v1.5h-1.5zM333.14 294.03h1.0v1.0h-1.0zM332.79 301.63h1.0v1.0h-1.0zM312.78 313.11h1.0v1.0h-1.0zM317.21 295.07h1.5v1.5h-1.5zM314.37 298.36h1.0v1.0h-1.0zM318.06 294.35h1.0v1.0h-1.0zM316.16 315.1h1.5v1.5h-1.5zM316.65 296.21h1.0v1.0h-1.0zM311.15 309.11h1.0v1.0h-1.0zM333.69 298.77h1.0v1.0h-1.0zM333.7 294.8h1.0v1.0h-1.0zM322.06 314.5h1.0v1.0h-1.0zM311.79 302.01h1.0v1.0h-1.0zM326.25 290.98h1.0v1.0h-1.0zM319.96 314.78h1.0v1.0h-1.0zM311.43 307.74h1.0v1.0h-1.0zM331.08 305.04h1.5v1.5h-1.5zM310.98 302.49h1.0v1.0h-1.0zM314.98 314.28h1.5v1.5h-1.5zM314.63 297.14h1.0v1.0h-1.0zM313.78 299h1.0v1.0h-1.0zM312.15 306.16h1.0v1.0h-1.0zM312.65 299.91h1.0v1.0h-1.0zM315.82 295.93h1.0v1.0h-1.0zM332.12 302.88h1.0v1.0h-1.0zM311.25 303.92h1.0v1.0h-1.0zM332.38 291.35h1.5v1.5h-1.5zM321.31 292.56h1.0v1.0h-1.0zM330.27 305.76h1.0v1.0h-1.0zM332.65 300.39h1.0v1.0h-1.0zM333.8 293.89h1.5v1.5h-1.5zM331.96 303.13h1.5v1.5h-1.5zM314.4 313.75h1.0v1.0h-1.0zM327.25 290.67h1.0v1.0h-1.0zM333.58 298.71h1.5v1.5h-1.5zM313.63 313.13h1.5v1.5h-1.5zM325.49 290.4h1.5v1.5h-1.5zM333.23 292.38h1.0v1.0h-1.0zM316.8 314.68h1.0v1.0h-1.0zM333.56 297.32h1.0v1.0h-1.0zM333.93 297.42h1.0v1.0h-1.0zM322.89 320.29h1v1h-1zM318.76 311.03h1v1h-1zM317.07 325.06h1v1h-1zM324.42 324.08h1v1h-1zM311.08 308.55h1v1h-1zM333.62 316.86h1v1h-1zM326.79 308.93h1v1h-1zM323.05 308.78h1v1h-1zM313.98 328.41h1.0v1.0h-1.0zM327.44 314.17h1.0v1.0h-1.0zM327.72 328.35h1.4v1.4h-1.4zM324.57 327.12h1.0v1.0h-1.0z" fill="#444"/><path d="M325.2 288.74h1.0v1.0h-1.0zM315.5 293.88h1.5v1.5h-1.5zM313.74 316.68h1.0v1.0h-1.0zM335.22 295.68h1.0v1.0h-1.0zM334.33 291.04h1.0v1.0h-1.0zM334.09 289.62h1.5v1.5h-1.5zM331.95 289.2h1.0v1.0h-1.0zM310.98 312.33h1.0v1.0h-1.0zM334.32 292.26h1.5v1.5h-1.5zM329.71 289.43h1.0v1.0h-1.0zM314.54 315.35h1.0v1.0h-1.0zM313.03 299.3h1.5v1.5h-1.5zM326.96 288.52h1.5v1.5h-1.5zM317.23 292.61h1.0v1.0h-1.0zM312.15 309.08h1.5v1.5h-1.5zM321.88 291.83h1.5v1.5h-1.5zM334.61 296.66h1.5v1.5h-1.5zM333.06 301.3h1.0v1.0h-1.0zM311.84 311.9h1.0v1.0h-1.0z" fill="#777"/><path d="M339 274.2V361.7M310 334.8H393.1" stroke="#333" stroke-width="1.4" fill="none"/><path d="M310 274.2H393.1V361.7" stroke="#4a4a4a" stroke-width="1.5" fill="none"/><path d="M310 274.2V361.7H393.1" stroke="#000" stroke-width="1.4" fill="none" stroke-linecap="square"/><path d="M310 361.7v3.2M316.25 361.7v2M319.91 361.7v2M322.51 361.7v2M324.52 361.7v2M326.17 361.7v2M327.56 361.7v2M328.76 361.7v2M329.82 361.7v2M330.77 361.7v3.2M337.03 361.7v2M340.69 361.7v2M343.28 361.7v2M345.3 361.7v2M346.94 361.7v2M348.33 361.7v2M349.54 361.7v2M350.6 361.7v2M351.55 361.7v3.2M357.8 361.7v2M361.46 361.7v2M364.06 361.7v2M366.07 361.7v2M367.72 361.7v2M369.11 361.7v2M370.31 361.7v2M371.37 361.7v2M372.33 361.7v3.2M378.58 361.7v2M382.24 361.7v2M384.83 361.7v2M386.85 361.7v2M388.49 361.7v2M389.88 361.7v2M391.09 361.7v2M392.15 361.7v2M393.1 361.7v3.2M310 361.7h-3.2M310 355.11h-2M310 351.26h-2M310 348.53h-2M310 346.41h-2M310 344.68h-2M310 343.21h-2M310 341.94h-2M310 340.83h-2M310 339.82h-3.2M310 333.24h-2M310 329.39h-2M310 326.65h-2M310 324.54h-2M310 322.8h-2M310 321.34h-2M310 320.07h-2M310 318.95h-2M310 317.95h-3.2M310 311.36h-2M310 307.51h-2M310 304.78h-2M310 302.66h-2M310 300.93h-2M310 299.46h-2M310 298.19h-2M310 297.08h-2M310 296.07h-3.2M310 289.49h-2M310 285.64h-2M310 282.9h-2M310 280.79h-2M310 279.05h-2M310 277.59h-2M310 276.32h-2M310 275.2h-2M310 274.2h-3.2" stroke="#000" stroke-width="0.8" fill="none"/><g fill="#000" stroke="#000" stroke-width="0.32"><text x="310.4" y="371.9" font-size="6.6" text-anchor="middle">10<tspan dy="-3.0" font-size="5.4">0</tspan></text><text x="331.17" y="371.9" font-size="6.6" text-anchor="middle">10<tspan dy="-3.0" font-size="5.4">1</tspan></text><text x="351.95" y="371.9" font-size="6.6" text-anchor="middle">10<tspan dy="-3.0" font-size="5.4">2</tspan></text><text x="372.73" y="371.9" font-size="6.6" text-anchor="middle">10<tspan dy="-3.0" font-size="5.4">3</tspan></text><text x="393.5" y="371.9" font-size="6.6" text-anchor="middle">10<tspan dy="-3.0" font-size="5.4">4</tspan></text><text transform="translate(305 362.3) rotate(-90)" font-size="6.6" text-anchor="middle">10<tspan dy="-3.0" font-size="5.4">0</tspan></text><text transform="translate(305 340.43) rotate(-90)" font-size="6.6" text-anchor="middle">10<tspan dy="-3.0" font-size="5.4">1</tspan></text><text transform="translate(305 318.55) rotate(-90)" font-size="6.6" text-anchor="middle">10<tspan dy="-3.0" font-size="5.4">2</tspan></text><text transform="translate(305 296.68) rotate(-90)" font-size="6.6" text-anchor="middle">10<tspan dy="-3.0" font-size="5.4">3</tspan></text><text transform="translate(305 274.8) rotate(-90)" font-size="6.6" text-anchor="middle">10<tspan dy="-3.0" font-size="5.4">4</tspan></text></g>
<polygon points="448.22,296.89 447.89,296.23 447.31,295.85 446.97,294.98 446.23,294.67 445.34,294.56 444.28,294.88 443.26,294.99 442.13,295.71 441.06,295.99 439.98,296.7 438.82,296.97 437.75,297.73 436.69,298.51 435.67,299.33 434.6,300.13 434.02,301.29 432.89,302.11 432.81,303.33 432.31,304.35 431.59,305.36 431.65,306.37 431.13,307.43 431.29,308.38 430.63,309.63 431.02,310.52 430.71,311.81 431.1,312.76 431.4,313.8 431.94,314.7 432.58,315.54 433.76,315.67 434.65,316.13 435.76,316.15 436.67,316.5 437.78,316.23 438.79,316.16 439.79,316.04 440.81,315.59 441.8,315.23 442.83,315.04 443.68,313.98 444.69,313.47 445.63,312.72 446.46,311.76 447.11,310.63 447.84,309.58 448.37,308.42 449.11,307.33 449.73,306.16 450.28,304.95 450.87,303.7 450.95,302.54 451.02,301.42 450.63,300.57 450.78,299.48 449.86,299.12 449.92,298.13 449.23,297.78 448.68,297.37" fill="#000"/><path d="M449.08 297.01h1.5v1.5h-1.5zM433.29 314.17h1.5v1.5h-1.5zM442.45 295.25h1.5v1.5h-1.5zM449.86 295.68h1.0v1.0h-1.0zM449.37 296.37h1.5v1.5h-1.5zM446.78 310.38h1.0v1.0h-1.0zM441.87 296.14h1.0v1.0h-1.0zM450.43 299.94h1.0v1.0h-1.0zM448.65 307.03h1.0v1.0h-1.0zM440.86 315.31h1.0v1.0h-1.0zM433.41 314.29h1.0v1.0h-1.0zM447.18 310.16h1.0v1.0h-1.0zM447.36 309.93h1.0v1.0h-1.0zM444.93 294.58h1.5v1.5h-1.5zM449.81 298.52h1.0v1.0h-1.0zM444.33 313.54h1.0v1.0h-1.0zM433.14 302.25h1.0v1.0h-1.0zM449.62 304.12h1.0v1.0h-1.0zM439.59 297.17h1.0v1.0h-1.0zM449.58 297.04h1.5v1.5h-1.5zM446.39 295.01h1.5v1.5h-1.5zM438.5 316.12h1.0v1.0h-1.0zM449.13 305.34h1.0v1.0h-1.0zM445.04 312.69h1.5v1.5h-1.5zM446.35 311.95h1.0v1.0h-1.0zM448.21 295.35h1.0v1.0h-1.0zM445.72 312.86h1.0v1.0h-1.0zM434.49 300.39h1.5v1.5h-1.5zM451.18 299.18h1.5v1.5h-1.5zM447.21 296.17h1.5v1.5h-1.5zM444.34 295.87h1.5v1.5h-1.5zM435.09 315.14h1.5v1.5h-1.5zM434.57 299.49h1.5v1.5h-1.5zM450.92 302.86h1.5v1.5h-1.5zM435.26 300.46h1.5v1.5h-1.5zM441.48 296.69h1.0v1.0h-1.0zM431.29 304.33h1.5v1.5h-1.5zM450.73 298.48h1.5v1.5h-1.5zM433.66 302.34h1.0v1.0h-1.0zM434.92 300.56h1.0v1.0h-1.0zM449.28 305.82h1.5v1.5h-1.5zM432.18 304.59h1.0v1.0h-1.0zM448.49 307.65h1.0v1.0h-1.0zM434.91 315.35h1.0v1.0h-1.0zM449.79 297.81h1.0v1.0h-1.0zM435.63 299.99h1.0v1.0h-1.0zM432.71 313.56h1.0v1.0h-1.0zM430.94 306.31h1.0v1.0h-1.0zM446.7 311.14h1.0v1.0h-1.0zM433.8 301.65h1.0v1.0h-1.0zM445.4 313.35h1.0v1.0h-1.0zM438.81 315.69h1.0v1.0h-1.0zM447.75 295.12h1.0v1.0h-1.0zM444.21 314.08h1.0v1.0h-1.0zM441.74 295.94h1.5v1.5h-1.5zM430.73 309.95h1.0v1.0h-1.0zM435.73 315.57h1.0v1.0h-1.0zM446.02 311.46h1.0v1.0h-1.0zM435.14 300.68h1.5v1.5h-1.5zM450.37 300.46h1.0v1.0h-1.0zM433.01 301.42h1.0v1.0h-1.0zM447.79 309.36h1.5v1.5h-1.5zM430.21 308.35h1.0v1.0h-1.0zM433.06 303.09h1.0v1.0h-1.0zM447.02 309.88h1.0v1.0h-1.0zM450.56 297.93h1.0v1.0h-1.0zM450.58 302.03h1.0v1.0h-1.0zM433.48 302.01h1.5v1.5h-1.5zM442.87 314.26h1.0v1.0h-1.0zM448.64 306.77h1.5v1.5h-1.5zM436.82 298.56h1.0v1.0h-1.0zM446.66 310.83h1.5v1.5h-1.5zM450.36 299.4h1.0v1.0h-1.0zM433.33 302.52h1.5v1.5h-1.5zM436.34 315.75h1.5v1.5h-1.5zM441.23 296.65h1.0v1.0h-1.0zM440.01 297h1.0v1.0h-1.0zM437.5 316.77h1.0v1.0h-1.0zM449.84 304.14h1.5v1.5h-1.5zM443.59 295.76h1.5v1.5h-1.5zM448.74 295.27h1.0v1.0h-1.0zM432.04 314.15h1.0v1.0h-1.0zM431.23 308.6h1.5v1.5h-1.5zM429.66 310.54h1.5v1.5h-1.5zM439.21 315.72h1.5v1.5h-1.5zM440.37 296.69h1.5v1.5h-1.5zM447.02 295.77h1.5v1.5h-1.5zM442.5 295.77h1.0v1.0h-1.0zM445.31 295.26h1.5v1.5h-1.5zM448.87 306.67h1.0v1.0h-1.0zM444.8 294.73h1.0v1.0h-1.0zM431.28 307.23h1.5v1.5h-1.5zM442.53 296.1h1.5v1.5h-1.5zM434.73 301.14h1.0v1.0h-1.0zM432.33 304.57h1.0v1.0h-1.0zM443.11 314.39h1.5v1.5h-1.5zM448.37 308.71h1.0v1.0h-1.0zM438.7 316.61h1.5v1.5h-1.5zM433.57 300.49h1.5v1.5h-1.5zM445.52 295.61h1.0v1.0h-1.0zM441.72 315.18h1.5v1.5h-1.5zM430.49 309.73h1.0v1.0h-1.0zM433.42 314.11h1.0v1.0h-1.0zM434.35 315.29h1.0v1.0h-1.0zM438.59 316.13h1.0v1.0h-1.0zM433.48 302.49h1.0v1.0h-1.0zM436.83 299.21h1.5v1.5h-1.5zM446.1 311.67h1.5v1.5h-1.5zM435.1 316.1h1.5v1.5h-1.5zM443.37 315.46h1.0v1.0h-1.0zM438.66 316.25h1.0v1.0h-1.0zM442.22 296.28h1.0v1.0h-1.0zM450.93 298.05h1.0v1.0h-1.0zM432.32 314.31h1.5v1.5h-1.5zM435.79 299.38h1.0v1.0h-1.0zM445.88 311.68h1.0v1.0h-1.0zM430.2 310.61h1.0v1.0h-1.0zM447.59 309.16h1.0v1.0h-1.0zM440.59 315.98h1.0v1.0h-1.0zM448.31 296.86h1.5v1.5h-1.5zM444.25 313.48h1.5v1.5h-1.5zM448.04 296.11h1.0v1.0h-1.0zM441.77 296.13h1.5v1.5h-1.5zM435.35 315.56h1.5v1.5h-1.5zM430.9 310.66h1.5v1.5h-1.5zM431.17 310.97h1.0v1.0h-1.0zM432.27 303.1h1.0v1.0h-1.0zM450.48 301.36h1.5v1.5h-1.5zM433.06 301.87h1.5v1.5h-1.5zM431.13 307.52h1.0v1.0h-1.0zM433.86 315.71h1.5v1.5h-1.5zM448.29 296.21h1.0v1.0h-1.0zM431.54 311.36h1.0v1.0h-1.0zM438.24 298.11h1.0v1.0h-1.0zM445.15 312.28h1.0v1.0h-1.0zM448.47 308.67h1.5v1.5h-1.5zM442.71 314.86h1.5v1.5h-1.5zM440.8 315.31h1.0v1.0h-1.0zM436.61 316.13h1.5v1.5h-1.5zM443.02 296.01h1.0v1.0h-1.0zM443.55 315.39h1.0v1.0h-1.0zM441.55 295.31h1.5v1.5h-1.5zM449.85 297.4h1.0v1.0h-1.0zM436.43 315.95h1.0v1.0h-1.0zM449.81 305.67h1.0v1.0h-1.0zM432.43 304.48h1.0v1.0h-1.0zM445.98 312.16h1.0v1.0h-1.0zM437.21 316.78h1.0v1.0h-1.0zM431.2 304.35h1.5v1.5h-1.5zM450.79 300.97h1.0v1.0h-1.0zM446.9 294.72h1.5v1.5h-1.5zM433.28 315.25h1.0v1.0h-1.0zM442.2 296.13h1.0v1.0h-1.0zM442.79 314.4h1.0v1.0h-1.0zM448.81 306.59h1.5v1.5h-1.5zM433.25 314.53h1.0v1.0h-1.0zM430.42 305.97h1.0v1.0h-1.0zM442.98 296.13h1.5v1.5h-1.5zM430.71 305.92h1.5v1.5h-1.5zM431.35 307.94h1.0v1.0h-1.0zM445.69 312.44h1.0v1.0h-1.0zM437.26 298.37h1.0v1.0h-1.0zM430.53 307.65h1.0v1.0h-1.0zM433.93 301.53h1.0v1.0h-1.0zM449.66 299.13h1.0v1.0h-1.0zM445.27 313.16h1.0v1.0h-1.0zM431.28 303.99h1.0v1.0h-1.0zM437.81 316.03h1.5v1.5h-1.5zM434.41 300.63h1.5v1.5h-1.5zM430.47 306.38h1.0v1.0h-1.0zM433.89 320.13h1v1h-1zM433.01 318.71h1v1h-1zM442.81 312.29h1v1h-1zM440.88 328.43h1v1h-1zM437.77 321.27h1v1h-1zM432.46 326.69h1.4v1.4h-1.4zM443.47 316.26h1.4v1.4h-1.4zM439.41 318.07h1.4v1.4h-1.4zM432.94 320.81h1.4v1.4h-1.4zM445.44 321.16h1.4v1.4h-1.4zM442.45 317.24h1.0v1.0h-1.0zM447.72 315.95h1.0v1.0h-1.0zM445.6 319.27h1.4v1.4h-1.4z" fill="#000"/><path d="M447.36 311.57h1.5v1.5h-1.5zM449.12 295.54h1.5v1.5h-1.5zM447.54 310.3h1.0v1.0h-1.0zM438.73 317.51h1.0v1.0h-1.0zM448.89 295.41h1.5v1.5h-1.5zM430.89 305.01h1.0v1.0h-1.0zM431.77 303.31h1.0v1.0h-1.0zM450.5 305.71h1.5v1.5h-1.5zM439.57 295.19h1.0v1.0h-1.0zM440.88 296.11h1.0v1.0h-1.0zM449.25 294.62h1.5v1.5h-1.5zM438.92 297.12h1.0v1.0h-1.0zM439.01 297.17h1.5v1.5h-1.5zM450.55 304.42h1.5v1.5h-1.5zM449.79 306.46h1.5v1.5h-1.5zM448.91 309.16h1.5v1.5h-1.5zM429.97 313.9h1.5v1.5h-1.5zM448.55 308.85h1.0v1.0h-1.0zM431.31 303.63h1.0v1.0h-1.0zM429.86 306.31h1.0v1.0h-1.0zM439.2 296.69h1.0v1.0h-1.0zM450.9 296.17h1.5v1.5h-1.5zM430.26 308.06h1.0v1.0h-1.0zM430.53 308.84h1.5v1.5h-1.5zM430.91 312.44h1.5v1.5h-1.5zM430.45 309.7h1.0v1.0h-1.0zM449.41 296h1.5v1.5h-1.5zM447.67 295.04h1.5v1.5h-1.5zM450.63 297.53h1.5v1.5h-1.5zM432.12 303.23h1.0v1.0h-1.0zM450.09 295.26h1.5v1.5h-1.5zM445.33 313.77h1.0v1.0h-1.0zM430.85 305.8h1.5v1.5h-1.5zM446.41 312.1h1.0v1.0h-1.0zM443.68 294.55h1.0v1.0h-1.0zM449.22 295.56h1.5v1.5h-1.5zM435.56 317.34h1.0v1.0h-1.0zM437 317.47h1.5v1.5h-1.5zM435.82 317.98h1.5v1.5h-1.5zM450.13 305.93h1.0v1.0h-1.0zM439.87 316.75h1.5v1.5h-1.5zM447.91 311.37h1.5v1.5h-1.5zM434.69 299.72h1.0v1.0h-1.0zM431.94 316.02h1.0v1.0h-1.0zM431.79 315.39h1.5v1.5h-1.5zM451.01 297.73h1.0v1.0h-1.0zM444.38 314.57h1.0v1.0h-1.0zM448.32 311.03h1.5v1.5h-1.5zM438.2 317.54h1.0v1.0h-1.0zM450.91 297.8h1.0v1.0h-1.0zM437.8 297.93h1.5v1.5h-1.5zM444.71 314.87h1.0v1.0h-1.0zM430.48 305.04h1.0v1.0h-1.0zM429.9 309.45h1.0v1.0h-1.0zM430.37 311.8h1.0v1.0h-1.0zM441.26 316.16h1.5v1.5h-1.5zM451.63 302.52h1.5v1.5h-1.5zM450.27 295.96h1.0v1.0h-1.0zM447.35 294.84h1.5v1.5h-1.5zM449.13 294.36h1.0v1.0h-1.0zM437.45 317.71h1.5v1.5h-1.5zM444.7 314.39h1.0v1.0h-1.0zM437.43 296.84h1.5v1.5h-1.5zM450.26 306.71h1.0v1.0h-1.0zM432.45 316.59h1.0v1.0h-1.0zM435.48 298.96h1.5v1.5h-1.5zM450.21 303.1h1.0v1.0h-1.0zM442.29 294.54h1.5v1.5h-1.5zM430.89 304.34h1.5v1.5h-1.5zM433.75 316.98h1.0v1.0h-1.0zM430.36 313.21h1.5v1.5h-1.5zM430.09 311.46h1.0v1.0h-1.0zM438.96 297h1.0v1.0h-1.0zM443.51 314.75h1.0v1.0h-1.0zM450.7 295.58h1.0v1.0h-1.0zM440.81 295.84h1.0v1.0h-1.0zM448.77 310h1.5v1.5h-1.5zM443.39 294.69h1.5v1.5h-1.5zM431.69 303.97h1.0v1.0h-1.0zM436.82 298.43h1.5v1.5h-1.5zM445.2 313.75h1.5v1.5h-1.5zM432.84 314.8h1.0v1.0h-1.0zM442.32 316.04h1.0v1.0h-1.0zM442.56 294.46h1.5v1.5h-1.5zM430.16 309.97h1.5v1.5h-1.5zM436.76 297.8h1.0v1.0h-1.0zM449.45 306.38h1.0v1.0h-1.0zM431.06 309.83h1.0v1.0h-1.0zM431.62 313.22h1.0v1.0h-1.0zM435.55 317.35h1.5v1.5h-1.5zM446.85 295.4h1.0v1.0h-1.0zM437.9 296.89h1.0v1.0h-1.0zM437.12 317.71h1.0v1.0h-1.0zM433.66 300.4h1.0v1.0h-1.0zM435.24 314.63h1v1h-1zM440.81 327.74h1v1h-1zM437.39 313.54h1v1h-1zM430.41 317.96h1v1h-1zM434.97 318.15h1.4v1.4h-1.4zM447.77 327.51h1.4v1.4h-1.4zM443.36 317.68h1.0v1.0h-1.0zM453.73 327.29h1.0v1.0h-1.0zM436.17 352.85h1.0v1.0h-1.0z" fill="#222"/><path d="M445.56 314.34h1.5v1.5h-1.5zM431.79 301.5h1.5v1.5h-1.5zM436.39 317.48h1.0v1.0h-1.0zM434.16 318.94h1.5v1.5h-1.5zM451.68 299.86h1.0v1.0h-1.0zM429.61 313.36h1.0v1.0h-1.0zM438.2 318.31h1.0v1.0h-1.0zM447.3 293.77h1.0v1.0h-1.0zM441.72 294.74h1.0v1.0h-1.0zM438.46 296.34h1.5v1.5h-1.5zM448.2 311.03h1.0v1.0h-1.0zM448.59 310.3h1.5v1.5h-1.5zM436.84 319.26h1.0v1.0h-1.0zM438.63 318.34h1.0v1.0h-1.0zM444.42 294.34h1.5v1.5h-1.5zM452.1 302.84h1.5v1.5h-1.5zM438.31 318.44h1.5v1.5h-1.5zM432.03 316.14h1.0v1.0h-1.0zM445.97 314.23h1.5v1.5h-1.5zM434.92 317.63h1.5v1.5h-1.5zM430 311.84h1.5v1.5h-1.5zM451.63 302.35h1.0v1.0h-1.0zM450.94 296.27h1.0v1.0h-1.0zM452.64 301.61h1.5v1.5h-1.5zM430.01 311.73h1.5v1.5h-1.5zM449.87 307.64h1.5v1.5h-1.5zM433.13 300.79h1.0v1.0h-1.0zM448.32 310.81h1.0v1.0h-1.0zM430.23 312.26h1.5v1.5h-1.5zM447.31 294.27h1.0v1.0h-1.0zM448.38 311.67h1.5v1.5h-1.5zM449.42 293.48h1.5v1.5h-1.5zM443.56 316.41h1.5v1.5h-1.5zM451.15 297.16h1.0v1.0h-1.0zM447.78 312.72h1.0v1.0h-1.0zM451.75 303.75h1.5v1.5h-1.5zM430.72 314.11h1.0v1.0h-1.0zM432.52 316.88h1.0v1.0h-1.0zM430.14 304.85h1.5v1.5h-1.5zM435.54 298.66h1.0v1.0h-1.0zM445.87 323.91h1v1h-1zM444.41 332.45h1v1h-1zM435.89 321.72h1v1h-1zM445.28 330.6h1v1h-1zM437.57 311.96h1v1h-1zM448.18 323.67h1v1h-1zM444.05 328.94h1v1h-1zM438.29 324.83h1v1h-1zM450.47 321.25h1v1h-1zM442.31 323.71h1v1h-1zM434.43 312.08h1v1h-1zM437.42 317.29h1v1h-1zM446.72 316.52h1v1h-1zM442.15 312.59h1v1h-1zM434.48 325.33h1.0v1.0h-1.0zM454.89 317.28h1.0v1.0h-1.0zM438.84 328.58h1.0v1.0h-1.0zM449.93 318.83h1.0v1.0h-1.0zM434.44 315.98h1.4v1.4h-1.4zM437.26 321.58h1.0v1.0h-1.0z" fill="#444"/><path d="M437.9 318.67h1.0v1.0h-1.0zM430.68 315.02h1.5v1.5h-1.5zM444.39 292.39h1.5v1.5h-1.5zM439.7 294.1h1.5v1.5h-1.5zM447.69 313.45h1.0v1.0h-1.0zM436.44 297.27h1.0v1.0h-1.0zM429.85 312.01h1.0v1.0h-1.0zM448.85 311.77h1.5v1.5h-1.5zM431 312.36h1.5v1.5h-1.5zM450.32 293.13h1.0v1.0h-1.0zM453.6 303.6h1.5v1.5h-1.5zM448 313.52h1.0v1.0h-1.0zM433.79 299.26h1.0v1.0h-1.0zM444.4 316.44h1.0v1.0h-1.0zM437.7 295.77h1.0v1.0h-1.0zM452.55 301.97h1.0v1.0h-1.0zM430.08 316.25h1.0v1.0h-1.0zM432.42 298.04h1.5v1.5h-1.5zM430.19 305.1h1.0v1.0h-1.0zM443.7 318.63h1.0v1.0h-1.0zM436.22 296.24h1.0v1.0h-1.0zM439.68 319.56h1.5v1.5h-1.5zM449.86 293.82h1.0v1.0h-1.0zM450.45 293.18h1.5v1.5h-1.5zM430.84 312.5h1.0v1.0h-1.0zM446.16 315.49h1.5v1.5h-1.5zM440.66 294.2h1.0v1.0h-1.0zM431.98 300.06h1.0v1.0h-1.0zM430.4 305.6h1.0v1.0h-1.0zM449.02 293.24h1.5v1.5h-1.5zM451.18 293.89h1.5v1.5h-1.5zM450.75 307.44h1.5v1.5h-1.5zM430.79 311.48h1.0v1.0h-1.0zM431.91 316.8h1.0v1.0h-1.0zM450.22 309.92h1.5v1.5h-1.5zM436.52 297.03h1.5v1.5h-1.5z" fill="#777"/><path d="M458.2 274.1V362.3M428.8 335.3H512.8" stroke="#333" stroke-width="1.4" fill="none"/><path d="M428.8 274.1H512.8V362.3" stroke="#4a4a4a" stroke-width="1.5" fill="none"/><path d="M428.8 274.1V362.3H512.8" stroke="#000" stroke-width="1.4" fill="none" stroke-linecap="square"/><path d="M428.8 362.3v3.2M435.12 362.3v2M438.82 362.3v2M441.44 362.3v2M443.48 362.3v2M445.14 362.3v2M446.55 362.3v2M447.76 362.3v2M448.84 362.3v2M449.8 362.3v3.2M456.12 362.3v2M459.82 362.3v2M462.44 362.3v2M464.48 362.3v2M466.14 362.3v2M467.55 362.3v2M468.76 362.3v2M469.84 362.3v2M470.8 362.3v3.2M477.12 362.3v2M480.82 362.3v2M483.44 362.3v2M485.48 362.3v2M487.14 362.3v2M488.55 362.3v2M489.76 362.3v2M490.84 362.3v2M491.8 362.3v3.2M498.12 362.3v2M501.82 362.3v2M504.44 362.3v2M506.48 362.3v2M508.14 362.3v2M509.55 362.3v2M510.76 362.3v2M511.84 362.3v2M512.8 362.3v3.2M428.8 362.3h-3.2M428.8 355.66h-2M428.8 351.78h-2M428.8 349.02h-2M428.8 346.89h-2M428.8 345.14h-2M428.8 343.67h-2M428.8 342.39h-2M428.8 341.26h-2M428.8 340.25h-3.2M428.8 333.61h-2M428.8 329.73h-2M428.8 326.97h-2M428.8 324.84h-2M428.8 323.09h-2M428.8 321.62h-2M428.8 320.34h-2M428.8 319.21h-2M428.8 318.2h-3.2M428.8 311.56h-2M428.8 307.68h-2M428.8 304.92h-2M428.8 302.79h-2M428.8 301.04h-2M428.8 299.57h-2M428.8 298.29h-2M428.8 297.16h-2M428.8 296.15h-3.2M428.8 289.51h-2M428.8 285.63h-2M428.8 282.87h-2M428.8 280.74h-2M428.8 278.99h-2M428.8 277.52h-2M428.8 276.24h-2M428.8 275.11h-2M428.8 274.1h-3.2" stroke="#000" stroke-width="0.8" fill="none"/><g fill="#000" stroke="#000" stroke-width="0.32"><text x="429.2" y="372.5" font-size="6.6" text-anchor="middle">10<tspan dy="-3.0" font-size="5.4">0</tspan></text><text x="450.2" y="372.5" font-size="6.6" text-anchor="middle">10<tspan dy="-3.0" font-size="5.4">1</tspan></text><text x="471.2" y="372.5" font-size="6.6" text-anchor="middle">10<tspan dy="-3.0" font-size="5.4">2</tspan></text><text x="492.2" y="372.5" font-size="6.6" text-anchor="middle">10<tspan dy="-3.0" font-size="5.4">3</tspan></text><text x="513.2" y="372.5" font-size="6.6" text-anchor="middle">10<tspan dy="-3.0" font-size="5.4">4</tspan></text><text transform="translate(423.8 362.9) rotate(-90)" font-size="6.6" text-anchor="middle">10<tspan dy="-3.0" font-size="5.4">0</tspan></text><text transform="translate(423.8 340.85) rotate(-90)" font-size="6.6" text-anchor="middle">10<tspan dy="-3.0" font-size="5.4">1</tspan></text><text transform="translate(423.8 318.8) rotate(-90)" font-size="6.6" text-anchor="middle">10<tspan dy="-3.0" font-size="5.4">2</tspan></text><text transform="translate(423.8 296.75) rotate(-90)" font-size="6.6" text-anchor="middle">10<tspan dy="-3.0" font-size="5.4">3</tspan></text><text transform="translate(423.8 274.7) rotate(-90)" font-size="6.6" text-anchor="middle">10<tspan dy="-3.0" font-size="5.4">4</tspan></text></g>
<polygon points="91.74,576.56 90.76,576.78 89.97,576.79 89.33,576.54 88.48,576.67 87.72,576.57 86.96,576.25 85.94,576.62 84.93,576.62 83.78,577.43 82.61,577.75 81.47,578.76 80.32,579.61 79.25,580.65 78.19,581.67 77.34,582.86 76.12,583.8 75.59,585.08 74.82,586.24 74.29,587.42 73.57,588.63 72.91,589.88 72.87,591.02 72.62,592.22 72.94,593.17 73.16,594.14 73.61,594.95 73.66,596.09 74.25,596.8 74.81,597.53 75.22,598.49 75.54,599.72 76.63,599.82 77.5,600.3 78.42,600.74 79.57,600.58 80.8,599.95 81.94,599.43 83.06,598.49 84.1,597.79 85.03,596.62 86.03,596.04 87.1,595.48 87.95,594.36 88.79,593.25 89.76,592.22 90.71,591.07 91.16,589.67 91.71,588.36 92.41,587.05 92.84,585.72 92.84,584.54 93.43,583.19 93.48,582.06 93.71,580.84 94.08,579.5 93.72,578.7 93.79,577.55 93.07,577.19 92.66,576.55" fill="#000"/><path d="M85.1 577.25h1.5v1.5h-1.5zM75.03 597.49h1.0v1.0h-1.0zM73.13 592.21h1.5v1.5h-1.5zM72.16 595.57h1.5v1.5h-1.5zM74.89 586.62h1.0v1.0h-1.0zM72.62 592.19h1.0v1.0h-1.0zM93.53 582.69h1.5v1.5h-1.5zM91.88 577.53h1.0v1.0h-1.0zM71.92 593.81h1.5v1.5h-1.5zM89.51 576.05h1.0v1.0h-1.0zM92.02 578.09h1.0v1.0h-1.0zM72.94 590.1h1.5v1.5h-1.5zM77.49 598.96h1.0v1.0h-1.0zM88.29 576.52h1.5v1.5h-1.5zM77.68 582.26h1.0v1.0h-1.0zM81 599.32h1.0v1.0h-1.0zM93.23 580.02h1.5v1.5h-1.5zM82.05 598.66h1.0v1.0h-1.0zM79.99 598.88h1.5v1.5h-1.5zM80.62 579.2h1.0v1.0h-1.0zM72.63 593.01h1.5v1.5h-1.5zM91.75 577.54h1.0v1.0h-1.0zM83.11 577.55h1.0v1.0h-1.0zM91.53 587.46h1.5v1.5h-1.5zM76.55 583.96h1.0v1.0h-1.0zM84.71 577.74h1.5v1.5h-1.5zM73.73 597.78h1.0v1.0h-1.0zM84.75 577.36h1.0v1.0h-1.0zM74.92 585.89h1.0v1.0h-1.0zM91.41 575.91h1.5v1.5h-1.5zM90.61 575.95h1.0v1.0h-1.0zM93.25 583.17h1.5v1.5h-1.5zM79.07 599.25h1.5v1.5h-1.5zM84.14 598.69h1.0v1.0h-1.0zM75.92 598.58h1.0v1.0h-1.0zM89.11 576.57h1.0v1.0h-1.0zM82.69 578.9h1.0v1.0h-1.0zM73.48 593.72h1.0v1.0h-1.0zM73.93 597.68h1.5v1.5h-1.5zM93.04 583h1.0v1.0h-1.0zM84.03 598.71h1.0v1.0h-1.0zM91.11 576.53h1.0v1.0h-1.0zM86.67 576.27h1.0v1.0h-1.0zM76.9 583.5h1.0v1.0h-1.0zM78.06 582.33h1.5v1.5h-1.5zM73.91 598.16h1.0v1.0h-1.0zM92 586.39h1.5v1.5h-1.5zM91.75 588.19h1.0v1.0h-1.0zM75.25 586.23h1.0v1.0h-1.0zM92.2 577.85h1.0v1.0h-1.0zM76.16 598.24h1.5v1.5h-1.5zM88.01 594.48h1.5v1.5h-1.5zM92.61 583.91h1.0v1.0h-1.0zM84.73 597.75h1.0v1.0h-1.0zM88.14 594.43h1.5v1.5h-1.5zM73.43 596.3h1.5v1.5h-1.5zM90.58 590.99h1.0v1.0h-1.0zM85.1 596.69h1.0v1.0h-1.0zM93.77 581.42h1.5v1.5h-1.5zM73.23 595.78h1.0v1.0h-1.0zM92.98 578.97h1.5v1.5h-1.5zM92.34 577.92h1.0v1.0h-1.0zM87.95 594.2h1.0v1.0h-1.0zM91.04 590.49h1.0v1.0h-1.0zM80.11 579.47h1.5v1.5h-1.5zM83.62 577.68h1.5v1.5h-1.5zM77.52 583.13h1.5v1.5h-1.5zM73.65 589.57h1.5v1.5h-1.5zM92.59 578.71h1.0v1.0h-1.0zM72.45 591.59h1.0v1.0h-1.0zM78.36 580.96h1.0v1.0h-1.0zM85.3 596.58h1.0v1.0h-1.0zM93.08 582.76h1.5v1.5h-1.5zM81.94 579.03h1.0v1.0h-1.0zM89.6 575.97h1.0v1.0h-1.0zM72.67 593.55h1.5v1.5h-1.5zM93.3 584.66h1.0v1.0h-1.0zM78.62 598.86h1.0v1.0h-1.0zM84.96 596.9h1.0v1.0h-1.0zM93.63 579.55h1.0v1.0h-1.0zM82.27 598.41h1.0v1.0h-1.0zM75.82 599.12h1.0v1.0h-1.0zM82.73 578.2h1.0v1.0h-1.0zM87.77 595.78h1.0v1.0h-1.0zM74.28 588.22h1.0v1.0h-1.0zM93.24 581.07h1.0v1.0h-1.0zM72.98 588.56h1.0v1.0h-1.0zM77.8 598.74h1.5v1.5h-1.5zM76.47 583.26h1.5v1.5h-1.5zM79.91 599.04h1.0v1.0h-1.0zM75.41 585.91h1.5v1.5h-1.5zM93.1 579.02h1.0v1.0h-1.0zM85.28 596.8h1.0v1.0h-1.0zM90.01 591.87h1.0v1.0h-1.0zM90.9 576.51h1.0v1.0h-1.0zM91.18 576.34h1.0v1.0h-1.0zM90.23 576.39h1.5v1.5h-1.5zM77.22 600.41h1.5v1.5h-1.5zM83.72 598.53h1.0v1.0h-1.0zM92.41 587.53h1.5v1.5h-1.5zM74.41 587.57h1.0v1.0h-1.0zM73.47 591.14h1.5v1.5h-1.5zM85.35 576.84h1.0v1.0h-1.0zM79.5 599.09h1.0v1.0h-1.0zM75.52 600.3h1.5v1.5h-1.5zM91.3 576.34h1.0v1.0h-1.0zM72.26 594.41h1.5v1.5h-1.5zM89.91 576.24h1.0v1.0h-1.0zM92.67 578.03h1.0v1.0h-1.0zM81.72 598.99h1.0v1.0h-1.0zM83.12 598.42h1.5v1.5h-1.5zM71.92 594.82h1.0v1.0h-1.0zM88.35 593.5h1.0v1.0h-1.0zM85.56 576.2h1.5v1.5h-1.5zM86.81 576.95h1.0v1.0h-1.0zM89.89 590.87h1.5v1.5h-1.5zM92.85 580.15h1.0v1.0h-1.0zM91 588.74h1.0v1.0h-1.0zM92.19 578.27h1.0v1.0h-1.0zM73.19 591.81h1.5v1.5h-1.5zM90.24 576.5h1.0v1.0h-1.0zM84.03 577.74h1.0v1.0h-1.0zM73.01 596.77h1.5v1.5h-1.5zM84.39 597.85h1.0v1.0h-1.0zM91.74 577.04h1.0v1.0h-1.0zM92.63 586.8h1.0v1.0h-1.0zM92.81 584.59h1.0v1.0h-1.0zM94.02 582.51h1.0v1.0h-1.0zM78 582.8h1.5v1.5h-1.5zM92.92 583.41h1.0v1.0h-1.0zM81.81 598.84h1.5v1.5h-1.5zM83 599.09h1.0v1.0h-1.0zM92.65 583.22h1.0v1.0h-1.0zM89.13 593.98h1.5v1.5h-1.5zM73.99 587.59h1.5v1.5h-1.5zM73.38 590.54h1.0v1.0h-1.0zM72.77 589.48h1.0v1.0h-1.0zM93.37 584.4h1.0v1.0h-1.0zM91.06 591.09h1.0v1.0h-1.0zM74.57 587.68h1.0v1.0h-1.0zM91.63 576.62h1.0v1.0h-1.0zM72.79 597.4h1.0v1.0h-1.0zM78.05 581.69h1.0v1.0h-1.0zM93.26 576.4h1.5v1.5h-1.5zM86.08 576.98h1.0v1.0h-1.0zM92 588.58h1.0v1.0h-1.0zM80.86 580h1.0v1.0h-1.0zM73.81 595.47h1.0v1.0h-1.0zM80.91 598.94h1.0v1.0h-1.0zM84.44 598.26h1.0v1.0h-1.0zM93.37 579.25h1.5v1.5h-1.5zM75.19 585.92h1.0v1.0h-1.0zM92.28 577.99h1.0v1.0h-1.0zM73.05 591.84h1.0v1.0h-1.0zM86.02 596.01h1.0v1.0h-1.0zM77.31 598.55h1.0v1.0h-1.0zM89.76 575.7h1.0v1.0h-1.0zM93.27 584.52h1.5v1.5h-1.5zM92.2 577.37h1.0v1.0h-1.0zM74.35 599.3h1.5v1.5h-1.5zM80.29 600.35h1.0v1.0h-1.0zM83.64 597.63h1.0v1.0h-1.0zM89.45 575.8h1.5v1.5h-1.5zM91.49 587.81h1.0v1.0h-1.0zM79.2 581.54h1.0v1.0h-1.0zM83.17 577.97h1.0v1.0h-1.0zM93.1 584.15h1.0v1.0h-1.0zM74.01 588.44h1.5v1.5h-1.5zM89.27 593.83h1.0v1.0h-1.0zM93.35 578.58h1.0v1.0h-1.0zM74.22 595.92h1.0v1.0h-1.0zM91.36 576.15h1.5v1.5h-1.5zM76.26 584.92h1.0v1.0h-1.0zM91.77 587.48h1.0v1.0h-1.0zM93.15 579.77h1.5v1.5h-1.5zM72.84 590.82h1.0v1.0h-1.0zM91.86 586.77h1.5v1.5h-1.5zM93.01 577.55h1.0v1.0h-1.0zM85.7 576.37h1.0v1.0h-1.0zM88.12 594.47h1.0v1.0h-1.0zM91.01 589.79h1.5v1.5h-1.5zM90.89 591.07h1.0v1.0h-1.0zM90.2 591.87h1.5v1.5h-1.5zM74.62 586.41h1.0v1.0h-1.0zM74.2 588.68h1.0v1.0h-1.0zM92.09 588.15h1.5v1.5h-1.5zM92.62 578.93h1.0v1.0h-1.0zM73.24 593.26h1.5v1.5h-1.5zM73.94 597.79h1.5v1.5h-1.5zM78.13 582.32h1.5v1.5h-1.5zM93.52 584.35h1.0v1.0h-1.0zM86.04 596.29h1.5v1.5h-1.5zM83.2 598.92h1.5v1.5h-1.5zM74.55 596.58h1.0v1.0h-1.0zM73.83 595.88h1.0v1.0h-1.0zM86 576.98h1.0v1.0h-1.0zM85.25 576.27h1.0v1.0h-1.0zM81.72 603.63h1v1h-1zM82.33 594.49h1v1h-1zM87.32 605.08h1v1h-1zM82.72 593.84h1v1h-1zM91.74 596.88h1v1h-1zM74.82 603.46h1v1h-1zM91.82 596.34h1v1h-1zM75.69 604.01h1v1h-1zM78.97 594.83h1v1h-1zM93.22 594.21h1v1h-1zM84.79 595.41h1v1h-1zM74.7 603.32h1.0v1.0h-1.0zM74.81 606.89h1.0v1.0h-1.0zM85.98 617.48h1.0v1.0h-1.0zM81.1 618.04h1.0v1.0h-1.0z" fill="#000"/><path d="M76.47 599.38h1.5v1.5h-1.5zM85.48 598.32h1.5v1.5h-1.5zM90 591.89h1.5v1.5h-1.5zM80.65 599.92h1.5v1.5h-1.5zM83.13 599.14h1.0v1.0h-1.0zM76.63 583.16h1.5v1.5h-1.5zM73.27 587.27h1.0v1.0h-1.0zM73.21 589.94h1.0v1.0h-1.0zM87.03 597.34h1.5v1.5h-1.5zM84.97 598.98h1.5v1.5h-1.5zM71.96 595.99h1.0v1.0h-1.0zM94.03 579.6h1.5v1.5h-1.5zM79.01 601.04h1.5v1.5h-1.5zM93.2 587.65h1.5v1.5h-1.5zM85.6 598.25h1.0v1.0h-1.0zM72.68 591.55h1.0v1.0h-1.0zM72.62 596.4h1.0v1.0h-1.0zM71.81 594.01h1.0v1.0h-1.0zM74.26 599.11h1.0v1.0h-1.0zM94.35 582.41h1.0v1.0h-1.0zM74.59 585.63h1.0v1.0h-1.0zM83.13 599.02h1.5v1.5h-1.5zM93.39 577.22h1.0v1.0h-1.0zM72.39 587.52h1.5v1.5h-1.5zM88.11 575.24h1.5v1.5h-1.5zM85.24 575.9h1.0v1.0h-1.0zM87.99 575.01h1.0v1.0h-1.0zM72.87 596.4h1.0v1.0h-1.0zM90.52 591.44h1.0v1.0h-1.0zM80.16 601.16h1.0v1.0h-1.0zM85.16 576.23h1.0v1.0h-1.0zM93.2 584.91h1.0v1.0h-1.0zM94.16 577.56h1.5v1.5h-1.5zM86.37 597.17h1.0v1.0h-1.0zM88.42 574.49h1.0v1.0h-1.0zM93.61 577.8h1.0v1.0h-1.0zM91.81 588.35h1.0v1.0h-1.0zM83.49 599.78h1.5v1.5h-1.5zM76.04 583.24h1.0v1.0h-1.0zM72.17 594.58h1.0v1.0h-1.0zM85.16 597.5h1.0v1.0h-1.0zM86.07 576.05h1.0v1.0h-1.0zM91.67 590.46h1.5v1.5h-1.5zM92.42 575.33h1.5v1.5h-1.5zM94.06 580.35h1.0v1.0h-1.0zM87.33 595.5h1.0v1.0h-1.0zM87.47 574.63h1.5v1.5h-1.5zM86.68 575.12h1.0v1.0h-1.0zM72.38 590.97h1.0v1.0h-1.0zM93.26 585.96h1.5v1.5h-1.5zM73.89 598.88h1.0v1.0h-1.0zM88.57 574.79h1.0v1.0h-1.0zM92.42 586.78h1.0v1.0h-1.0zM76.21 583.15h1.5v1.5h-1.5zM78.51 580.61h1.5v1.5h-1.5zM74.14 587.06h1.0v1.0h-1.0zM72.06 594.01h1.0v1.0h-1.0zM77.93 599.85h1.5v1.5h-1.5zM87.28 595.79h1.5v1.5h-1.5zM83.46 577.06h1.0v1.0h-1.0zM81.01 579.2h1.0v1.0h-1.0zM72.88 599.88h1.5v1.5h-1.5zM90.83 591.73h1.0v1.0h-1.0zM88.83 574.81h1.5v1.5h-1.5zM73.31 597.7h1.0v1.0h-1.0zM93.53 576.71h1.5v1.5h-1.5zM72.96 588.35h1.0v1.0h-1.0zM73.23 598.81h1.0v1.0h-1.0zM71.96 590.97h1.0v1.0h-1.0zM72.28 595.71h1.5v1.5h-1.5zM75.5 599.89h1.5v1.5h-1.5zM77.46 599.9h1.5v1.5h-1.5zM94.55 583.56h1.0v1.0h-1.0zM72.97 590.35h1.5v1.5h-1.5zM80.6 597.02h1v1h-1zM88.77 597.83h1v1h-1zM85.45 594.02h1v1h-1zM85.43 598.35h1v1h-1zM79.61 602.05h1v1h-1zM76.21 603.59h1v1h-1zM77.74 594.17h1v1h-1zM76.57 604.98h1.4v1.4h-1.4z" fill="#222"/><path d="M78.1 580.37h1.0v1.0h-1.0zM80.66 578.32h1.0v1.0h-1.0zM78.73 601.44h1.5v1.5h-1.5zM93.57 574.03h1.0v1.0h-1.0zM86.57 573.92h1.0v1.0h-1.0zM80.96 576.93h1.0v1.0h-1.0zM72.48 597.79h1.5v1.5h-1.5zM80.19 601.74h1.5v1.5h-1.5zM91.69 574.23h1.0v1.0h-1.0zM78.58 601.8h1.0v1.0h-1.0zM76.23 602.61h1.5v1.5h-1.5zM93.69 586.49h1.5v1.5h-1.5zM75.06 600.48h1.5v1.5h-1.5zM74.98 600.44h1.0v1.0h-1.0zM75.09 601.27h1.0v1.0h-1.0zM89.08 574.82h1.5v1.5h-1.5zM94.99 581.92h1.0v1.0h-1.0zM87.19 597.19h1.0v1.0h-1.0zM73.65 599.54h1.5v1.5h-1.5zM89.57 594.81h1.5v1.5h-1.5zM89.72 595.21h1.5v1.5h-1.5zM71.91 593.46h1.5v1.5h-1.5zM74.57 584.62h1.0v1.0h-1.0zM88.19 574.87h1.0v1.0h-1.0zM74.85 600.34h1.0v1.0h-1.0zM93.74 586.47h1.5v1.5h-1.5zM88.87 574.19h1.0v1.0h-1.0zM72.03 598.74h1.5v1.5h-1.5zM73.14 596.12h1.5v1.5h-1.5zM91.55 574.35h1.5v1.5h-1.5zM93.08 589.23h1.0v1.0h-1.0zM88.26 574.48h1.5v1.5h-1.5zM71.99 597.77h1.5v1.5h-1.5zM72.12 600.25h1.0v1.0h-1.0zM80.09 601.47h1.5v1.5h-1.5zM78.01 600.99h1.5v1.5h-1.5zM87.1 597.68h1.0v1.0h-1.0zM86.52 574.34h1.5v1.5h-1.5zM72.54 596.25h1.0v1.0h-1.0zM72.85 598.36h1.5v1.5h-1.5zM94.75 578.47h1.5v1.5h-1.5zM72.97 594.39h1.0v1.0h-1.0zM82.46 596.67h1v1h-1zM92.14 597.25h1v1h-1zM82.72 600.11h1v1h-1zM82.8 594.97h1v1h-1zM76.36 604.62h1.0v1.0h-1.0zM77.59 601.1h1.0v1.0h-1.0zM82.9 601.15h1.0v1.0h-1.0zM84.35 602.73h1.0v1.0h-1.0zM83.58 604.45h1.0v1.0h-1.0zM79.4 600.78h1.0v1.0h-1.0zM81.53 606.36h1.4v1.4h-1.4zM85.7 620.26h1.0v1.0h-1.0z" fill="#444"/><path d="M72.24 602.88h1.0v1.0h-1.0zM72.88 592.81h1.0v1.0h-1.0zM83.16 601.58h1.0v1.0h-1.0zM78.8 602.28h1.0v1.0h-1.0zM90.14 594.46h1.0v1.0h-1.0zM72.58 595.56h1.0v1.0h-1.0zM72.74 593.62h1.5v1.5h-1.5zM93.76 573.9h1.5v1.5h-1.5zM77.93 603.34h1.0v1.0h-1.0zM73.17 585.68h1.5v1.5h-1.5zM95.21 581.37h1.5v1.5h-1.5zM77.46 580.27h1.5v1.5h-1.5zM96.64 577.49h1.0v1.0h-1.0zM84.75 574.95h1.5v1.5h-1.5zM80.52 577.63h1.0v1.0h-1.0zM77.38 579.93h1.0v1.0h-1.0zM77.41 579.68h1.0v1.0h-1.0zM73.23 593.33h1.0v1.0h-1.0zM97.63 574.4h1.0v1.0h-1.0zM91.03 572.17h1.5v1.5h-1.5zM92.97 573.92h1.0v1.0h-1.0zM95.07 578.13h1.5v1.5h-1.5zM74.29 603.08h1.0v1.0h-1.0zM73.95 600.96h1.0v1.0h-1.0zM93.02 589.9h1.0v1.0h-1.0zM72.11 598.34h1.0v1.0h-1.0zM86.3 600.16h1.0v1.0h-1.0z" fill="#777"/><path d="M98.6 553.7V631.9M71 607.8H152.5" stroke="#333" stroke-width="1.4" fill="none"/><path d="M71 553.7H152.5V631.9" stroke="#4a4a4a" stroke-width="1.5" fill="none"/><path d="M71 553.7V631.9H152.5" stroke="#000" stroke-width="1.4" fill="none" stroke-linecap="square"/><path d="M71 631.9v3.2M77.13 631.9v2M80.72 631.9v2M83.27 631.9v2M85.24 631.9v2M86.85 631.9v2M88.22 631.9v2M89.4 631.9v2M90.44 631.9v2M91.38 631.9v3.2M97.51 631.9v2M101.1 631.9v2M103.64 631.9v2M105.62 631.9v2M107.23 631.9v2M108.59 631.9v2M109.78 631.9v2M110.82 631.9v2M111.75 631.9v3.2M117.88 631.9v2M121.47 631.9v2M124.02 631.9v2M125.99 631.9v2M127.6 631.9v2M128.97 631.9v2M130.15 631.9v2M131.19 631.9v2M132.12 631.9v3.2M138.26 631.9v2M141.85 631.9v2M144.39 631.9v2M146.37 631.9v2M147.98 631.9v2M149.34 631.9v2M150.53 631.9v2M151.57 631.9v2M152.5 631.9v3.2M71 631.9h-3.2M71 626.01h-2M71 622.57h-2M71 620.13h-2M71 618.24h-2M71 616.69h-2M71 615.38h-2M71 614.24h-2M71 613.24h-2M71 612.35h-3.2M71 606.46h-2M71 603.02h-2M71 600.58h-2M71 598.69h-2M71 597.14h-2M71 595.83h-2M71 594.69h-2M71 593.69h-2M71 592.8h-3.2M71 586.91h-2M71 583.47h-2M71 581.03h-2M71 579.14h-2M71 577.59h-2M71 576.28h-2M71 575.14h-2M71 574.14h-2M71 573.25h-3.2M71 567.36h-2M71 563.92h-2M71 561.48h-2M71 559.59h-2M71 558.04h-2M71 556.73h-2M71 555.59h-2M71 554.59h-2M71 553.7h-3.2" stroke="#000" stroke-width="0.8" fill="none"/><g fill="#000" stroke="#000" stroke-width="0.32"><text x="71.4" y="642.1" font-size="6.6" text-anchor="middle">10<tspan dy="-3.0" font-size="5.4">0</tspan></text><text x="91.78" y="642.1" font-size="6.6" text-anchor="middle">10<tspan dy="-3.0" font-size="5.4">1</tspan></text><text x="112.15" y="642.1" font-size="6.6" text-anchor="middle">10<tspan dy="-3.0" font-size="5.4">2</tspan></text><text x="132.53" y="642.1" font-size="6.6" text-anchor="middle">10<tspan dy="-3.0" font-size="5.4">3</tspan></text><text x="152.9" y="642.1" font-size="6.6" text-anchor="middle">10<tspan dy="-3.0" font-size="5.4">4</tspan></text><text transform="translate(66 632.5) rotate(-90)" font-size="6.6" text-anchor="middle">10<tspan dy="-3.0" font-size="5.4">0</tspan></text><text transform="translate(66 612.95) rotate(-90)" font-size="6.6" text-anchor="middle">10<tspan dy="-3.0" font-size="5.4">1</tspan></text><text transform="translate(66 593.4) rotate(-90)" font-size="6.6" text-anchor="middle">10<tspan dy="-3.0" font-size="5.4">2</tspan></text><text transform="translate(66 573.85) rotate(-90)" font-size="6.6" text-anchor="middle">10<tspan dy="-3.0" font-size="5.4">3</tspan></text><text transform="translate(66 554.3) rotate(-90)" font-size="6.6" text-anchor="middle">10<tspan dy="-3.0" font-size="5.4">4</tspan></text></g>
<polygon points="214.41,575.59 213.97,575.04 213.1,575.02 212.37,574.81 211.53,574.73 210.33,575.31 209.36,575.43 208.55,574.96 207.38,575.26 206.06,576.06 204.78,576.25 203.44,577.55 202.12,578.44 200.75,579.28 199.81,580.84 198.55,581.82 197.9,583.25 196.81,584.32 196.36,585.58 195.34,586.71 194.48,587.91 193.71,589.17 192.81,590.53 192.9,591.62 192.08,593.12 191.9,594.4 192.31,595.34 192.87,596.14 192.95,597.34 193.8,597.87 194.56,598.43 194.99,599.42 195.83,599.92 196.75,600.33 197.94,600.22 199.24,599.75 200.41,599.43 201.5,599.29 202.77,598.18 203.87,597.79 204.97,596.6 206.09,596.16 207.05,594.88 208.28,594.35 209.27,593.19 210.69,592.38 211.61,590.99 212.65,589.64 213.71,588.22 214.09,586.73 214.99,585.25 214.89,584 214.89,582.85 215.15,581.67 215.26,580.59 215.45,579.48 215.07,578.8 215.6,577.41 215.33,576.66 214.99,576" fill="#000"/><path d="M193.64 597.07h1.5v1.5h-1.5zM193.35 588.66h1.0v1.0h-1.0zM202.27 599.22h1.0v1.0h-1.0zM207.77 575.83h1.0v1.0h-1.0zM213.23 575.67h1.0v1.0h-1.0zM213.85 585.5h1.0v1.0h-1.0zM212.31 588.37h1.0v1.0h-1.0zM198.47 581.29h1.0v1.0h-1.0zM200.18 600.35h1.0v1.0h-1.0zM202.93 578.08h1.0v1.0h-1.0zM203.22 578.28h1.5v1.5h-1.5zM203.93 577.11h1.0v1.0h-1.0zM211.59 574.75h1.5v1.5h-1.5zM211.41 590.49h1.5v1.5h-1.5zM212.75 575.47h1.0v1.0h-1.0zM203.22 577.35h1.0v1.0h-1.0zM200.16 580.38h1.0v1.0h-1.0zM208.92 594.07h1.0v1.0h-1.0zM194.95 599h1.5v1.5h-1.5zM210.93 592.4h1.0v1.0h-1.0zM204.22 577.61h1.0v1.0h-1.0zM192.79 592.22h1.5v1.5h-1.5zM198.02 599.54h1.5v1.5h-1.5zM203.77 598.49h1.0v1.0h-1.0zM201.52 598.97h1.0v1.0h-1.0zM193.09 591.89h1.5v1.5h-1.5zM214.81 574.94h1.0v1.0h-1.0zM206.71 595.46h1.5v1.5h-1.5zM203.99 577.09h1.0v1.0h-1.0zM212.31 575.42h1.0v1.0h-1.0zM215.81 578.25h1.0v1.0h-1.0zM211.16 575.26h1.5v1.5h-1.5zM194.27 586.97h1.5v1.5h-1.5zM196.24 600.47h1.5v1.5h-1.5zM204.43 577.19h1.0v1.0h-1.0zM213.95 575.12h1.0v1.0h-1.0zM215.13 580.9h1.5v1.5h-1.5zM203.08 597.98h1.0v1.0h-1.0zM212.61 587.49h1.5v1.5h-1.5zM194.67 599.56h1.5v1.5h-1.5zM199.24 599.82h1.0v1.0h-1.0zM211.2 590.16h1.5v1.5h-1.5zM203.5 577.72h1.0v1.0h-1.0zM213.79 586.09h1.0v1.0h-1.0zM201.88 599.42h1.0v1.0h-1.0zM194.85 587.21h1.0v1.0h-1.0zM193.24 589.1h1.0v1.0h-1.0zM212.48 589h1.0v1.0h-1.0zM216.02 578.9h1.5v1.5h-1.5zM203.4 577.77h1.5v1.5h-1.5zM215.01 577.7h1.0v1.0h-1.0zM213.1 587.42h1.0v1.0h-1.0zM213.47 574.28h1.0v1.0h-1.0zM193.95 597.32h1.0v1.0h-1.0zM203.45 578.28h1.0v1.0h-1.0zM192.13 594.72h1.5v1.5h-1.5zM208.17 595.61h1.0v1.0h-1.0zM201.64 579.2h1.0v1.0h-1.0zM195.55 599.74h1.5v1.5h-1.5zM193.67 597.52h1.0v1.0h-1.0zM192.5 596.5h1.5v1.5h-1.5zM212.83 587.56h1.0v1.0h-1.0zM204.67 597.47h1.0v1.0h-1.0zM196.99 584.02h1.5v1.5h-1.5zM212.51 574.69h1.5v1.5h-1.5zM212.61 574.73h1.5v1.5h-1.5zM194.24 588.97h1.0v1.0h-1.0zM215.16 580.79h1.0v1.0h-1.0zM211.77 589.71h1.5v1.5h-1.5zM192.29 592.57h1.5v1.5h-1.5zM212.52 574.81h1.0v1.0h-1.0zM207.83 576.18h1.5v1.5h-1.5zM215.14 581.24h1.5v1.5h-1.5zM198 582.54h1.0v1.0h-1.0zM207.31 595.29h1.5v1.5h-1.5zM191.86 590.58h1.5v1.5h-1.5zM193.01 593.52h1.0v1.0h-1.0zM208.72 594.55h1.5v1.5h-1.5zM197.87 600.18h1.5v1.5h-1.5zM211.91 588.9h1.5v1.5h-1.5zM215.46 583.09h1.0v1.0h-1.0zM201.28 579.38h1.0v1.0h-1.0zM194.42 597.16h1.0v1.0h-1.0zM193.27 594.06h1.0v1.0h-1.0zM192.99 592.62h1.5v1.5h-1.5zM197.26 583.57h1.0v1.0h-1.0zM215.3 580.97h1.0v1.0h-1.0zM216.78 579.76h1.5v1.5h-1.5zM202.06 599.06h1.0v1.0h-1.0zM205.54 576.55h1.0v1.0h-1.0zM197.66 599.5h1.0v1.0h-1.0zM192.87 591.88h1.0v1.0h-1.0zM196.09 599.7h1.5v1.5h-1.5zM215.45 577.08h1.0v1.0h-1.0zM193.39 597.07h1.0v1.0h-1.0zM203.94 598.54h1.0v1.0h-1.0zM211.35 589.85h1.0v1.0h-1.0zM202.5 598.59h1.0v1.0h-1.0zM206.25 596.11h1.5v1.5h-1.5zM207.49 595.13h1.5v1.5h-1.5zM212.44 573.85h1.0v1.0h-1.0zM213.64 585.52h1.0v1.0h-1.0zM197.47 582.98h1.0v1.0h-1.0zM191.78 596.2h1.0v1.0h-1.0zM193.15 596.63h1.0v1.0h-1.0zM208.5 575.4h1.0v1.0h-1.0zM204.49 577.63h1.5v1.5h-1.5zM213.94 576.43h1.0v1.0h-1.0zM211.95 590.38h1.5v1.5h-1.5zM202.35 578.24h1.0v1.0h-1.0zM209.54 592.81h1.0v1.0h-1.0zM194.66 586.88h1.0v1.0h-1.0zM202.54 598.66h1.0v1.0h-1.0zM203.62 577.56h1.0v1.0h-1.0zM210.11 592.69h1.0v1.0h-1.0zM198.91 600.14h1.0v1.0h-1.0zM195.42 586.05h1.0v1.0h-1.0zM208.55 575.91h1.0v1.0h-1.0zM195.59 599.57h1.0v1.0h-1.0zM215.66 577.68h1.0v1.0h-1.0zM193.89 596.23h1.5v1.5h-1.5zM204.43 577.2h1.0v1.0h-1.0zM192.31 593.32h1.0v1.0h-1.0zM211.83 589.09h1.5v1.5h-1.5zM203.44 598.33h1.5v1.5h-1.5zM192.7 597.01h1.0v1.0h-1.0zM192.97 594.66h1.0v1.0h-1.0zM206.72 576.5h1.5v1.5h-1.5zM211.72 589.28h1.5v1.5h-1.5zM205.31 576.46h1.5v1.5h-1.5zM213.01 573.62h1.0v1.0h-1.0zM195.16 597.95h1.0v1.0h-1.0zM193.18 594.79h1.5v1.5h-1.5zM200.02 580.83h1.5v1.5h-1.5zM196.73 600.13h1.5v1.5h-1.5zM213.83 574.65h1.5v1.5h-1.5zM198.64 582.53h1.5v1.5h-1.5zM196.09 598.65h1.5v1.5h-1.5zM214.37 584.66h1.0v1.0h-1.0zM208.44 575.16h1.5v1.5h-1.5zM194.3 588.61h1.0v1.0h-1.0zM207.09 576.4h1.0v1.0h-1.0zM213.15 574.9h1.0v1.0h-1.0zM197.38 600.25h1.5v1.5h-1.5zM210.98 575.39h1.5v1.5h-1.5zM214.08 575.58h1.5v1.5h-1.5zM204.56 577.92h1.0v1.0h-1.0zM214.78 578.2h1.5v1.5h-1.5zM212.74 588.44h1.0v1.0h-1.0zM201.54 579.62h1.5v1.5h-1.5zM213.9 586.54h1.5v1.5h-1.5zM193.02 596.63h1.0v1.0h-1.0zM216.28 577.83h1.0v1.0h-1.0zM193.33 593.73h1.5v1.5h-1.5zM215.74 577.92h1.0v1.0h-1.0zM203.73 597.58h1.5v1.5h-1.5zM214.98 577.3h1.5v1.5h-1.5zM192.2 594.63h1.0v1.0h-1.0zM197.39 583.9h1.0v1.0h-1.0zM202.43 578.25h1.5v1.5h-1.5zM194.33 597.48h1.0v1.0h-1.0zM192.28 592.1h1.5v1.5h-1.5zM211.78 575.58h1.5v1.5h-1.5zM196.48 599.41h1.5v1.5h-1.5zM209.35 592.74h1.0v1.0h-1.0zM196.34 599.23h1.5v1.5h-1.5zM214.11 575.78h1.0v1.0h-1.0zM202.74 577.96h1.0v1.0h-1.0zM210.67 591.99h1.5v1.5h-1.5zM204.7 577.38h1.0v1.0h-1.0zM199.13 601.02h1.5v1.5h-1.5zM214.48 576.86h1.0v1.0h-1.0zM202.63 598.58h1.0v1.0h-1.0zM193.52 594.71h1.0v1.0h-1.0zM192.65 590.77h1.5v1.5h-1.5zM214.89 584.19h1.0v1.0h-1.0zM193.62 595.08h1.0v1.0h-1.0zM212.03 589.68h1.0v1.0h-1.0zM200.1 581.05h1.0v1.0h-1.0zM207.8 594.43h1.0v1.0h-1.0zM194.72 598.4h1.0v1.0h-1.0zM192.9 593.36h1.5v1.5h-1.5zM196.86 600.19h1.5v1.5h-1.5zM197.23 582.88h1.0v1.0h-1.0zM194.73 586.63h1.5v1.5h-1.5zM202.06 603.08h1v1h-1zM193.9 600.93h1v1h-1zM207.01 598.13h1v1h-1zM205.63 600h1v1h-1zM203.69 599.02h1v1h-1zM200.28 602.06h1v1h-1zM205.62 599.68h1v1h-1zM198.58 599.77h1v1h-1zM202.15 601.75h1.0v1.0h-1.0zM196.02 599.43h1.0v1.0h-1.0zM211.24 602.39h1.0v1.0h-1.0zM207.13 603.29h1.0v1.0h-1.0zM207.4 601.27h1.0v1.0h-1.0zM205.77 614.88h1.0v1.0h-1.0zM223.5 576.53h1.4v1.4h-1.4z" fill="#000"/><path d="M216.4 574.16h1.5v1.5h-1.5zM192.46 593.74h1.0v1.0h-1.0zM216.35 577.47h1.5v1.5h-1.5zM205.42 598.85h1.0v1.0h-1.0zM215.81 581.82h1.0v1.0h-1.0zM195.47 585.19h1.5v1.5h-1.5zM215.92 580.97h1.0v1.0h-1.0zM210.13 593.53h1.5v1.5h-1.5zM192.07 591.12h1.0v1.0h-1.0zM212.01 573.27h1.0v1.0h-1.0zM192.39 593.1h1.0v1.0h-1.0zM206.4 575.09h1.0v1.0h-1.0zM214.44 586.2h1.5v1.5h-1.5zM215.53 574.33h1.0v1.0h-1.0zM192.3 595.93h1.0v1.0h-1.0zM214.57 573.36h1.5v1.5h-1.5zM213.71 587.77h1.0v1.0h-1.0zM198.89 601.11h1.0v1.0h-1.0zM216.18 580.95h1.0v1.0h-1.0zM196.36 600.18h1.5v1.5h-1.5zM198.15 601.69h1.0v1.0h-1.0zM197.47 582.39h1.0v1.0h-1.0zM213.59 588.43h1.5v1.5h-1.5zM205.2 597.86h1.0v1.0h-1.0zM191.32 597.55h1.5v1.5h-1.5zM198.56 580.53h1.5v1.5h-1.5zM214.95 586.67h1.5v1.5h-1.5zM215.73 583.42h1.5v1.5h-1.5zM210.1 593.32h1.5v1.5h-1.5zM192.34 596.14h1.0v1.0h-1.0zM194.6 585.9h1.0v1.0h-1.0zM214.62 585.41h1.5v1.5h-1.5zM191.91 593.01h1.0v1.0h-1.0zM216.16 577.09h1.5v1.5h-1.5zM192.47 590.02h1.0v1.0h-1.0zM196.94 581.94h1.5v1.5h-1.5zM202.69 599.44h1.0v1.0h-1.0zM215.23 573.37h1.5v1.5h-1.5zM214.23 573.62h1.0v1.0h-1.0zM215.87 584.02h1.5v1.5h-1.5zM191.87 592.88h1.0v1.0h-1.0zM198.95 600.96h1.0v1.0h-1.0zM196.57 582.96h1.0v1.0h-1.0zM197.11 600.79h1.5v1.5h-1.5zM208.85 573.87h1.0v1.0h-1.0zM216.63 578.85h1.5v1.5h-1.5zM198.26 581.65h1.0v1.0h-1.0zM192.36 596.92h1.5v1.5h-1.5zM194.91 600.45h1.5v1.5h-1.5zM209.01 595.35h1.5v1.5h-1.5zM215.94 581.46h1.0v1.0h-1.0zM194.32 599.77h1.0v1.0h-1.0zM210.28 593.09h1.5v1.5h-1.5zM196.52 583.42h1.0v1.0h-1.0zM215.58 580.13h1.5v1.5h-1.5zM191.88 595.55h1.5v1.5h-1.5zM199.4 601.08h1.0v1.0h-1.0zM191.98 592.06h1.5v1.5h-1.5zM215.13 585.35h1.0v1.0h-1.0zM208.56 574.51h1.0v1.0h-1.0zM198.83 580.22h1.0v1.0h-1.0zM191.99 590.31h1.0v1.0h-1.0zM210.55 574.14h1.0v1.0h-1.0zM190.82 596.51h1.0v1.0h-1.0zM194.66 599.99h1.0v1.0h-1.0zM210.94 593.06h1.0v1.0h-1.0zM191.95 596.11h1.0v1.0h-1.0zM199.22 580.55h1.0v1.0h-1.0zM207.09 597.26h1.0v1.0h-1.0zM193.44 597.57h1.5v1.5h-1.5zM193.13 588.24h1.0v1.0h-1.0zM216.76 577.63h1.5v1.5h-1.5zM190.63 593.61h1.5v1.5h-1.5zM192.01 594.08h1.5v1.5h-1.5zM216.61 578.46h1.5v1.5h-1.5zM190.78 595.12h1.5v1.5h-1.5zM201.27 578.79h1.0v1.0h-1.0zM214.62 573.53h1.0v1.0h-1.0zM199.2 599.91h1.5v1.5h-1.5zM215 583.7h1.0v1.0h-1.0zM215.52 581.55h1.5v1.5h-1.5zM207.67 574.02h1.5v1.5h-1.5zM201.99 577.86h1.0v1.0h-1.0zM215.4 575.51h1.0v1.0h-1.0zM211.82 590.08h1.0v1.0h-1.0zM193.47 589.25h1.5v1.5h-1.5zM192.34 594.16h1.0v1.0h-1.0zM208.17 595.18h1.0v1.0h-1.0zM191.69 594.01h1.0v1.0h-1.0zM203.67 599.64h1.0v1.0h-1.0zM209.39 600.57h1v1h-1zM202.7 597.72h1v1h-1zM208.38 604.45h1.4v1.4h-1.4zM197.84 613.65h1.0v1.0h-1.0zM203.72 624.59h1.0v1.0h-1.0zM198.85 621.88h1.0v1.0h-1.0z" fill="#222"/><path d="M200.2 578.05h1.5v1.5h-1.5zM204.07 575.62h1.0v1.0h-1.0zM216.07 573.38h1.5v1.5h-1.5zM214.51 572.36h1.0v1.0h-1.0zM198.75 579.97h1.0v1.0h-1.0zM194.78 601.18h1.0v1.0h-1.0zM206.66 598.38h1.0v1.0h-1.0zM216.56 582.07h1.0v1.0h-1.0zM207.64 596.29h1.0v1.0h-1.0zM193.06 586.63h1.5v1.5h-1.5zM209.85 573.37h1.0v1.0h-1.0zM193.6 586.1h1.0v1.0h-1.0zM213.45 589.15h1.0v1.0h-1.0zM194.74 602.07h1.0v1.0h-1.0zM200.61 578.35h1.5v1.5h-1.5zM216.14 574.51h1.0v1.0h-1.0zM201.35 602.45h1.0v1.0h-1.0zM205.8 599.17h1.0v1.0h-1.0zM191.45 588.86h1.5v1.5h-1.5zM210.82 572.69h1.0v1.0h-1.0zM214.53 572.94h1.5v1.5h-1.5zM190.41 594.74h1.0v1.0h-1.0zM202.7 600.88h1.5v1.5h-1.5zM206.07 598.64h1.0v1.0h-1.0zM201.39 601.91h1.0v1.0h-1.0zM194.02 600.9h1.5v1.5h-1.5zM215.29 586.86h1.5v1.5h-1.5zM191.42 591.12h1.5v1.5h-1.5zM190.73 592.02h1.5v1.5h-1.5zM192.79 599.12h1.0v1.0h-1.0zM193.56 585.29h1.0v1.0h-1.0zM196.53 583.05h1.5v1.5h-1.5zM191.2 599.73h1.5v1.5h-1.5zM212.51 591.7h1.5v1.5h-1.5zM215.15 587.78h1.0v1.0h-1.0zM215.17 586.91h1.0v1.0h-1.0zM202.42 577.43h1.5v1.5h-1.5zM203.55 600.94h1.0v1.0h-1.0zM212.26 592.15h1.5v1.5h-1.5zM215.4 584.85h1.0v1.0h-1.0zM205.3 605.23h1v1h-1zM200.93 594.56h1v1h-1zM204.72 594.69h1v1h-1zM208.45 600.72h1v1h-1zM203.53 605.37h1v1h-1zM209.76 596.64h1v1h-1zM203.48 598.79h1v1h-1zM204.49 595.8h1v1h-1zM207.15 604.23h1.0v1.0h-1.0zM209.61 599.1h1.0v1.0h-1.0zM200.45 603.33h1.4v1.4h-1.4zM201.6 605.32h1.0v1.0h-1.0zM199.09 616.67h1.0v1.0h-1.0zM204.55 617.83h1.4v1.4h-1.4zM196.34 628.22h1.4v1.4h-1.4zM197.62 627.3h1.0v1.0h-1.0zM205.39 613.16h1.4v1.4h-1.4zM231.45 579.11h1.0v1.0h-1.0zM230.88 582.46h1.4v1.4h-1.4zM223.67 594.47h1.0v1.0h-1.0zM219.7 586.85h1.0v1.0h-1.0z" fill="#444"/><path d="M216.41 572.72h1.5v1.5h-1.5zM210.79 571.01h1.5v1.5h-1.5zM201.75 601.06h1.5v1.5h-1.5zM197.7 603.86h1.0v1.0h-1.0zM216.27 585.88h1.5v1.5h-1.5zM190.88 599.36h1.0v1.0h-1.0zM208.21 572.71h1.5v1.5h-1.5zM206.68 574.26h1.5v1.5h-1.5zM204.51 599.68h1.0v1.0h-1.0zM191.59 601.66h1.0v1.0h-1.0zM195.03 603.59h1.5v1.5h-1.5zM213.18 592.76h1.0v1.0h-1.0zM190.55 596.88h1.5v1.5h-1.5z" fill="#777"/><path d="M217.4 553.7V632.3M189.4 607.5H272.3" stroke="#333" stroke-width="1.4" fill="none"/><path d="M189.4 553.7H272.3V632.3" stroke="#4a4a4a" stroke-width="1.5" fill="none"/><path d="M189.4 553.7V632.3H272.3" stroke="#000" stroke-width="1.4" fill="none" stroke-linecap="square"/><path d="M189.4 632.3v3.2M195.64 632.3v2M199.29 632.3v2M201.88 632.3v2M203.89 632.3v2M205.53 632.3v2M206.91 632.3v2M208.12 632.3v2M209.18 632.3v2M210.12 632.3v3.2M216.36 632.3v2M220.01 632.3v2M222.6 632.3v2M224.61 632.3v2M226.25 632.3v2M227.64 632.3v2M228.84 632.3v2M229.9 632.3v2M230.85 632.3v3.2M237.09 632.3v2M240.74 632.3v2M243.33 632.3v2M245.34 632.3v2M246.98 632.3v2M248.36 632.3v2M249.57 632.3v2M250.63 632.3v2M251.58 632.3v3.2M257.81 632.3v2M261.46 632.3v2M264.05 632.3v2M266.06 632.3v2M267.7 632.3v2M269.09 632.3v2M270.29 632.3v2M271.35 632.3v2M272.3 632.3v3.2M189.4 632.3h-3.2M189.4 626.38h-2M189.4 622.92h-2M189.4 620.47h-2M189.4 618.57h-2M189.4 617.01h-2M189.4 615.69h-2M189.4 614.55h-2M189.4 613.55h-2M189.4 612.65h-3.2M189.4 606.73h-2M189.4 603.27h-2M189.4 600.82h-2M189.4 598.92h-2M189.4 597.36h-2M189.4 596.04h-2M189.4 594.9h-2M189.4 593.9h-2M189.4 593h-3.2M189.4 587.08h-2M189.4 583.62h-2M189.4 581.17h-2M189.4 579.27h-2M189.4 577.71h-2M189.4 576.39h-2M189.4 575.25h-2M189.4 574.25h-2M189.4 573.35h-3.2M189.4 567.43h-2M189.4 563.97h-2M189.4 561.52h-2M189.4 559.62h-2M189.4 558.06h-2M189.4 556.74h-2M189.4 555.6h-2M189.4 554.6h-2M189.4 553.7h-3.2" stroke="#000" stroke-width="0.8" fill="none"/><g fill="#000" stroke="#000" stroke-width="0.32"><text x="189.8" y="642.5" font-size="6.6" text-anchor="middle">10<tspan dy="-3.0" font-size="5.4">0</tspan></text><text x="210.53" y="642.5" font-size="6.6" text-anchor="middle">10<tspan dy="-3.0" font-size="5.4">1</tspan></text><text x="231.25" y="642.5" font-size="6.6" text-anchor="middle">10<tspan dy="-3.0" font-size="5.4">2</tspan></text><text x="251.98" y="642.5" font-size="6.6" text-anchor="middle">10<tspan dy="-3.0" font-size="5.4">3</tspan></text><text x="272.7" y="642.5" font-size="6.6" text-anchor="middle">10<tspan dy="-3.0" font-size="5.4">4</tspan></text><text transform="translate(184.4 632.9) rotate(-90)" font-size="6.6" text-anchor="middle">10<tspan dy="-3.0" font-size="5.4">0</tspan></text><text transform="translate(184.4 613.25) rotate(-90)" font-size="6.6" text-anchor="middle">10<tspan dy="-3.0" font-size="5.4">1</tspan></text><text transform="translate(184.4 593.6) rotate(-90)" font-size="6.6" text-anchor="middle">10<tspan dy="-3.0" font-size="5.4">2</tspan></text><text transform="translate(184.4 573.95) rotate(-90)" font-size="6.6" text-anchor="middle">10<tspan dy="-3.0" font-size="5.4">3</tspan></text><text transform="translate(184.4 554.3) rotate(-90)" font-size="6.6" text-anchor="middle">10<tspan dy="-3.0" font-size="5.4">4</tspan></text></g>
<polygon points="336.44,573.28 335.55,573.21 334.73,573.08 334.06,572.68 332.66,573.62 331.86,573.41 330.49,574.57 329.47,574.89 328.37,575.42 327.27,575.82 326.11,576.6 324.92,577.26 323.7,578.02 322.68,579.27 321.54,580.22 320.42,581.25 319.48,582.43 318.66,583.63 317.4,584.77 316.88,586.05 315.99,587.35 315.51,588.64 314.57,590.11 314.57,591.31 314.43,592.58 314.22,593.94 315.11,594.57 315.74,595.31 316.3,596.06 316.92,596.76 317.93,596.97 318.85,597.2 319.74,597.42 320.29,598.27 321.38,598.1 322.2,598.57 323.17,598.79 324.3,598.49 325.41,598.44 326.6,597.7 327.72,596.42 328.9,595.87 329.8,594.28 330.74,593.12 331.74,592.03 332.87,590.98 333.62,589.57 334.22,588.15 335.03,586.8 335.48,585.41 336.16,584.02 336.43,582.71 336.43,581.57 336.36,580.54 336.64,579.35 336.7,578.3 336.65,577.34 336.47,576.51 336.92,575.02 336.59,574.28" fill="#000"/><path d="M335.18 574.24h1.0v1.0h-1.0zM316.83 596.12h1.0v1.0h-1.0zM314.76 595.5h1.0v1.0h-1.0zM333.9 589.08h1.0v1.0h-1.0zM334.07 574.25h1.5v1.5h-1.5zM319.86 582.53h1.0v1.0h-1.0zM333.23 589.01h1.0v1.0h-1.0zM336.86 582.27h1.5v1.5h-1.5zM336.19 582.93h1.0v1.0h-1.0zM317.79 585.3h1.5v1.5h-1.5zM334.01 589.8h1.0v1.0h-1.0zM331.78 574.57h1.0v1.0h-1.0zM333.53 574.08h1.5v1.5h-1.5zM332.83 573.31h1.0v1.0h-1.0zM335.16 586.54h1.0v1.0h-1.0zM334.83 573.36h1.0v1.0h-1.0zM335.09 574.14h1.5v1.5h-1.5zM315.38 591.78h1.0v1.0h-1.0zM332.01 574.44h1.0v1.0h-1.0zM336.26 583.92h1.5v1.5h-1.5zM318.92 582.94h1.5v1.5h-1.5zM315.86 590.91h1.0v1.0h-1.0zM323.42 597.74h1.5v1.5h-1.5zM321.77 579.79h1.0v1.0h-1.0zM337.72 579.86h1.0v1.0h-1.0zM320.26 598.12h1.0v1.0h-1.0zM320.25 580.67h1.0v1.0h-1.0zM334.32 589.2h1.0v1.0h-1.0zM323.08 578.8h1.5v1.5h-1.5zM328.61 595.28h1.5v1.5h-1.5zM335.46 584.5h1.0v1.0h-1.0zM336.11 574.95h1.5v1.5h-1.5zM337.08 580.52h1.0v1.0h-1.0zM337.15 582.56h1.0v1.0h-1.0zM333.71 574.64h1.5v1.5h-1.5zM331.94 591.33h1.0v1.0h-1.0zM322.58 578.82h1.0v1.0h-1.0zM329.53 574.68h1.0v1.0h-1.0zM329.49 574.36h1.0v1.0h-1.0zM321.17 580.24h1.0v1.0h-1.0zM326.68 576.1h1.0v1.0h-1.0zM316.61 587.54h1.5v1.5h-1.5zM330.23 593.82h1.5v1.5h-1.5zM316.91 586.59h1.5v1.5h-1.5zM334 573.47h1.0v1.0h-1.0zM333.85 573.7h1.0v1.0h-1.0zM335.4 586h1.5v1.5h-1.5zM315.57 587.99h1.5v1.5h-1.5zM318.37 597.78h1.5v1.5h-1.5zM336.22 580.87h1.0v1.0h-1.0zM316.79 597.16h1.5v1.5h-1.5zM324.82 576.55h1.5v1.5h-1.5zM329.07 594.7h1.0v1.0h-1.0zM315.69 589.57h1.5v1.5h-1.5zM327.27 595.84h1.0v1.0h-1.0zM315.92 588.35h1.5v1.5h-1.5zM319.96 598.38h1.0v1.0h-1.0zM321.4 580.73h1.0v1.0h-1.0zM318.49 597.17h1.0v1.0h-1.0zM336.37 576.25h1.0v1.0h-1.0zM325.49 575.9h1.0v1.0h-1.0zM336.82 575.93h1.0v1.0h-1.0zM337.5 577.38h1.0v1.0h-1.0zM337.45 578.71h1.5v1.5h-1.5zM319.31 581.38h1.0v1.0h-1.0zM319.8 582.27h1.5v1.5h-1.5zM320.47 598.33h1.0v1.0h-1.0zM315.85 587.79h1.0v1.0h-1.0zM315.87 592.59h1.5v1.5h-1.5zM328.91 575.42h1.5v1.5h-1.5zM331.47 572.87h1.0v1.0h-1.0zM329.21 574.76h1.5v1.5h-1.5zM335.27 585.03h1.0v1.0h-1.0zM316.51 586.05h1.0v1.0h-1.0zM332.17 591.24h1.0v1.0h-1.0zM324.95 576.94h1.5v1.5h-1.5zM328.73 575.45h1.5v1.5h-1.5zM319.71 598.93h1.5v1.5h-1.5zM315.58 591.11h1.5v1.5h-1.5zM337.42 579.92h1.5v1.5h-1.5zM316.4 588.43h1.5v1.5h-1.5zM321.79 599.38h1.0v1.0h-1.0zM316.87 585.83h1.5v1.5h-1.5zM315.65 593.15h1.0v1.0h-1.0zM336.54 584.11h1.0v1.0h-1.0zM325.07 577.2h1.0v1.0h-1.0zM316.26 595.69h1.0v1.0h-1.0zM315.41 592.7h1.0v1.0h-1.0zM321.02 580.66h1.5v1.5h-1.5zM336.64 577.71h1.0v1.0h-1.0zM337.17 580.15h1.0v1.0h-1.0zM319.4 598.25h1.0v1.0h-1.0zM330.5 594.39h1.0v1.0h-1.0zM326.98 576.02h1.5v1.5h-1.5zM318.55 597.74h1.0v1.0h-1.0zM326.33 596.51h1.0v1.0h-1.0zM319.93 582.3h1.0v1.0h-1.0zM316.05 587.88h1.0v1.0h-1.0zM318.71 581.98h1.5v1.5h-1.5zM315.79 592.35h1.0v1.0h-1.0zM322.46 599.11h1.0v1.0h-1.0zM325.6 597.97h1.0v1.0h-1.0zM315.45 593.7h1.0v1.0h-1.0zM336.39 577.84h1.5v1.5h-1.5zM335.76 575.11h1.0v1.0h-1.0zM320.84 581.3h1.5v1.5h-1.5zM316.47 595.28h1.0v1.0h-1.0zM315.25 592.07h1.0v1.0h-1.0zM315.19 593.12h1.0v1.0h-1.0zM337.36 578.42h1.0v1.0h-1.0zM334.84 588.89h1.0v1.0h-1.0zM332.86 589.66h1.0v1.0h-1.0zM322.72 579.16h1.0v1.0h-1.0zM314.82 590.18h1.0v1.0h-1.0zM315.38 591.96h1.5v1.5h-1.5zM333.65 589.87h1.5v1.5h-1.5zM331.27 573.6h1.0v1.0h-1.0zM320.7 599.09h1.0v1.0h-1.0zM321.83 579.24h1.5v1.5h-1.5zM329.18 594.48h1.5v1.5h-1.5zM319.91 581.23h1.5v1.5h-1.5zM316.2 588.3h1.5v1.5h-1.5zM328.68 575.29h1.5v1.5h-1.5zM327.64 575.41h1.5v1.5h-1.5zM336.43 576.04h1.0v1.0h-1.0zM325.79 576.36h1.0v1.0h-1.0zM319.48 581.77h1.0v1.0h-1.0zM336.72 577.25h1.5v1.5h-1.5zM325.05 577h1.5v1.5h-1.5zM328.18 574.5h1.5v1.5h-1.5zM317.12 596.38h1.0v1.0h-1.0zM321.99 598.46h1.0v1.0h-1.0zM332.93 574.17h1.0v1.0h-1.0zM324 597.71h1.5v1.5h-1.5zM315.26 591.57h1.5v1.5h-1.5zM323.2 578.92h1.5v1.5h-1.5zM336.3 575.58h1.5v1.5h-1.5zM329.93 594.41h1.0v1.0h-1.0zM318.85 583.34h1.5v1.5h-1.5zM333.87 588.14h1.0v1.0h-1.0zM337.04 575h1.0v1.0h-1.0zM319.98 581.5h1.0v1.0h-1.0zM330.23 574.67h1.0v1.0h-1.0zM329.76 593.62h1.0v1.0h-1.0zM316.36 597.28h1.0v1.0h-1.0zM321.13 580.49h1.0v1.0h-1.0zM332.02 574.37h1.5v1.5h-1.5zM331.06 574.78h1.0v1.0h-1.0zM316.01 597.22h1.0v1.0h-1.0zM317.09 586.82h1.5v1.5h-1.5zM324.42 577.13h1.0v1.0h-1.0zM335.82 575.89h1.0v1.0h-1.0zM321.65 579.39h1.0v1.0h-1.0zM316.57 586.15h1.0v1.0h-1.0zM332.86 590.79h1.5v1.5h-1.5zM317.45 597.43h1.5v1.5h-1.5zM336.41 576.76h1.0v1.0h-1.0zM328.64 595.39h1.5v1.5h-1.5zM329.9 593.95h1.5v1.5h-1.5zM319.43 599.27h1.0v1.0h-1.0zM314.88 594.53h1.5v1.5h-1.5zM322.65 599.4h1.0v1.0h-1.0zM323.8 598.04h1.5v1.5h-1.5zM319.66 598.55h1.5v1.5h-1.5zM315.46 595.62h1.5v1.5h-1.5zM334.48 586.45h1.0v1.0h-1.0zM315.1 593.16h1.0v1.0h-1.0zM334.74 574.87h1.0v1.0h-1.0zM337.33 577.26h1.0v1.0h-1.0zM325.7 597.8h1.0v1.0h-1.0zM333.83 588.6h1.5v1.5h-1.5zM335.97 582.3h1.0v1.0h-1.0zM334.28 587.58h1.5v1.5h-1.5zM333.32 590.1h1.0v1.0h-1.0zM324.93 598.18h1.0v1.0h-1.0zM335.62 584.47h1.5v1.5h-1.5zM314.67 592.55h1.5v1.5h-1.5zM334.14 587.57h1.5v1.5h-1.5zM315.37 606.05h1v1h-1zM317.04 601.14h1v1h-1zM316.62 593.7h1v1h-1zM333.47 607.7h1v1h-1zM328.87 601.15h1v1h-1zM322.97 601.65h1v1h-1zM336.79 605.4h1.4v1.4h-1.4zM330.04 600.46h1.4v1.4h-1.4zM339.45 601.41h1.4v1.4h-1.4z" fill="#000"/><path d="M314.91 595.16h1.0v1.0h-1.0zM336.57 572.71h1.0v1.0h-1.0zM337.25 581.32h1.5v1.5h-1.5zM321.8 599.85h1.5v1.5h-1.5zM334.61 587.65h1.0v1.0h-1.0zM318.81 599.31h1.5v1.5h-1.5zM337.59 582.05h1.0v1.0h-1.0zM330.29 594.59h1.5v1.5h-1.5zM332.63 572.59h1.0v1.0h-1.0zM318.71 599.17h1.0v1.0h-1.0zM315.17 588.56h1.0v1.0h-1.0zM327.42 597.2h1.5v1.5h-1.5zM317.07 584.55h1.0v1.0h-1.0zM324.84 576.86h1.0v1.0h-1.0zM337.24 574.81h1.0v1.0h-1.0zM313.58 592.31h1.0v1.0h-1.0zM326.86 597.16h1.5v1.5h-1.5zM314.05 593.86h1.0v1.0h-1.0zM320.63 580.5h1.5v1.5h-1.5zM328.42 574.53h1.0v1.0h-1.0zM336.77 574.91h1.0v1.0h-1.0zM320.12 599.18h1.5v1.5h-1.5zM325.39 576.33h1.5v1.5h-1.5zM337.71 579.95h1.0v1.0h-1.0zM329.08 595.94h1.5v1.5h-1.5zM314.09 591h1.0v1.0h-1.0zM335.67 574.1h1.0v1.0h-1.0zM333.57 590.72h1.0v1.0h-1.0zM332.98 572.81h1.0v1.0h-1.0zM313.41 594.69h1.0v1.0h-1.0zM335.25 572.7h1.0v1.0h-1.0zM338.04 581.11h1.0v1.0h-1.0zM332.66 591.8h1.0v1.0h-1.0zM329.86 595.71h1.0v1.0h-1.0zM328.85 596.43h1.0v1.0h-1.0zM314.29 596.42h1.5v1.5h-1.5zM332.81 572.25h1.5v1.5h-1.5zM335.96 585.73h1.5v1.5h-1.5zM337.25 577.37h1.5v1.5h-1.5zM334.69 587.57h1.5v1.5h-1.5zM322.12 579.34h1.0v1.0h-1.0zM337.09 574.84h1.0v1.0h-1.0zM337.84 581.89h1.0v1.0h-1.0zM337.18 581.1h1.0v1.0h-1.0zM322 599.41h1.5v1.5h-1.5zM329.62 573.96h1.0v1.0h-1.0zM329.09 595.83h1.5v1.5h-1.5zM317.45 598.45h1.5v1.5h-1.5zM336.94 573.37h1.0v1.0h-1.0zM337.26 574.93h1.0v1.0h-1.0zM332.54 590.92h1.5v1.5h-1.5zM327.49 597.34h1.0v1.0h-1.0zM320.14 600.05h1.0v1.0h-1.0zM334.17 589.99h1.5v1.5h-1.5zM329.49 594.93h1.5v1.5h-1.5zM330.58 572.65h1.0v1.0h-1.0zM325 576.08h1.0v1.0h-1.0zM316.31 597.35h1.0v1.0h-1.0zM315.35 587.43h1.5v1.5h-1.5zM336.29 573.55h1.0v1.0h-1.0zM317.91 582.95h1.0v1.0h-1.0zM319.25 599.53h1.0v1.0h-1.0zM334.17 589.02h1.0v1.0h-1.0zM329.44 596.71h1.5v1.5h-1.5zM322.91 578.33h1.5v1.5h-1.5zM331.23 572.98h1.5v1.5h-1.5zM317.21 585.08h1.0v1.0h-1.0zM323.98 599.6h1.5v1.5h-1.5zM336.38 583.66h1.5v1.5h-1.5zM314.47 594h1.0v1.0h-1.0zM337.9 579.31h1.0v1.0h-1.0zM313.99 592.46h1.0v1.0h-1.0zM314.81 595.31h1.0v1.0h-1.0zM329.27 597.12h1.0v1.0h-1.0zM320.06 600.1h1.0v1.0h-1.0zM333.94 572.41h1.5v1.5h-1.5zM337.41 579.81h1.0v1.0h-1.0zM318.17 598.95h1.0v1.0h-1.0zM332.68 592h1.0v1.0h-1.0zM317.58 598.92h1.5v1.5h-1.5zM337.44 573.94h1.0v1.0h-1.0zM320.47 580.05h1.0v1.0h-1.0zM319.24 598.68h1.0v1.0h-1.0zM337.39 575.63h1.5v1.5h-1.5zM336.51 583.51h1.0v1.0h-1.0zM330.79 594.33h1.0v1.0h-1.0zM336.12 573.34h1.5v1.5h-1.5zM334.58 572.28h1.0v1.0h-1.0zM326.05 597.88h1v1h-1zM326.78 597.29h1v1h-1zM338.84 594.16h1v1h-1zM324.47 599.85h1v1h-1zM327.61 597.78h1v1h-1zM326.25 601.33h1v1h-1zM316.27 596.27h1v1h-1zM319.83 599.71h1.4v1.4h-1.4zM331.76 604.11h1.0v1.0h-1.0zM331.72 595.03h1.0v1.0h-1.0zM327.46 595.54h1.0v1.0h-1.0zM331.63 599.69h1.0v1.0h-1.0zM327.37 605.77h1.4v1.4h-1.4zM330.52 604.12h1.0v1.0h-1.0zM332.13 606.07h1.4v1.4h-1.4zM319.7 619.77h1.0v1.0h-1.0zM315.57 619.63h1.0v1.0h-1.0zM322.33 625.3h1.0v1.0h-1.0zM317.65 616.61h1.4v1.4h-1.4zM319.47 621.57h1.0v1.0h-1.0z" fill="#222"/><path d="M321.73 578.06h1.0v1.0h-1.0zM324.75 599.65h1.5v1.5h-1.5zM314.2 594.1h1.0v1.0h-1.0zM336.03 572.05h1.5v1.5h-1.5zM328.63 597h1.0v1.0h-1.0zM323.97 575.55h1.5v1.5h-1.5zM332.47 592.18h1.5v1.5h-1.5zM337.97 574.03h1.5v1.5h-1.5zM331.86 594.85h1.0v1.0h-1.0zM317.92 582.01h1.5v1.5h-1.5zM337.86 579.91h1.5v1.5h-1.5zM314.31 591.55h1.5v1.5h-1.5zM334.33 572.84h1.0v1.0h-1.0zM313.79 596.43h1.0v1.0h-1.0zM333.68 572.51h1.0v1.0h-1.0zM331.44 594.18h1.0v1.0h-1.0zM314.82 592.98h1.0v1.0h-1.0zM322.56 576.86h1.5v1.5h-1.5zM329.74 572.88h1.5v1.5h-1.5zM321.12 600.29h1.5v1.5h-1.5zM330.58 573.05h1.0v1.0h-1.0zM313.99 595.06h1.5v1.5h-1.5zM313.44 589.42h1.5v1.5h-1.5zM331.98 571.13h1.0v1.0h-1.0zM325.73 599.67h1.0v1.0h-1.0zM331.94 594.1h1.0v1.0h-1.0zM334.45 571.72h1.0v1.0h-1.0zM327.78 574.22h1.5v1.5h-1.5zM315.99 585.24h1.5v1.5h-1.5zM333.2 591.49h1.5v1.5h-1.5zM328.49 573.5h1.5v1.5h-1.5zM337.22 573.74h1.5v1.5h-1.5zM328.18 598.4h1.5v1.5h-1.5zM313.57 589.63h1.0v1.0h-1.0zM335.62 572.65h1.0v1.0h-1.0zM315.51 599.99h1.5v1.5h-1.5zM334.88 571.51h1.0v1.0h-1.0zM321.25 579.17h1.5v1.5h-1.5zM313.67 595.25h1.0v1.0h-1.0zM314.19 594.73h1.0v1.0h-1.0zM315.52 598.39h1.0v1.0h-1.0zM331.62 593.51h1.0v1.0h-1.0zM321.07 601.55h1.0v1.0h-1.0zM324.36 604.12h1v1h-1zM323.28 596.24h1v1h-1zM327.02 596.19h1v1h-1zM322.25 597.3h1v1h-1zM319.77 593.69h1v1h-1zM329.73 606.8h1v1h-1zM328.44 601.64h1v1h-1zM323.28 595.55h1v1h-1zM328.11 596.99h1v1h-1zM324.66 594.6h1v1h-1zM327.4 593.48h1v1h-1zM327.55 595.6h1.0v1.0h-1.0zM321.2 605.67h1.0v1.0h-1.0zM323.3 595.03h1.0v1.0h-1.0zM333.34 599h1.0v1.0h-1.0zM328.93 607.17h1.0v1.0h-1.0zM318.89 622.94h1.4v1.4h-1.4zM321.44 618.05h1.4v1.4h-1.4zM344.72 577.71h1.0v1.0h-1.0zM346.82 581.52h1.0v1.0h-1.0zM343.96 583.85h1.0v1.0h-1.0z" fill="#444"/><path d="M327.71 573.12h1.0v1.0h-1.0zM314.78 596.47h1.5v1.5h-1.5zM340.49 574.89h1.5v1.5h-1.5zM338.51 574.01h1.5v1.5h-1.5zM329.86 572.27h1.5v1.5h-1.5zM326.66 600.05h1.0v1.0h-1.0zM338.22 572.96h1.0v1.0h-1.0zM336.32 588.97h1.5v1.5h-1.5zM314.1 600.81h1.5v1.5h-1.5zM337.15 585.07h1.5v1.5h-1.5zM334.82 593.7h1.5v1.5h-1.5zM328.29 598.15h1.0v1.0h-1.0zM339.02 572.82h1.0v1.0h-1.0zM313.69 597.97h1.0v1.0h-1.0zM315.78 584.58h1.5v1.5h-1.5zM320.67 576.22h1.5v1.5h-1.5zM322.57 601.76h1.0v1.0h-1.0zM338.52 570.93h1.0v1.0h-1.0zM328.61 573.16h1.5v1.5h-1.5zM338.33 582.77h1.0v1.0h-1.0zM336.98 571.16h1.0v1.0h-1.0zM314.47 598.53h1.0v1.0h-1.0zM335.38 590.38h1.0v1.0h-1.0zM333.69 570.67h1.0v1.0h-1.0zM314.49 599.34h1.5v1.5h-1.5zM339.77 576.11h1.5v1.5h-1.5zM335.67 570.22h1.5v1.5h-1.5zM315.05 604.78h1.5v1.5h-1.5zM339.57 578.64h1.5v1.5h-1.5zM325.43 574.93h1.0v1.0h-1.0zM324.19 575.45h1.0v1.0h-1.0z" fill="#777"/><path d="M341.5 553.7V634.3M312.6 609.6H395" stroke="#333" stroke-width="1.4" fill="none"/><path d="M312.6 553.7H395V634.3" stroke="#4a4a4a" stroke-width="1.5" fill="none"/><path d="M312.6 553.7V634.3H395" stroke="#000" stroke-width="1.4" fill="none" stroke-linecap="square"/><path d="M312.6 634.3v3.2M318.8 634.3v2M322.43 634.3v2M325 634.3v2M327 634.3v2M328.63 634.3v2M330.01 634.3v2M331.2 634.3v2M332.26 634.3v2M333.2 634.3v3.2M339.4 634.3v2M343.03 634.3v2M345.6 634.3v2M347.6 634.3v2M349.23 634.3v2M350.61 634.3v2M351.8 634.3v2M352.86 634.3v2M353.8 634.3v3.2M360 634.3v2M363.63 634.3v2M366.2 634.3v2M368.2 634.3v2M369.83 634.3v2M371.21 634.3v2M372.4 634.3v2M373.46 634.3v2M374.4 634.3v3.2M380.6 634.3v2M384.23 634.3v2M386.8 634.3v2M388.8 634.3v2M390.43 634.3v2M391.81 634.3v2M393 634.3v2M394.06 634.3v2M395 634.3v3.2M312.6 634.3h-3.2M312.6 628.23h-2M312.6 624.69h-2M312.6 622.17h-2M312.6 620.22h-2M312.6 618.62h-2M312.6 617.27h-2M312.6 616.1h-2M312.6 615.07h-2M312.6 614.15h-3.2M312.6 608.08h-2M312.6 604.54h-2M312.6 602.02h-2M312.6 600.07h-2M312.6 598.47h-2M312.6 597.12h-2M312.6 595.95h-2M312.6 594.92h-2M312.6 594h-3.2M312.6 587.93h-2M312.6 584.39h-2M312.6 581.87h-2M312.6 579.92h-2M312.6 578.32h-2M312.6 576.97h-2M312.6 575.8h-2M312.6 574.77h-2M312.6 573.85h-3.2M312.6 567.78h-2M312.6 564.24h-2M312.6 561.72h-2M312.6 559.77h-2M312.6 558.17h-2M312.6 556.82h-2M312.6 555.65h-2M312.6 554.62h-2M312.6 553.7h-3.2" stroke="#000" stroke-width="0.8" fill="none"/><g fill="#000" stroke="#000" stroke-width="0.32"><text x="313" y="644.5" font-size="6.6" text-anchor="middle">10<tspan dy="-3.0" font-size="5.4">0</tspan></text><text x="333.6" y="644.5" font-size="6.6" text-anchor="middle">10<tspan dy="-3.0" font-size="5.4">1</tspan></text><text x="354.2" y="644.5" font-size="6.6" text-anchor="middle">10<tspan dy="-3.0" font-size="5.4">2</tspan></text><text x="374.8" y="644.5" font-size="6.6" text-anchor="middle">10<tspan dy="-3.0" font-size="5.4">3</tspan></text><text x="395.4" y="644.5" font-size="6.6" text-anchor="middle">10<tspan dy="-3.0" font-size="5.4">4</tspan></text><text transform="translate(307.6 634.9) rotate(-90)" font-size="6.6" text-anchor="middle">10<tspan dy="-3.0" font-size="5.4">0</tspan></text><text transform="translate(307.6 614.75) rotate(-90)" font-size="6.6" text-anchor="middle">10<tspan dy="-3.0" font-size="5.4">1</tspan></text><text transform="translate(307.6 594.6) rotate(-90)" font-size="6.6" text-anchor="middle">10<tspan dy="-3.0" font-size="5.4">2</tspan></text><text transform="translate(307.6 574.45) rotate(-90)" font-size="6.6" text-anchor="middle">10<tspan dy="-3.0" font-size="5.4">3</tspan></text><text transform="translate(307.6 554.3) rotate(-90)" font-size="6.6" text-anchor="middle">10<tspan dy="-3.0" font-size="5.4">4</tspan></text></g>
<polygon points="450.61,574.99 449.56,575.17 449.08,574.43 448.17,574.4 447.24,574.37 446.09,574.88 445.07,574.96 443.85,575.73 442.66,576.52 441.48,577.58 440.38,578.75 439.25,579.47 437.99,580 437,581.24 435.48,581.81 434.25,582.92 433.03,584.13 432,585.49 431.8,586.92 431.8,588.35 431.8,589.75 431.8,591.1 431.8,592.38 431.8,593.57 431.8,594.72 431.8,595.64 431.8,596.82 431.8,597.69 431.8,599.17 431.95,599.85 432.98,600.17 433.69,600.93 434.78,601.06 435.75,601.4 437.01,600.92 437.95,601.33 439.04,601.31 440.21,600.93 441.37,600.91 442.59,600.41 443.74,599.27 444.97,598.58 446.09,597.41 446.83,595.66 447.63,594.23 448.3,592.76 448.84,591.3 449.54,589.95 449.96,588.55 450.58,587.17 450.95,585.81 451.24,584.48 452.12,582.88 451.97,581.75 452.62,580.13 452.26,579.2 452.31,577.97 451.83,577.26 451.21,576.75 451.08,575.68" fill="#000"/><path d="M436.38 600.67h1.0v1.0h-1.0zM453.05 580.66h1.0v1.0h-1.0zM449.92 589.52h1.0v1.0h-1.0zM432.49 601.81h1.5v1.5h-1.5zM436.54 600.65h1.0v1.0h-1.0zM440.96 577.31h1.0v1.0h-1.0zM448.26 574.86h1.0v1.0h-1.0zM445.37 597.85h1.5v1.5h-1.5zM452.53 584.73h1.0v1.0h-1.0zM438.25 579.57h1.5v1.5h-1.5zM448.76 575.18h1.5v1.5h-1.5zM442.9 599.08h1.5v1.5h-1.5zM432.43 598.55h1.5v1.5h-1.5zM445.98 575.43h1.0v1.0h-1.0zM450.38 577.22h1.0v1.0h-1.0zM450.94 574.82h1.5v1.5h-1.5zM451.23 575.82h1.5v1.5h-1.5zM450.67 588.46h1.0v1.0h-1.0zM436.89 600.88h1.5v1.5h-1.5zM431.84 598.8h1.0v1.0h-1.0zM436.86 581.02h1.5v1.5h-1.5zM448.45 575.52h1.0v1.0h-1.0zM433.01 599.5h1.0v1.0h-1.0zM451.31 579.75h1.5v1.5h-1.5zM432.62 597.21h1.0v1.0h-1.0zM440.37 600.95h1.0v1.0h-1.0zM446.34 596.12h1.5v1.5h-1.5zM449.54 590.76h1.0v1.0h-1.0zM432.23 587.32h1.5v1.5h-1.5zM448.77 591.74h1.0v1.0h-1.0zM446.66 575.05h1.0v1.0h-1.0zM432.36 590.42h1.0v1.0h-1.0zM434.42 583.45h1.5v1.5h-1.5zM451.29 585.49h1.0v1.0h-1.0zM440.21 577.49h1.0v1.0h-1.0zM452.34 584.46h1.0v1.0h-1.0zM437.87 580.41h1.0v1.0h-1.0zM451.88 579.06h1.0v1.0h-1.0zM448.84 592.39h1.5v1.5h-1.5zM448.44 575.5h1.5v1.5h-1.5zM432.67 589.47h1.5v1.5h-1.5zM451.79 586.62h1.0v1.0h-1.0zM447.8 594.19h1.0v1.0h-1.0zM451.02 584.74h1.0v1.0h-1.0zM442.93 599.6h1.5v1.5h-1.5zM432.39 592.25h1.0v1.0h-1.0zM432.83 593.07h1.0v1.0h-1.0zM437.35 580.46h1.5v1.5h-1.5zM450.13 575.88h1.0v1.0h-1.0zM450.8 575.58h1.5v1.5h-1.5zM434.44 584.11h1.0v1.0h-1.0zM448.86 575.35h1.0v1.0h-1.0zM443.64 575.9h1.0v1.0h-1.0zM448.79 592.01h1.0v1.0h-1.0zM452.24 581.45h1.5v1.5h-1.5zM436.12 601.72h1.0v1.0h-1.0zM433.29 584.6h1.0v1.0h-1.0zM445.75 596.76h1.0v1.0h-1.0zM437.37 602.01h1.5v1.5h-1.5zM444.98 596.9h1.0v1.0h-1.0zM450.8 576.15h1.5v1.5h-1.5zM435.24 602.04h1.0v1.0h-1.0zM440.81 600.78h1.0v1.0h-1.0zM452.48 577.05h1.5v1.5h-1.5zM432.49 585.99h1.5v1.5h-1.5zM435.88 581.8h1.5v1.5h-1.5zM433.14 595.78h1.0v1.0h-1.0zM432.92 601.59h1.0v1.0h-1.0zM446.94 594.76h1.0v1.0h-1.0zM432.03 597.38h1.5v1.5h-1.5zM436.08 600.73h1.5v1.5h-1.5zM451.34 580.19h1.5v1.5h-1.5zM442.97 598.96h1.0v1.0h-1.0zM443.11 576.82h1.0v1.0h-1.0zM433.71 584.2h1.5v1.5h-1.5zM449.79 590.21h1.0v1.0h-1.0zM450.71 587.07h1.5v1.5h-1.5zM432.72 585.59h1.5v1.5h-1.5zM433.97 584.67h1.5v1.5h-1.5zM451.18 576.46h1.5v1.5h-1.5zM451.59 579.68h1.5v1.5h-1.5zM450.17 576.87h1.0v1.0h-1.0zM451.37 582.84h1.5v1.5h-1.5zM447.79 592.98h1.0v1.0h-1.0zM447.63 593.42h1.0v1.0h-1.0zM445.77 596.76h1.5v1.5h-1.5zM436.25 601.79h1.5v1.5h-1.5zM437.56 580.21h1.5v1.5h-1.5zM449.85 575.89h1.0v1.0h-1.0zM432.54 586.38h1.0v1.0h-1.0zM443.26 600.25h1.5v1.5h-1.5zM433.29 596.66h1.5v1.5h-1.5zM446.07 575.5h1.5v1.5h-1.5zM452.14 579.05h1.0v1.0h-1.0zM443.89 598.78h1.0v1.0h-1.0zM432.73 588.27h1.0v1.0h-1.0zM432.71 586h1.0v1.0h-1.0zM445.92 575.68h1.0v1.0h-1.0zM433.9 601.08h1.5v1.5h-1.5zM452.51 582.89h1.0v1.0h-1.0zM452.03 581.97h1.0v1.0h-1.0zM432.29 594.54h1.0v1.0h-1.0zM449.48 575.3h1.5v1.5h-1.5zM439.48 600.99h1.0v1.0h-1.0zM451.84 579.6h1.5v1.5h-1.5zM433.13 597.79h1.5v1.5h-1.5zM448.66 593.12h1.0v1.0h-1.0zM447.54 594.48h1.5v1.5h-1.5zM445.43 596.41h1.5v1.5h-1.5zM433.25 597.35h1.0v1.0h-1.0zM450.01 574.16h1.5v1.5h-1.5zM449.63 591.76h1.5v1.5h-1.5zM432.06 599.23h1.0v1.0h-1.0zM432.21 599.59h1.0v1.0h-1.0zM450.22 576.89h1.0v1.0h-1.0zM443.03 576.3h1.0v1.0h-1.0zM450.08 588.49h1.0v1.0h-1.0zM438.77 600.47h1.0v1.0h-1.0zM432.91 585.02h1.5v1.5h-1.5zM443.18 576.36h1.0v1.0h-1.0zM444.11 597.75h1.5v1.5h-1.5zM451.27 584.79h1.5v1.5h-1.5zM432.22 600.13h1.0v1.0h-1.0zM438 580.31h1.5v1.5h-1.5zM437.57 579.57h1.5v1.5h-1.5zM449.5 591.93h1.0v1.0h-1.0zM448.95 592.1h1.5v1.5h-1.5zM431.95 588.08h1.5v1.5h-1.5zM446.86 595.97h1.0v1.0h-1.0zM432.67 595.18h1.5v1.5h-1.5zM450.04 589.05h1.0v1.0h-1.0zM451.38 582.49h1.5v1.5h-1.5zM435.64 600.9h1.0v1.0h-1.0zM444.37 598.1h1.5v1.5h-1.5zM452.16 575.86h1.0v1.0h-1.0zM446.9 595.34h1.0v1.0h-1.0zM432.44 587.01h1.0v1.0h-1.0zM452.1 581.21h1.0v1.0h-1.0zM452.07 581.12h1.5v1.5h-1.5zM432.44 587.62h1.0v1.0h-1.0zM432.36 588.64h1.0v1.0h-1.0zM434.17 600.01h1.0v1.0h-1.0zM450.48 589.42h1.0v1.0h-1.0zM432.16 586.83h1.0v1.0h-1.0zM432.88 593.39h1.5v1.5h-1.5zM442.68 599.1h1.5v1.5h-1.5zM432.92 585.7h1.5v1.5h-1.5zM448.1 575.33h1.0v1.0h-1.0zM438.25 601.46h1.5v1.5h-1.5zM432.49 598.84h1.0v1.0h-1.0zM431.9 590.68h1.0v1.0h-1.0zM432.03 587.97h1.0v1.0h-1.0zM433.36 584.97h1.0v1.0h-1.0zM442 599.53h1.5v1.5h-1.5zM449.63 575.1h1.0v1.0h-1.0zM451.69 586.2h1.5v1.5h-1.5zM435.62 600.55h1.0v1.0h-1.0zM446.26 595.34h1.5v1.5h-1.5zM439 579.07h1.5v1.5h-1.5zM448.68 592.08h1.0v1.0h-1.0zM432.33 600.9h1.0v1.0h-1.0zM445.71 600.84h1v1h-1zM448.59 599.56h1v1h-1zM438.99 600.52h1v1h-1zM438.83 596.43h1v1h-1zM432.7 599h1v1h-1zM435.33 595.65h1v1h-1zM444.13 600.3h1v1h-1zM436.68 605.29h1.4v1.4h-1.4zM441.06 600.6h1.4v1.4h-1.4zM439.98 605.1h1.4v1.4h-1.4zM445.18 603.37h1.0v1.0h-1.0zM437.73 602.81h1.0v1.0h-1.0zM442.64 595.51h1.0v1.0h-1.0zM440.05 612.98h1.0v1.0h-1.0zM434.41 616.59h1.0v1.0h-1.0zM435.23 615.24h1.0v1.0h-1.0zM461.1 577.43h1.0v1.0h-1.0zM468.48 593.06h1.0v1.0h-1.0z" fill="#000"/><path d="M448.19 573.83h1.0v1.0h-1.0zM443.75 574.65h1.0v1.0h-1.0zM452.81 576.47h1.5v1.5h-1.5zM451.24 574.5h1.0v1.0h-1.0zM432.41 598.83h1.0v1.0h-1.0zM431.85 600.76h1.0v1.0h-1.0zM432.5 599.23h1.5v1.5h-1.5zM450.27 589.8h1.5v1.5h-1.5zM432.23 587.15h1.0v1.0h-1.0zM442.37 600.01h1.0v1.0h-1.0zM445.83 596.58h1.0v1.0h-1.0zM433.25 597.72h1.5v1.5h-1.5zM432.16 598.76h1.0v1.0h-1.0zM431.92 600.08h1.0v1.0h-1.0zM431.84 597.59h1.5v1.5h-1.5zM447.67 594.1h1.5v1.5h-1.5zM433.29 597.77h1.5v1.5h-1.5zM433.25 586.22h1.0v1.0h-1.0zM436.5 579.49h1.5v1.5h-1.5zM448.12 574.83h1.5v1.5h-1.5zM438.5 577.97h1.0v1.0h-1.0zM448.87 574h1.5v1.5h-1.5zM449.69 592.18h1.5v1.5h-1.5zM433.27 589.36h1.5v1.5h-1.5zM441.55 601.25h1.0v1.0h-1.0zM436.97 602.29h1.0v1.0h-1.0zM451.14 587.94h1.0v1.0h-1.0zM433.13 592.79h1.5v1.5h-1.5zM432.34 598.58h1.0v1.0h-1.0zM445.1 598.7h1.5v1.5h-1.5zM450.81 573.93h1.5v1.5h-1.5zM449.14 573.3h1.5v1.5h-1.5zM442.02 575.36h1.0v1.0h-1.0zM452.07 576.46h1.0v1.0h-1.0zM438.26 578.09h1.5v1.5h-1.5zM437.16 602.59h1.5v1.5h-1.5zM447.96 574.24h1.0v1.0h-1.0zM442.74 599.93h1.0v1.0h-1.0zM433.17 599.64h1.5v1.5h-1.5zM453.73 578.98h1.5v1.5h-1.5zM447.92 573.09h1.5v1.5h-1.5zM437.73 603.17h1.5v1.5h-1.5zM438.39 602.96h1.0v1.0h-1.0zM433.23 596.18h1.0v1.0h-1.0zM432.64 586.38h1.5v1.5h-1.5zM431.98 588.78h1.0v1.0h-1.0zM439.47 602h1.5v1.5h-1.5zM449.3 592.06h1.0v1.0h-1.0zM439.36 577.71h1.0v1.0h-1.0zM452.49 576.71h1.5v1.5h-1.5zM432.04 586.43h1.0v1.0h-1.0zM452.11 574.36h1.0v1.0h-1.0zM432.09 593.16h1.5v1.5h-1.5zM453.08 579.72h1.0v1.0h-1.0zM432.96 597.79h1.5v1.5h-1.5zM439.91 577.45h1.0v1.0h-1.0zM450.54 574.96h1.5v1.5h-1.5zM442.78 600.13h1.0v1.0h-1.0zM447.61 594.99h1.0v1.0h-1.0zM432.07 594.31h1.0v1.0h-1.0zM451.8 588.37h1.0v1.0h-1.0zM450.77 587.77h1.5v1.5h-1.5zM450.77 591.79h1.0v1.0h-1.0zM432.36 602.22h1.0v1.0h-1.0zM441.57 600.11h1.0v1.0h-1.0zM432.07 596.13h1.5v1.5h-1.5zM437.76 602.47h1.5v1.5h-1.5zM450.35 573.43h1.0v1.0h-1.0zM438.47 602.3h1.5v1.5h-1.5zM452.86 576.94h1.5v1.5h-1.5zM432.27 597.85h1.0v1.0h-1.0zM453.69 576.69h1.0v1.0h-1.0zM436.04 580.85h1.5v1.5h-1.5zM452.39 574.27h1.0v1.0h-1.0zM433.19 591.82h1.0v1.0h-1.0zM432.64 591.62h1.5v1.5h-1.5zM451.86 575.64h1.0v1.0h-1.0zM444.03 575.63h1.5v1.5h-1.5zM450.72 588.62h1.0v1.0h-1.0zM439.23 602.7h1.0v1.0h-1.0zM441.97 576.32h1.0v1.0h-1.0zM431.99 586.43h1.0v1.0h-1.0zM452.85 584.44h1.0v1.0h-1.0zM441.6 576.58h1.5v1.5h-1.5zM432.36 599.46h1.5v1.5h-1.5zM437.64 602.86h1.0v1.0h-1.0zM433.27 585.87h1.5v1.5h-1.5zM450.47 573.59h1.0v1.0h-1.0zM432.17 594.03h1.0v1.0h-1.0zM438.18 601.7h1.5v1.5h-1.5zM442.74 600.58h1.0v1.0h-1.0zM453.36 581.92h1.5v1.5h-1.5zM438.82 578.28h1.5v1.5h-1.5zM448.28 573.04h1.0v1.0h-1.0zM433.49 601.7h1.0v1.0h-1.0zM437.28 597.99h1v1h-1zM439.77 600.18h1v1h-1zM435.5 596.25h1v1h-1zM448.25 601.82h1v1h-1zM455.72 604.66h1v1h-1zM450.71 595.04h1.0v1.0h-1.0zM448.94 605.57h1.4v1.4h-1.4zM451.68 600.8h1.0v1.0h-1.0zM440.08 605.11h1.0v1.0h-1.0zM452.37 601.89h1.0v1.0h-1.0zM442.22 602.64h1.4v1.4h-1.4zM440.14 605.58h1.0v1.0h-1.0zM455.2 595.3h1.4v1.4h-1.4zM449.67 622.71h1.0v1.0h-1.0zM441.29 615.28h1.4v1.4h-1.4zM440.2 614.64h1.4v1.4h-1.4zM448.39 625.54h1.0v1.0h-1.0zM468.79 586.32h1.4v1.4h-1.4zM462.3 590.44h1.0v1.0h-1.0z" fill="#222"/><path d="M454 585.39h1.5v1.5h-1.5zM446.53 597.73h1.0v1.0h-1.0zM451.09 589.79h1.0v1.0h-1.0zM454.28 581.06h1.5v1.5h-1.5zM432.75 600.47h1.5v1.5h-1.5zM450 593.71h1.0v1.0h-1.0zM444.14 573.95h1.5v1.5h-1.5zM453.07 585.06h1.0v1.0h-1.0zM438.83 577.68h1.0v1.0h-1.0zM448.12 596.58h1.5v1.5h-1.5zM454.78 581.69h1.0v1.0h-1.0zM437.67 604.08h1.5v1.5h-1.5zM452.75 574.43h1.5v1.5h-1.5zM440.64 602.55h1.0v1.0h-1.0zM432.97 601.38h1.0v1.0h-1.0zM451.53 573.59h1.5v1.5h-1.5zM435.95 578.6h1.0v1.0h-1.0zM432.3 592.13h1.5v1.5h-1.5zM449.08 594.09h1.0v1.0h-1.0zM450.3 573.62h1.0v1.0h-1.0zM440.67 575.21h1.0v1.0h-1.0zM453.73 579.21h1.5v1.5h-1.5zM453.85 579.64h1.0v1.0h-1.0zM434.95 603.22h1.0v1.0h-1.0zM449.64 572.66h1.5v1.5h-1.5zM441.97 602.05h1.5v1.5h-1.5zM440.66 602.57h1.5v1.5h-1.5zM448.34 595.44h1.0v1.0h-1.0zM432.95 601.58h1.5v1.5h-1.5zM432.44 599.08h1.5v1.5h-1.5zM447.99 573.48h1.5v1.5h-1.5zM451.43 572.16h1.0v1.0h-1.0zM438.51 577.56h1.0v1.0h-1.0zM443.58 574.33h1.5v1.5h-1.5zM432.9 587.69h1.5v1.5h-1.5zM432.02 598.91h1.5v1.5h-1.5zM438.77 603.97h1.0v1.0h-1.0zM435.87 580.08h1.0v1.0h-1.0zM437.74 603.5h1.0v1.0h-1.0zM431.84 594.7h1.0v1.0h-1.0zM446.62 572.66h1.5v1.5h-1.5zM442.83 601.84h1.5v1.5h-1.5zM431.89 584.04h1.5v1.5h-1.5zM452.82 574.9h1.5v1.5h-1.5zM433.27 602.23h1.0v1.0h-1.0zM449.67 594.68h1.5v1.5h-1.5zM432.25 583.44h1.0v1.0h-1.0zM431.89 596.01h1.0v1.0h-1.0zM449.32 573.52h1.5v1.5h-1.5zM433.25 585.68h1.0v1.0h-1.0zM431.81 601.06h1.5v1.5h-1.5zM451.95 589.33h1.0v1.0h-1.0zM442.14 601.15h1.0v1.0h-1.0zM433.14 603.05h1.5v1.5h-1.5zM437.44 598.22h1v1h-1zM448.55 601.01h1v1h-1zM445.18 605.74h1v1h-1zM441.46 597.34h1v1h-1zM436.08 598.15h1v1h-1zM439.45 594.98h1v1h-1zM456.36 601.58h1.0v1.0h-1.0zM436.81 605.95h1.0v1.0h-1.0zM443.07 599.89h1.4v1.4h-1.4zM446.99 597.94h1.4v1.4h-1.4zM451.64 603.53h1.0v1.0h-1.0zM448.29 599.83h1.0v1.0h-1.0zM447.54 606.92h1.4v1.4h-1.4zM445.99 597.19h1.0v1.0h-1.0zM445.92 611.67h1.4v1.4h-1.4zM447.29 621.71h1.0v1.0h-1.0zM439.78 613.14h1.0v1.0h-1.0zM469.12 582h1.0v1.0h-1.0zM469.82 595.28h1.4v1.4h-1.4z" fill="#444"/><path d="M447.81 572.77h1.0v1.0h-1.0zM454.03 587.29h1.5v1.5h-1.5zM455.81 579.25h1.5v1.5h-1.5zM452.52 572.77h1.5v1.5h-1.5zM453.63 574.73h1.0v1.0h-1.0zM454.87 575.03h1.0v1.0h-1.0zM432.98 603.2h1.0v1.0h-1.0zM448.02 571.96h1.5v1.5h-1.5zM454.72 582.18h1.0v1.0h-1.0zM431.99 583.6h1.5v1.5h-1.5zM441.69 574.72h1.0v1.0h-1.0zM431.96 590.35h1.5v1.5h-1.5zM438.82 603.47h1.5v1.5h-1.5zM448.39 572.13h1.5v1.5h-1.5zM433.17 601.59h1.0v1.0h-1.0zM453.77 574.45h1.5v1.5h-1.5zM431.99 600.64h1.0v1.0h-1.0zM438.09 576.09h1.0v1.0h-1.0zM448.58 570.8h1.0v1.0h-1.0zM454.77 581.47h1.0v1.0h-1.0zM454.94 584.23h1.5v1.5h-1.5zM432.28 590.96h1.0v1.0h-1.0zM446.61 599.86h1.5v1.5h-1.5zM433.02 605.9h1.5v1.5h-1.5zM448.16 596.34h1.0v1.0h-1.0zM447.75 598.35h1.0v1.0h-1.0zM436.38 578.39h1.0v1.0h-1.0zM446.46 598.4h1.0v1.0h-1.0zM453.53 572.78h1.5v1.5h-1.5zM446.19 571.21h1.0v1.0h-1.0z" fill="#777"/><path d="M459.8 553.3V632.6M431 608.4H514.5" stroke="#333" stroke-width="1.4" fill="none"/><path d="M431 553.3H514.5V632.6" stroke="#4a4a4a" stroke-width="1.5" fill="none"/><path d="M431 553.3V632.6H514.5" stroke="#000" stroke-width="1.4" fill="none" stroke-linecap="square"/><path d="M431 632.6v3.2M437.28 632.6v2M440.96 632.6v2M443.57 632.6v2M445.59 632.6v2M447.24 632.6v2M448.64 632.6v2M449.85 632.6v2M450.92 632.6v2M451.88 632.6v3.2M458.16 632.6v2M461.83 632.6v2M464.44 632.6v2M466.47 632.6v2M468.12 632.6v2M469.52 632.6v2M470.73 632.6v2M471.79 632.6v2M472.75 632.6v3.2M479.03 632.6v2M482.71 632.6v2M485.32 632.6v2M487.34 632.6v2M488.99 632.6v2M490.39 632.6v2M491.6 632.6v2M492.67 632.6v2M493.62 632.6v3.2M499.91 632.6v2M503.58 632.6v2M506.19 632.6v2M508.22 632.6v2M509.87 632.6v2M511.27 632.6v2M512.48 632.6v2M513.54 632.6v2M514.5 632.6v3.2M431 632.6h-3.2M431 626.63h-2M431 623.14h-2M431 620.66h-2M431 618.74h-2M431 617.17h-2M431 615.85h-2M431 614.7h-2M431 613.68h-2M431 612.77h-3.2M431 606.81h-2M431 603.32h-2M431 600.84h-2M431 598.92h-2M431 597.35h-2M431 596.02h-2M431 594.87h-2M431 593.86h-2M431 592.95h-3.2M431 586.98h-2M431 583.49h-2M431 581.01h-2M431 579.09h-2M431 577.52h-2M431 576.2h-2M431 575.05h-2M431 574.03h-2M431 573.12h-3.2M431 567.16h-2M431 563.67h-2M431 561.19h-2M431 559.27h-2M431 557.7h-2M431 556.37h-2M431 555.22h-2M431 554.21h-2M431 553.3h-3.2" stroke="#000" stroke-width="0.8" fill="none"/><g fill="#000" stroke="#000" stroke-width="0.32"><text x="431.4" y="642.8" font-size="6.6" text-anchor="middle">10<tspan dy="-3.0" font-size="5.4">0</tspan></text><text x="452.27" y="642.8" font-size="6.6" text-anchor="middle">10<tspan dy="-3.0" font-size="5.4">1</tspan></text><text x="473.15" y="642.8" font-size="6.6" text-anchor="middle">10<tspan dy="-3.0" font-size="5.4">2</tspan></text><text x="494.02" y="642.8" font-size="6.6" text-anchor="middle">10<tspan dy="-3.0" font-size="5.4">3</tspan></text><text x="514.9" y="642.8" font-size="6.6" text-anchor="middle">10<tspan dy="-3.0" font-size="5.4">4</tspan></text><text transform="translate(426 633.2) rotate(-90)" font-size="6.6" text-anchor="middle">10<tspan dy="-3.0" font-size="5.4">0</tspan></text><text transform="translate(426 613.38) rotate(-90)" font-size="6.6" text-anchor="middle">10<tspan dy="-3.0" font-size="5.4">1</tspan></text><text transform="translate(426 593.55) rotate(-90)" font-size="6.6" text-anchor="middle">10<tspan dy="-3.0" font-size="5.4">2</tspan></text><text transform="translate(426 573.73) rotate(-90)" font-size="6.6" text-anchor="middle">10<tspan dy="-3.0" font-size="5.4">3</tspan></text><text transform="translate(426 553.9) rotate(-90)" font-size="6.6" text-anchor="middle">10<tspan dy="-3.0" font-size="5.4">4</tspan></text></g>
<path d="M66.6 172 L68.5 160 L70.3 152.5 L71.7 151.4 L73.3 158 L75.1 175 L77 189 L78.6 196 L80.3 199.5 L83 203.5 L85.5 206.4 L88 210 L90.7 213.3 L94 214.6 L97.6 215.2" stroke="#222" stroke-width="1.1" fill="none" stroke-linejoin="round"/><path d="M68.2 215 L70.5 213.5 L73.4 209.9 L76 204 L78.6 197.8 L82 189 L85.5 181.3 L88.6 174.9 L90.8 177 L93.3 182.2 L95.5 189 L97.6 196 L100 202.5 L102 208 L104 212 L106.3 214.6 L112 215.2" stroke="#000" stroke-width="1.85" fill="none" stroke-linejoin="round" stroke-linecap="round"/><path d="M66.4 136.3H149.2V215.4" stroke="#4a4a4a" stroke-width="1.5" fill="none"/><path d="M66.4 136.3V215.4H149.2" stroke="#000" stroke-width="1.4" fill="none" stroke-linecap="square"/><path d="M66.4 215.4v3.2M72.63 215.4v2M76.28 215.4v2M78.86 215.4v2M80.87 215.4v2M82.51 215.4v2M83.89 215.4v2M85.09 215.4v2M86.15 215.4v2M87.1 215.4v3.2M93.33 215.4v2M96.98 215.4v2M99.56 215.4v2M101.57 215.4v2M103.21 215.4v2M104.59 215.4v2M105.79 215.4v2M106.85 215.4v2M107.8 215.4v3.2M114.03 215.4v2M117.68 215.4v2M120.26 215.4v2M122.27 215.4v2M123.91 215.4v2M125.29 215.4v2M126.49 215.4v2M127.55 215.4v2M128.5 215.4v3.2M134.73 215.4v2M138.38 215.4v2M140.96 215.4v2M142.97 215.4v2M144.61 215.4v2M145.99 215.4v2M147.19 215.4v2M148.25 215.4v2M149.2 215.4v3.2M66.4 215.4h-3M66.4 212.24h-1.8M66.4 209.07h-1.8M66.4 205.91h-1.8M66.4 202.74h-1.8M66.4 199.58h-3M66.4 196.42h-1.8M66.4 193.25h-1.8M66.4 190.09h-1.8M66.4 186.92h-1.8M66.4 183.76h-3M66.4 180.6h-1.8M66.4 177.43h-1.8M66.4 174.27h-1.8M66.4 171.1h-1.8M66.4 167.94h-3M66.4 164.78h-1.8M66.4 161.61h-1.8M66.4 158.45h-1.8M66.4 155.28h-1.8M66.4 152.12h-3M66.4 148.96h-1.8M66.4 145.79h-1.8M66.4 142.63h-1.8M66.4 139.46h-1.8M66.4 136.3h-3" stroke="#000" stroke-width="0.8" fill="none"/><g fill="#000" stroke="#000" stroke-width="0.32"><text x="66.8" y="225.6" font-size="6.6" text-anchor="middle">10<tspan dy="-3.0" font-size="5.4">0</tspan></text><text x="87.5" y="225.6" font-size="6.6" text-anchor="middle">10<tspan dy="-3.0" font-size="5.4">1</tspan></text><text x="108.2" y="225.6" font-size="6.6" text-anchor="middle">10<tspan dy="-3.0" font-size="5.4">2</tspan></text><text x="128.9" y="225.6" font-size="6.6" text-anchor="middle">10<tspan dy="-3.0" font-size="5.4">3</tspan></text><text x="149.6" y="225.6" font-size="6.6" text-anchor="middle">10<tspan dy="-3.0" font-size="5.4">4</tspan></text><text transform="translate(60.6 215.4) rotate(-90)" font-size="6.0" text-anchor="middle">0</text><text transform="translate(60.6 199.58) rotate(-90)" font-size="6.0" text-anchor="middle">100</text><text transform="translate(60.6 183.76) rotate(-90)" font-size="6.0" text-anchor="middle">200</text><text transform="translate(60.6 167.94) rotate(-90)" font-size="6.0" text-anchor="middle">300</text><text transform="translate(60.6 152.12) rotate(-90)" font-size="6.0" text-anchor="middle">400</text><text transform="translate(60.6 136.3) rotate(-90)" font-size="6.0" text-anchor="middle">500</text></g>
<path d="M186.6 177 L188.6 160 L190.3 150.5 L191.7 148.4 L193 155 L194.2 166.6 L195.5 178 L196.8 189.1 L199.4 196.9 L203.8 202 L206.5 206 L209 209.9 L212.5 213 L215.9 214.3" stroke="#222" stroke-width="1.1" fill="none" stroke-linejoin="round"/><path d="M196.8 214.2 L202 211.6 L205 206.5 L207.2 201.2 L209.5 193 L211.6 184 L213.5 176 L215 170 L216.8 166 L218.5 164 L220.5 166 L222.8 171.8 L224.5 180 L226.3 189 L227.6 197 L228.9 204.7 L231 209.5 L233.2 212.5 L236.7 214.2" stroke="#000" stroke-width="1.85" fill="none" stroke-linejoin="round" stroke-linecap="round"/><path d="M186.4 136.3H270V214.6" stroke="#4a4a4a" stroke-width="1.5" fill="none"/><path d="M186.4 136.3V214.6H270" stroke="#000" stroke-width="1.4" fill="none" stroke-linecap="square"/><path d="M186.4 214.6v3.2M192.69 214.6v2M196.37 214.6v2M198.98 214.6v2M201.01 214.6v2M202.66 214.6v2M204.06 214.6v2M205.27 214.6v2M206.34 214.6v2M207.3 214.6v3.2M213.59 214.6v2M217.27 214.6v2M219.88 214.6v2M221.91 214.6v2M223.56 214.6v2M224.96 214.6v2M226.17 214.6v2M227.24 214.6v2M228.2 214.6v3.2M234.49 214.6v2M238.17 214.6v2M240.78 214.6v2M242.81 214.6v2M244.46 214.6v2M245.86 214.6v2M247.07 214.6v2M248.14 214.6v2M249.1 214.6v3.2M255.39 214.6v2M259.07 214.6v2M261.68 214.6v2M263.71 214.6v2M265.36 214.6v2M266.76 214.6v2M267.97 214.6v2M269.04 214.6v2M270 214.6v3.2M186.4 214.6h-3M186.4 211.47h-1.8M186.4 208.34h-1.8M186.4 205.2h-1.8M186.4 202.07h-1.8M186.4 198.94h-3M186.4 195.81h-1.8M186.4 192.68h-1.8M186.4 189.54h-1.8M186.4 186.41h-1.8M186.4 183.28h-3M186.4 180.15h-1.8M186.4 177.02h-1.8M186.4 173.88h-1.8M186.4 170.75h-1.8M186.4 167.62h-3M186.4 164.49h-1.8M186.4 161.36h-1.8M186.4 158.22h-1.8M186.4 155.09h-1.8M186.4 151.96h-3M186.4 148.83h-1.8M186.4 145.7h-1.8M186.4 142.56h-1.8M186.4 139.43h-1.8M186.4 136.3h-3" stroke="#000" stroke-width="0.8" fill="none"/><g fill="#000" stroke="#000" stroke-width="0.32"><text x="186.8" y="224.8" font-size="6.6" text-anchor="middle">10<tspan dy="-3.0" font-size="5.4">0</tspan></text><text x="207.7" y="224.8" font-size="6.6" text-anchor="middle">10<tspan dy="-3.0" font-size="5.4">1</tspan></text><text x="228.6" y="224.8" font-size="6.6" text-anchor="middle">10<tspan dy="-3.0" font-size="5.4">2</tspan></text><text x="249.5" y="224.8" font-size="6.6" text-anchor="middle">10<tspan dy="-3.0" font-size="5.4">3</tspan></text><text x="270.4" y="224.8" font-size="6.6" text-anchor="middle">10<tspan dy="-3.0" font-size="5.4">4</tspan></text><text transform="translate(180.6 214.6) rotate(-90)" font-size="6.0" text-anchor="middle">0</text><text transform="translate(180.6 198.94) rotate(-90)" font-size="6.0" text-anchor="middle">100</text><text transform="translate(180.6 183.28) rotate(-90)" font-size="6.0" text-anchor="middle">200</text><text transform="translate(180.6 167.62) rotate(-90)" font-size="6.0" text-anchor="middle">300</text><text transform="translate(180.6 151.96) rotate(-90)" font-size="6.0" text-anchor="middle">400</text><text transform="translate(180.6 136.3) rotate(-90)" font-size="6.0" text-anchor="middle">500</text></g>
<path d="M309.7 182.2 L311.8 162 L313.5 151 L315 147.9 L316.2 153 L317.2 163.2 L318.5 174 L319.8 184 L323.3 196 L327.6 203.8 L330.5 208 L333.7 211.6 L338 213.8 L342.3 214.6" stroke="#222" stroke-width="1.1" fill="none" stroke-linejoin="round"/><path d="M316.4 214.5 L319 212 L321.6 208.2 L324 203.5 L325.9 197.8 L327.8 188 L329.4 177 L330.7 169 L332 163.2 L334.2 159.7 L335.8 161.5 L337.2 164.9 L339.4 174 L341.5 184 L343.7 194 L345.8 203 L347.5 208 L349.3 211.6 L352.7 214.6" stroke="#000" stroke-width="1.85" fill="none" stroke-linejoin="round" stroke-linecap="round"/><path d="M309.5 136.3H393.6V214.9" stroke="#4a4a4a" stroke-width="1.5" fill="none"/><path d="M309.5 136.3V214.9H393.6" stroke="#000" stroke-width="1.4" fill="none" stroke-linecap="square"/><path d="M309.5 214.9v3.2M315.83 214.9v2M319.53 214.9v2M322.16 214.9v2M324.2 214.9v2M325.86 214.9v2M327.27 214.9v2M328.49 214.9v2M329.56 214.9v2M330.52 214.9v3.2M336.85 214.9v2M340.56 214.9v2M343.18 214.9v2M345.22 214.9v2M346.89 214.9v2M348.29 214.9v2M349.51 214.9v2M350.59 214.9v2M351.55 214.9v3.2M357.88 214.9v2M361.58 214.9v2M364.21 214.9v2M366.25 214.9v2M367.91 214.9v2M369.32 214.9v2M370.54 214.9v2M371.61 214.9v2M372.58 214.9v3.2M378.9 214.9v2M382.61 214.9v2M385.23 214.9v2M387.27 214.9v2M388.94 214.9v2M390.34 214.9v2M391.56 214.9v2M392.64 214.9v2M393.6 214.9v3.2M309.5 214.9h-3M309.5 211.76h-1.8M309.5 208.61h-1.8M309.5 205.47h-1.8M309.5 202.32h-1.8M309.5 199.18h-3M309.5 196.04h-1.8M309.5 192.89h-1.8M309.5 189.75h-1.8M309.5 186.6h-1.8M309.5 183.46h-3M309.5 180.32h-1.8M309.5 177.17h-1.8M309.5 174.03h-1.8M309.5 170.88h-1.8M309.5 167.74h-3M309.5 164.6h-1.8M309.5 161.45h-1.8M309.5 158.31h-1.8M309.5 155.16h-1.8M309.5 152.02h-3M309.5 148.88h-1.8M309.5 145.73h-1.8M309.5 142.59h-1.8M309.5 139.44h-1.8M309.5 136.3h-3" stroke="#000" stroke-width="0.8" fill="none"/><g fill="#000" stroke="#000" stroke-width="0.32"><text x="309.9" y="225.1" font-size="6.6" text-anchor="middle">10<tspan dy="-3.0" font-size="5.4">0</tspan></text><text x="330.92" y="225.1" font-size="6.6" text-anchor="middle">10<tspan dy="-3.0" font-size="5.4">1</tspan></text><text x="351.95" y="225.1" font-size="6.6" text-anchor="middle">10<tspan dy="-3.0" font-size="5.4">2</tspan></text><text x="372.98" y="225.1" font-size="6.6" text-anchor="middle">10<tspan dy="-3.0" font-size="5.4">3</tspan></text><text x="394" y="225.1" font-size="6.6" text-anchor="middle">10<tspan dy="-3.0" font-size="5.4">4</tspan></text><text transform="translate(303.7 214.9) rotate(-90)" font-size="6.0" text-anchor="middle">0</text><text transform="translate(303.7 199.18) rotate(-90)" font-size="6.0" text-anchor="middle">100</text><text transform="translate(303.7 183.46) rotate(-90)" font-size="6.0" text-anchor="middle">200</text><text transform="translate(303.7 167.74) rotate(-90)" font-size="6.0" text-anchor="middle">300</text><text transform="translate(303.7 152.02) rotate(-90)" font-size="6.0" text-anchor="middle">400</text><text transform="translate(303.7 136.3) rotate(-90)" font-size="6.0" text-anchor="middle">500</text></g>
<path d="M430.6 213.5 L430.8 189 L433 177 L435.7 166.6 L437.7 161.4 L440 171.8 L441.5 182 L442.6 190.8 L444.3 200.4 L447.8 206.4 L451 209.3 L454.7 211.6 L458 212.8 L461.6 213.4" stroke="#222" stroke-width="1.1" fill="none" stroke-linejoin="round"/><path d="M430.6 212.8 L437.4 210.7 L443.4 208.2 L446.9 205.6 L448.3 202 L449.5 197.8 L451 188 L452.1 177 L453.2 169 L454.3 163.2 L456.1 158.3 L457.3 160.5 L458.2 163.2 L459.5 171 L460.7 180.5 L462 191 L463.3 201.2 L464.6 207 L465.9 211.6 L467.7 213.4 L475 213.5" stroke="#000" stroke-width="1.85" fill="none" stroke-linejoin="round" stroke-linecap="round"/><path d="M430.4 136.4H512.9V213.6" stroke="#4a4a4a" stroke-width="1.5" fill="none"/><path d="M430.4 136.4V213.6H512.9" stroke="#000" stroke-width="1.4" fill="none" stroke-linecap="square"/><path d="M430.4 213.6v3.2M436.61 213.6v2M440.24 213.6v2M442.82 213.6v2M444.82 213.6v2M446.45 213.6v2M447.83 213.6v2M449.03 213.6v2M450.08 213.6v2M451.02 213.6v3.2M457.23 213.6v2M460.87 213.6v2M463.44 213.6v2M465.44 213.6v2M467.07 213.6v2M468.46 213.6v2M469.65 213.6v2M470.71 213.6v2M471.65 213.6v3.2M477.86 213.6v2M481.49 213.6v2M484.07 213.6v2M486.07 213.6v2M487.7 213.6v2M489.08 213.6v2M490.28 213.6v2M491.33 213.6v2M492.27 213.6v3.2M498.48 213.6v2M502.12 213.6v2M504.69 213.6v2M506.69 213.6v2M508.32 213.6v2M509.71 213.6v2M510.9 213.6v2M511.96 213.6v2M512.9 213.6v3.2M430.4 213.6h-3M430.4 209.74h-1.8M430.4 205.88h-1.8M430.4 202.02h-1.8M430.4 198.16h-1.8M430.4 194.3h-3M430.4 190.44h-1.8M430.4 186.58h-1.8M430.4 182.72h-1.8M430.4 178.86h-1.8M430.4 175h-3M430.4 171.14h-1.8M430.4 167.28h-1.8M430.4 163.42h-1.8M430.4 159.56h-1.8M430.4 155.7h-3M430.4 151.84h-1.8M430.4 147.98h-1.8M430.4 144.12h-1.8M430.4 140.26h-1.8M430.4 136.4h-3" stroke="#000" stroke-width="0.8" fill="none"/><g fill="#000" stroke="#000" stroke-width="0.32"><text x="430.8" y="223.8" font-size="6.6" text-anchor="middle">10<tspan dy="-3.0" font-size="5.4">0</tspan></text><text x="451.42" y="223.8" font-size="6.6" text-anchor="middle">10<tspan dy="-3.0" font-size="5.4">1</tspan></text><text x="472.05" y="223.8" font-size="6.6" text-anchor="middle">10<tspan dy="-3.0" font-size="5.4">2</tspan></text><text x="492.67" y="223.8" font-size="6.6" text-anchor="middle">10<tspan dy="-3.0" font-size="5.4">3</tspan></text><text x="513.3" y="223.8" font-size="6.6" text-anchor="middle">10<tspan dy="-3.0" font-size="5.4">4</tspan></text><text transform="translate(424.6 213.6) rotate(-90)" font-size="6.0" text-anchor="middle">0</text><text transform="translate(424.6 198.16) rotate(-90)" font-size="6.0" text-anchor="middle">80</text><text transform="translate(424.6 182.72) rotate(-90)" font-size="6.0" text-anchor="middle">160</text><text transform="translate(424.6 167.28) rotate(-90)" font-size="6.0" text-anchor="middle">240</text><text transform="translate(424.6 151.84) rotate(-90)" font-size="6.0" text-anchor="middle">320</text><text transform="translate(424.6 136.4) rotate(-90)" font-size="6.0" text-anchor="middle">400</text></g>
<path d="M65.9 463.8 L67.5 455 L68.9 446.5 L70.2 434 L71.5 424 L72.8 415 L74.1 410.1 L75.8 418.8 L77 431 L78.4 446.5 L80 458 L81.9 467.2 L84 474 L86.2 479.3 L88.5 484 L91 488 L94.9 490.8" stroke="#222" stroke-width="1.1" fill="none" stroke-linejoin="round"/><path d="M66.3 491 L68 484 L69.8 472 L71.5 458.6 L73.2 446 L74.5 437.3 L75.8 432.6 L77 424 L78.4 415.3 L80.7 410.1 L82.8 420.5 L84 433 L85.4 448.2 L86.5 457 L88 469 L89.7 478.8 L92 485.5 L94 488.4 L98.3 490.5 L107 491" stroke="#000" stroke-width="1.85" fill="none" stroke-linejoin="round" stroke-linecap="round"/><path d="M65.7 402.2H149V491.3" stroke="#4a4a4a" stroke-width="1.5" fill="none"/><path d="M65.7 402.2V491.3H149" stroke="#000" stroke-width="1.4" fill="none" stroke-linecap="square"/><path d="M65.7 491.3v3.2M71.97 491.3v2M75.64 491.3v2M78.24 491.3v2M80.26 491.3v2M81.9 491.3v2M83.3 491.3v2M84.51 491.3v2M85.57 491.3v2M86.53 491.3v3.2M92.79 491.3v2M96.46 491.3v2M99.06 491.3v2M101.08 491.3v2M102.73 491.3v2M104.12 491.3v2M105.33 491.3v2M106.4 491.3v2M107.35 491.3v3.2M113.62 491.3v2M117.29 491.3v2M119.89 491.3v2M121.91 491.3v2M123.55 491.3v2M124.95 491.3v2M126.16 491.3v2M127.22 491.3v2M128.18 491.3v3.2M134.44 491.3v2M138.11 491.3v2M140.71 491.3v2M142.73 491.3v2M144.38 491.3v2M145.77 491.3v2M146.98 491.3v2M148.05 491.3v2M149 491.3v3.2M65.7 491.3h-3M65.7 487.74h-1.8M65.7 484.17h-1.8M65.7 480.61h-1.8M65.7 477.04h-1.8M65.7 473.48h-3M65.7 469.92h-1.8M65.7 466.35h-1.8M65.7 462.79h-1.8M65.7 459.22h-1.8M65.7 455.66h-3M65.7 452.1h-1.8M65.7 448.53h-1.8M65.7 444.97h-1.8M65.7 441.4h-1.8M65.7 437.84h-3M65.7 434.28h-1.8M65.7 430.71h-1.8M65.7 427.15h-1.8M65.7 423.58h-1.8M65.7 420.02h-3M65.7 416.46h-1.8M65.7 412.89h-1.8M65.7 409.33h-1.8M65.7 405.76h-1.8M65.7 402.2h-3" stroke="#000" stroke-width="0.8" fill="none"/><g fill="#000" stroke="#000" stroke-width="0.32"><text x="66.1" y="501.5" font-size="6.6" text-anchor="middle">10<tspan dy="-3.0" font-size="5.4">0</tspan></text><text x="86.93" y="501.5" font-size="6.6" text-anchor="middle">10<tspan dy="-3.0" font-size="5.4">1</tspan></text><text x="107.75" y="501.5" font-size="6.6" text-anchor="middle">10<tspan dy="-3.0" font-size="5.4">2</tspan></text><text x="128.58" y="501.5" font-size="6.6" text-anchor="middle">10<tspan dy="-3.0" font-size="5.4">3</tspan></text><text x="149.4" y="501.5" font-size="6.6" text-anchor="middle">10<tspan dy="-3.0" font-size="5.4">4</tspan></text><text transform="translate(59.9 491.3) rotate(-90)" font-size="6.0" text-anchor="middle">0</text><text transform="translate(59.9 473.48) rotate(-90)" font-size="6.0" text-anchor="middle">100</text><text transform="translate(59.9 455.66) rotate(-90)" font-size="6.0" text-anchor="middle">200</text><text transform="translate(59.9 437.84) rotate(-90)" font-size="6.0" text-anchor="middle">300</text><text transform="translate(59.9 420.02) rotate(-90)" font-size="6.0" text-anchor="middle">400</text><text transform="translate(59.9 402.2) rotate(-90)" font-size="6.0" text-anchor="middle">500</text></g>
<path d="M185.9 470.7 L188.2 450 L189.5 438 L190.8 427.4 L192.5 418 L194.2 410.1 L195.5 418 L196.8 427.4 L198 437 L199.4 448.2 L202 465.5 L205.5 479.3 L208 484.5 L210.7 487.5 L214 489.5 L218 490.3" stroke="#222" stroke-width="1.1" fill="none" stroke-linejoin="round"/><path d="M195 490.3 L198.6 488 L201.5 485 L204.6 481 L206.5 475 L208.1 467.2 L210 459 L211.6 450 L214.2 437.8 L216.3 432 L218.5 429.2 L220.3 432 L221.9 437.8 L223.3 446 L224.5 455.1 L225.8 464 L227.1 472.4 L229 480 L230.6 485.4 L233.7 489.5 L238 490.3" stroke="#000" stroke-width="1.85" fill="none" stroke-linejoin="round" stroke-linecap="round"/><path d="M185.7 401.9H270.1V490.4" stroke="#4a4a4a" stroke-width="1.5" fill="none"/><path d="M185.7 401.9V490.4H270.1" stroke="#000" stroke-width="1.4" fill="none" stroke-linecap="square"/><path d="M185.7 490.4v3.2M192.05 490.4v2M195.77 490.4v2M198.4 490.4v2M200.45 490.4v2M202.12 490.4v2M203.53 490.4v2M204.76 490.4v2M205.83 490.4v2M206.8 490.4v3.2M213.15 490.4v2M216.87 490.4v2M219.5 490.4v2M221.55 490.4v2M223.22 490.4v2M224.63 490.4v2M225.86 490.4v2M226.93 490.4v2M227.9 490.4v3.2M234.25 490.4v2M237.97 490.4v2M240.6 490.4v2M242.65 490.4v2M244.32 490.4v2M245.73 490.4v2M246.96 490.4v2M248.03 490.4v2M249 490.4v3.2M255.35 490.4v2M259.07 490.4v2M261.7 490.4v2M263.75 490.4v2M265.42 490.4v2M266.83 490.4v2M268.06 490.4v2M269.13 490.4v2M270.1 490.4v3.2M185.7 490.4h-3M185.7 486.86h-1.8M185.7 483.32h-1.8M185.7 479.78h-1.8M185.7 476.24h-1.8M185.7 472.7h-3M185.7 469.16h-1.8M185.7 465.62h-1.8M185.7 462.08h-1.8M185.7 458.54h-1.8M185.7 455h-3M185.7 451.46h-1.8M185.7 447.92h-1.8M185.7 444.38h-1.8M185.7 440.84h-1.8M185.7 437.3h-3M185.7 433.76h-1.8M185.7 430.22h-1.8M185.7 426.68h-1.8M185.7 423.14h-1.8M185.7 419.6h-3M185.7 416.06h-1.8M185.7 412.52h-1.8M185.7 408.98h-1.8M185.7 405.44h-1.8M185.7 401.9h-3" stroke="#000" stroke-width="0.8" fill="none"/><g fill="#000" stroke="#000" stroke-width="0.32"><text x="186.1" y="500.6" font-size="6.6" text-anchor="middle">10<tspan dy="-3.0" font-size="5.4">0</tspan></text><text x="207.2" y="500.6" font-size="6.6" text-anchor="middle">10<tspan dy="-3.0" font-size="5.4">1</tspan></text><text x="228.3" y="500.6" font-size="6.6" text-anchor="middle">10<tspan dy="-3.0" font-size="5.4">2</tspan></text><text x="249.4" y="500.6" font-size="6.6" text-anchor="middle">10<tspan dy="-3.0" font-size="5.4">3</tspan></text><text x="270.5" y="500.6" font-size="6.6" text-anchor="middle">10<tspan dy="-3.0" font-size="5.4">4</tspan></text><text transform="translate(179.9 490.4) rotate(-90)" font-size="6.0" text-anchor="middle">0</text><text transform="translate(179.9 472.7) rotate(-90)" font-size="6.0" text-anchor="middle">100</text><text transform="translate(179.9 455) rotate(-90)" font-size="6.0" text-anchor="middle">200</text><text transform="translate(179.9 437.3) rotate(-90)" font-size="6.0" text-anchor="middle">300</text><text transform="translate(179.9 419.6) rotate(-90)" font-size="6.0" text-anchor="middle">400</text><text transform="translate(179.9 401.9) rotate(-90)" font-size="6.0" text-anchor="middle">500</text></g>
<path d="M309.7 462 L312.1 446.5 L313.4 435 L314.7 424 L316.2 415 L317.8 410.1 L318.8 417 L319.8 425.7 L321 435 L322.4 446.5 L325.9 467.2 L330.2 479.3 L335.4 486.3 L340 489 L345 490" stroke="#222" stroke-width="1.1" fill="none" stroke-linejoin="round"/><path d="M314 490 L316.4 488.5 L320 485 L323.3 481 L325.5 474 L327.6 465.5 L329 455 L330.2 443 L331.3 435 L332.3 428.3 L335.1 424.8 L337.2 429.2 L339 439 L340.6 450 L342.3 460 L344.1 469 L345.8 476 L347.5 481 L349.3 485 L351 487.8 L354 489.5 L360 490" stroke="#000" stroke-width="1.85" fill="none" stroke-linejoin="round" stroke-linecap="round"/><path d="M309.3 402.1H396.3V490.2" stroke="#4a4a4a" stroke-width="1.5" fill="none"/><path d="M309.3 402.1V490.2H396.3" stroke="#000" stroke-width="1.4" fill="none" stroke-linecap="square"/><path d="M309.3 490.2v3.2M315.85 490.2v2M319.68 490.2v2M322.39 490.2v2M324.5 490.2v2M326.22 490.2v2M327.68 490.2v2M328.94 490.2v2M330.05 490.2v2M331.05 490.2v3.2M337.6 490.2v2M341.43 490.2v2M344.14 490.2v2M346.25 490.2v2M347.97 490.2v2M349.43 490.2v2M350.69 490.2v2M351.8 490.2v2M352.8 490.2v3.2M359.35 490.2v2M363.18 490.2v2M365.89 490.2v2M368 490.2v2M369.72 490.2v2M371.18 490.2v2M372.44 490.2v2M373.55 490.2v2M374.55 490.2v3.2M381.1 490.2v2M384.93 490.2v2M387.64 490.2v2M389.75 490.2v2M391.47 490.2v2M392.93 490.2v2M394.19 490.2v2M395.3 490.2v2M396.3 490.2v3.2M309.3 490.2h-3M309.3 486.68h-1.8M309.3 483.15h-1.8M309.3 479.63h-1.8M309.3 476.1h-1.8M309.3 472.58h-3M309.3 469.06h-1.8M309.3 465.53h-1.8M309.3 462.01h-1.8M309.3 458.48h-1.8M309.3 454.96h-3M309.3 451.44h-1.8M309.3 447.91h-1.8M309.3 444.39h-1.8M309.3 440.86h-1.8M309.3 437.34h-3M309.3 433.82h-1.8M309.3 430.29h-1.8M309.3 426.77h-1.8M309.3 423.24h-1.8M309.3 419.72h-3M309.3 416.2h-1.8M309.3 412.67h-1.8M309.3 409.15h-1.8M309.3 405.62h-1.8M309.3 402.1h-3" stroke="#000" stroke-width="0.8" fill="none"/><g fill="#000" stroke="#000" stroke-width="0.32"><text x="309.7" y="500.4" font-size="6.6" text-anchor="middle">10<tspan dy="-3.0" font-size="5.4">0</tspan></text><text x="331.45" y="500.4" font-size="6.6" text-anchor="middle">10<tspan dy="-3.0" font-size="5.4">1</tspan></text><text x="353.2" y="500.4" font-size="6.6" text-anchor="middle">10<tspan dy="-3.0" font-size="5.4">2</tspan></text><text x="374.95" y="500.4" font-size="6.6" text-anchor="middle">10<tspan dy="-3.0" font-size="5.4">3</tspan></text><text x="396.7" y="500.4" font-size="6.6" text-anchor="middle">10<tspan dy="-3.0" font-size="5.4">4</tspan></text><text transform="translate(303.5 490.2) rotate(-90)" font-size="6.0" text-anchor="middle">0</text><text transform="translate(303.5 472.58) rotate(-90)" font-size="6.0" text-anchor="middle">100</text><text transform="translate(303.5 454.96) rotate(-90)" font-size="6.0" text-anchor="middle">200</text><text transform="translate(303.5 437.34) rotate(-90)" font-size="6.0" text-anchor="middle">300</text><text transform="translate(303.5 419.72) rotate(-90)" font-size="6.0" text-anchor="middle">400</text><text transform="translate(303.5 402.1) rotate(-90)" font-size="6.0" text-anchor="middle">500</text></g>
<path d="M428.4 489.8 L429.3 485.4 L432.8 463.8 L435.4 436 L437 425 L438.5 418.8 L440 426 L441.4 436 L444 460.3 L447.5 477.6 L451 486.3 L454 489 L457 490.2" stroke="#222" stroke-width="1.1" fill="none" stroke-linejoin="round"/><path d="M445 490.2 L451 489.8 L454.6 489 L456.2 485.8 L458.5 479.6 L460 469.6 L461.2 458 L461.9 445 L462.6 437 L463.3 428 L464 418 L464.7 412 L465.5 409.7 L466.3 412 L467 418 L467.4 428 L467.7 435 L468.5 445 L469.6 458 L470.8 469.6 L472.3 479.6 L474.2 485.8 L476.2 489 L481 490" stroke="#000" stroke-width="1.85" fill="none" stroke-linejoin="round" stroke-linecap="round"/><path d="M428.2 401.7H512.8V490.4" stroke="#4a4a4a" stroke-width="1.5" fill="none"/><path d="M428.2 401.7V490.4H512.8" stroke="#000" stroke-width="1.4" fill="none" stroke-linecap="square"/><path d="M428.2 490.4v3.2M434.57 490.4v2M438.29 490.4v2M440.93 490.4v2M442.98 490.4v2M444.66 490.4v2M446.07 490.4v2M447.3 490.4v2M448.38 490.4v2M449.35 490.4v3.2M455.72 490.4v2M459.44 490.4v2M462.08 490.4v2M464.13 490.4v2M465.81 490.4v2M467.22 490.4v2M468.45 490.4v2M469.53 490.4v2M470.5 490.4v3.2M476.87 490.4v2M480.59 490.4v2M483.23 490.4v2M485.28 490.4v2M486.96 490.4v2M488.37 490.4v2M489.6 490.4v2M490.68 490.4v2M491.65 490.4v3.2M498.02 490.4v2M501.74 490.4v2M504.38 490.4v2M506.43 490.4v2M508.11 490.4v2M509.52 490.4v2M510.75 490.4v2M511.83 490.4v2M512.8 490.4v3.2M428.2 490.4h-3M428.2 486.85h-1.8M428.2 483.3h-1.8M428.2 479.76h-1.8M428.2 476.21h-1.8M428.2 472.66h-3M428.2 469.11h-1.8M428.2 465.56h-1.8M428.2 462.02h-1.8M428.2 458.47h-1.8M428.2 454.92h-3M428.2 451.37h-1.8M428.2 447.82h-1.8M428.2 444.28h-1.8M428.2 440.73h-1.8M428.2 437.18h-3M428.2 433.63h-1.8M428.2 430.08h-1.8M428.2 426.54h-1.8M428.2 422.99h-1.8M428.2 419.44h-3M428.2 415.89h-1.8M428.2 412.34h-1.8M428.2 408.8h-1.8M428.2 405.25h-1.8M428.2 401.7h-3" stroke="#000" stroke-width="0.8" fill="none"/><g fill="#000" stroke="#000" stroke-width="0.32"><text x="428.6" y="500.6" font-size="6.6" text-anchor="middle">10<tspan dy="-3.0" font-size="5.4">0</tspan></text><text x="449.75" y="500.6" font-size="6.6" text-anchor="middle">10<tspan dy="-3.0" font-size="5.4">1</tspan></text><text x="470.9" y="500.6" font-size="6.6" text-anchor="middle">10<tspan dy="-3.0" font-size="5.4">2</tspan></text><text x="492.05" y="500.6" font-size="6.6" text-anchor="middle">10<tspan dy="-3.0" font-size="5.4">3</tspan></text><text x="513.2" y="500.6" font-size="6.6" text-anchor="middle">10<tspan dy="-3.0" font-size="5.4">4</tspan></text><text transform="translate(422.4 490.4) rotate(-90)" font-size="6.0" text-anchor="middle">0</text><text transform="translate(422.4 472.66) rotate(-90)" font-size="6.0" text-anchor="middle">100</text><text transform="translate(422.4 454.92) rotate(-90)" font-size="6.0" text-anchor="middle">200</text><text transform="translate(422.4 437.18) rotate(-90)" font-size="6.0" text-anchor="middle">300</text><text transform="translate(422.4 419.44) rotate(-90)" font-size="6.0" text-anchor="middle">400</text><text transform="translate(422.4 401.7) rotate(-90)" font-size="6.0" text-anchor="middle">500</text></g>
<path d="M69.7 740 L70.3 734.7 L72.9 710.5 L75.5 691.4 L77.2 683.6 L79 693.2 L81.6 696.6 L83.3 705.3 L85.9 722.6 L88.5 736.4 L92 743.3 L97.2 746.4" stroke="#222" stroke-width="1.1" fill="none" stroke-linejoin="round"/><path d="M70.3 743.3 L75.5 741.6 L79.8 734.7 L83.3 724.3 L85.9 710.5 L88.5 696.6 L90 689 L91.1 684.2 L92.8 689.7 L94.2 697 L95.4 705.3 L96.7 716 L98 726 L99.3 735 L100.6 741.6 L103.2 745.5 L110 746.5" stroke="#000" stroke-width="1.85" fill="none" stroke-linejoin="round" stroke-linecap="round"/><path d="M69.5 667.8H153V746.8" stroke="#4a4a4a" stroke-width="1.5" fill="none"/><path d="M69.5 667.8V746.8H153" stroke="#000" stroke-width="1.4" fill="none" stroke-linecap="square"/><path d="M69.5 746.8v3.2M75.78 746.8v2M79.46 746.8v2M82.07 746.8v2M84.09 746.8v2M85.74 746.8v2M87.14 746.8v2M88.35 746.8v2M89.42 746.8v2M90.38 746.8v3.2M96.66 746.8v2M100.33 746.8v2M102.94 746.8v2M104.97 746.8v2M106.62 746.8v2M108.02 746.8v2M109.23 746.8v2M110.29 746.8v2M111.25 746.8v3.2M117.53 746.8v2M121.21 746.8v2M123.82 746.8v2M125.84 746.8v2M127.49 746.8v2M128.89 746.8v2M130.1 746.8v2M131.17 746.8v2M132.12 746.8v3.2M138.41 746.8v2M142.08 746.8v2M144.69 746.8v2M146.72 746.8v2M148.37 746.8v2M149.77 746.8v2M150.98 746.8v2M152.04 746.8v2M153 746.8v3.2M69.5 746.8h-3M69.5 741.53h-1.8M69.5 736.27h-1.8M69.5 731h-1.8M69.5 725.73h-1.8M69.5 720.47h-3M69.5 715.2h-1.8M69.5 709.93h-1.8M69.5 704.67h-1.8M69.5 699.4h-1.8M69.5 694.13h-3M69.5 688.87h-1.8M69.5 683.6h-1.8M69.5 678.33h-1.8M69.5 673.07h-1.8M69.5 667.8h-3" stroke="#000" stroke-width="0.8" fill="none"/><g fill="#000" stroke="#000" stroke-width="0.32"><text x="69.9" y="757" font-size="6.6" text-anchor="middle">10<tspan dy="-3.0" font-size="5.4">0</tspan></text><text x="90.78" y="757" font-size="6.6" text-anchor="middle">10<tspan dy="-3.0" font-size="5.4">1</tspan></text><text x="111.65" y="757" font-size="6.6" text-anchor="middle">10<tspan dy="-3.0" font-size="5.4">2</tspan></text><text x="132.53" y="757" font-size="6.6" text-anchor="middle">10<tspan dy="-3.0" font-size="5.4">3</tspan></text><text x="153.4" y="757" font-size="6.6" text-anchor="middle">10<tspan dy="-3.0" font-size="5.4">4</tspan></text><text transform="translate(63.7 746.8) rotate(-90)" font-size="6.0" text-anchor="middle">0</text><text transform="translate(63.7 731) rotate(-90)" font-size="6.0" text-anchor="middle">60</text><text transform="translate(63.7 715.2) rotate(-90)" font-size="6.0" text-anchor="middle">120</text><text transform="translate(63.7 699.4) rotate(-90)" font-size="6.0" text-anchor="middle">180</text><text transform="translate(63.7 683.6) rotate(-90)" font-size="6.0" text-anchor="middle">240</text><text transform="translate(63.7 667.8) rotate(-90)" font-size="6.0" text-anchor="middle">300</text></g>
<path d="M189.2 740 L190 734.7 L191.9 705.3 L194.5 691.4 L196.8 683.6 L198.8 694.9 L201.4 699.2 L204 714 L206.6 731.2 L209.2 739.9 L214.4 744.2 L220 746.2" stroke="#222" stroke-width="1.1" fill="none" stroke-linejoin="round"/><path d="M191.9 745 L202.3 742.5 L209.2 738.2 L211.5 734 L213.6 727.8 L216.2 715.7 L218.7 701.8 L221.3 694 L223.9 691.4 L226.2 696.6 L227.3 704 L228.3 714 L229.6 724 L230.9 734.7 L233.5 743.3 L236.9 745.8 L245 746.5" stroke="#000" stroke-width="1.85" fill="none" stroke-linejoin="round" stroke-linecap="round"/><path d="M189 667.8H272V746.7" stroke="#4a4a4a" stroke-width="1.5" fill="none"/><path d="M189 667.8V746.7H272" stroke="#000" stroke-width="1.4" fill="none" stroke-linecap="square"/><path d="M189 746.7v3.2M195.25 746.7v2M198.9 746.7v2M201.49 746.7v2M203.5 746.7v2M205.15 746.7v2M206.54 746.7v2M207.74 746.7v2M208.8 746.7v2M209.75 746.7v3.2M216 746.7v2M219.65 746.7v2M222.24 746.7v2M224.25 746.7v2M225.9 746.7v2M227.29 746.7v2M228.49 746.7v2M229.55 746.7v2M230.5 746.7v3.2M236.75 746.7v2M240.4 746.7v2M242.99 746.7v2M245 746.7v2M246.65 746.7v2M248.04 746.7v2M249.24 746.7v2M250.3 746.7v2M251.25 746.7v3.2M257.5 746.7v2M261.15 746.7v2M263.74 746.7v2M265.75 746.7v2M267.4 746.7v2M268.79 746.7v2M269.99 746.7v2M271.05 746.7v2M272 746.7v3.2M189 746.7h-3M189 741.44h-1.8M189 736.18h-1.8M189 730.92h-1.8M189 725.66h-1.8M189 720.4h-3M189 715.14h-1.8M189 709.88h-1.8M189 704.62h-1.8M189 699.36h-1.8M189 694.1h-3M189 688.84h-1.8M189 683.58h-1.8M189 678.32h-1.8M189 673.06h-1.8M189 667.8h-3" stroke="#000" stroke-width="0.8" fill="none"/><g fill="#000" stroke="#000" stroke-width="0.32"><text x="189.4" y="756.9" font-size="6.6" text-anchor="middle">10<tspan dy="-3.0" font-size="5.4">0</tspan></text><text x="210.15" y="756.9" font-size="6.6" text-anchor="middle">10<tspan dy="-3.0" font-size="5.4">1</tspan></text><text x="230.9" y="756.9" font-size="6.6" text-anchor="middle">10<tspan dy="-3.0" font-size="5.4">2</tspan></text><text x="251.65" y="756.9" font-size="6.6" text-anchor="middle">10<tspan dy="-3.0" font-size="5.4">3</tspan></text><text x="272.4" y="756.9" font-size="6.6" text-anchor="middle">10<tspan dy="-3.0" font-size="5.4">4</tspan></text><text transform="translate(183.2 746.7) rotate(-90)" font-size="6.0" text-anchor="middle">0</text><text transform="translate(183.2 730.92) rotate(-90)" font-size="6.0" text-anchor="middle">60</text><text transform="translate(183.2 715.14) rotate(-90)" font-size="6.0" text-anchor="middle">120</text><text transform="translate(183.2 699.36) rotate(-90)" font-size="6.0" text-anchor="middle">180</text><text transform="translate(183.2 683.58) rotate(-90)" font-size="6.0" text-anchor="middle">240</text><text transform="translate(183.2 667.8) rotate(-90)" font-size="6.0" text-anchor="middle">300</text></g>
<path d="M311.6 738 L312.3 731.2 L314.9 708.7 L317.5 689.7 L319.2 683.6 L321 693.2 L323.6 696.6 L326.2 710.5 L328.8 729.5 L332.2 739.9 L337.4 743.3 L343 745" stroke="#222" stroke-width="1.1" fill="none" stroke-linejoin="round"/><path d="M314.9 743.3 L321.8 741.6 L325.3 736.4 L327.2 731 L328.8 724.3 L330.1 716 L331.4 707 L332.7 699 L334 691.4 L336.2 685.4 L338.3 691.4 L339.6 698 L340.9 705.3 L342.6 716 L344.3 726 L346 733.5 L347.8 739.9 L350 743 L353 744.8 L360 745.3" stroke="#000" stroke-width="1.85" fill="none" stroke-linejoin="round" stroke-linecap="round"/><path d="M311.4 667.6H396.2V745.5" stroke="#4a4a4a" stroke-width="1.5" fill="none"/><path d="M311.4 667.6V745.5H396.2" stroke="#000" stroke-width="1.4" fill="none" stroke-linecap="square"/><path d="M311.4 745.5v3.2M317.78 745.5v2M321.51 745.5v2M324.16 745.5v2M326.22 745.5v2M327.9 745.5v2M329.32 745.5v2M330.55 745.5v2M331.63 745.5v2M332.6 745.5v3.2M338.98 745.5v2M342.71 745.5v2M345.36 745.5v2M347.42 745.5v2M349.1 745.5v2M350.52 745.5v2M351.75 745.5v2M352.83 745.5v2M353.8 745.5v3.2M360.18 745.5v2M363.91 745.5v2M366.56 745.5v2M368.62 745.5v2M370.3 745.5v2M371.72 745.5v2M372.95 745.5v2M374.03 745.5v2M375 745.5v3.2M381.38 745.5v2M385.11 745.5v2M387.76 745.5v2M389.82 745.5v2M391.5 745.5v2M392.92 745.5v2M394.15 745.5v2M395.23 745.5v2M396.2 745.5v3.2M311.4 745.5h-3M311.4 740.31h-1.8M311.4 735.11h-1.8M311.4 729.92h-1.8M311.4 724.73h-1.8M311.4 719.53h-3M311.4 714.34h-1.8M311.4 709.15h-1.8M311.4 703.95h-1.8M311.4 698.76h-1.8M311.4 693.57h-3M311.4 688.37h-1.8M311.4 683.18h-1.8M311.4 677.99h-1.8M311.4 672.79h-1.8M311.4 667.6h-3" stroke="#000" stroke-width="0.8" fill="none"/><g fill="#000" stroke="#000" stroke-width="0.32"><text x="311.8" y="755.7" font-size="6.6" text-anchor="middle">10<tspan dy="-3.0" font-size="5.4">0</tspan></text><text x="333" y="755.7" font-size="6.6" text-anchor="middle">10<tspan dy="-3.0" font-size="5.4">1</tspan></text><text x="354.2" y="755.7" font-size="6.6" text-anchor="middle">10<tspan dy="-3.0" font-size="5.4">2</tspan></text><text x="375.4" y="755.7" font-size="6.6" text-anchor="middle">10<tspan dy="-3.0" font-size="5.4">3</tspan></text><text x="396.6" y="755.7" font-size="6.6" text-anchor="middle">10<tspan dy="-3.0" font-size="5.4">4</tspan></text><text transform="translate(305.6 745.5) rotate(-90)" font-size="6.0" text-anchor="middle">0</text><text transform="translate(305.6 729.92) rotate(-90)" font-size="6.0" text-anchor="middle">60</text><text transform="translate(305.6 714.34) rotate(-90)" font-size="6.0" text-anchor="middle">120</text><text transform="translate(305.6 698.76) rotate(-90)" font-size="6.0" text-anchor="middle">180</text><text transform="translate(305.6 683.18) rotate(-90)" font-size="6.0" text-anchor="middle">240</text><text transform="translate(305.6 667.6) rotate(-90)" font-size="6.0" text-anchor="middle">300</text></g>
<path d="M430.5 743.8 L430.7 736 L431.5 734 L432.9 722.6 L435.5 700.1 L438.5 688 L440.7 698.3 L443.3 712.2 L446.8 724.3 L450.2 735.6 L454.6 740.7 L460.6 743.3 L466 743.8" stroke="#222" stroke-width="1.1" fill="none" stroke-linejoin="round"/><path d="M443.3 743.7 L450.2 741.6 L457.2 738.2 L461.5 731.2 L462.8 725 L464.1 717.4 L465.4 707 L466.7 696.6 L468 688 L469.6 681 L470.8 684 L471.9 689.7 L473.2 701 L474.5 714 L475.8 725 L477.1 734.7 L478.4 740 L479.7 742.5 L485 743.7" stroke="#000" stroke-width="1.85" fill="none" stroke-linejoin="round" stroke-linecap="round"/><path d="M430.3 667.6H512.6V744" stroke="#4a4a4a" stroke-width="1.5" fill="none"/><path d="M430.3 667.6V744H512.6" stroke="#000" stroke-width="1.4" fill="none" stroke-linecap="square"/><path d="M430.3 744v3.2M436.49 744v2M440.12 744v2M442.69 744v2M444.68 744v2M446.31 744v2M447.69 744v2M448.88 744v2M449.93 744v2M450.88 744v3.2M457.07 744v2M460.69 744v2M463.26 744v2M465.26 744v2M466.89 744v2M468.26 744v2M469.46 744v2M470.51 744v2M471.45 744v3.2M477.64 744v2M481.27 744v2M483.84 744v2M485.83 744v2M487.46 744v2M488.84 744v2M490.03 744v2M491.08 744v2M492.03 744v3.2M498.22 744v2M501.84 744v2M504.41 744v2M506.41 744v2M508.04 744v2M509.41 744v2M510.61 744v2M511.66 744v2M512.6 744v3.2M430.3 744h-3M430.3 740.94h-1.8M430.3 737.89h-1.8M430.3 734.83h-1.8M430.3 731.78h-1.8M430.3 728.72h-3M430.3 725.66h-1.8M430.3 722.61h-1.8M430.3 719.55h-1.8M430.3 716.5h-1.8M430.3 713.44h-3M430.3 710.38h-1.8M430.3 707.33h-1.8M430.3 704.27h-1.8M430.3 701.22h-1.8M430.3 698.16h-3M430.3 695.1h-1.8M430.3 692.05h-1.8M430.3 688.99h-1.8M430.3 685.94h-1.8M430.3 682.88h-3M430.3 679.82h-1.8M430.3 676.77h-1.8M430.3 673.71h-1.8M430.3 670.66h-1.8M430.3 667.6h-3" stroke="#000" stroke-width="0.8" fill="none"/><g fill="#000" stroke="#000" stroke-width="0.32"><text x="430.7" y="754.2" font-size="6.6" text-anchor="middle">10<tspan dy="-3.0" font-size="5.4">0</tspan></text><text x="451.27" y="754.2" font-size="6.6" text-anchor="middle">10<tspan dy="-3.0" font-size="5.4">1</tspan></text><text x="471.85" y="754.2" font-size="6.6" text-anchor="middle">10<tspan dy="-3.0" font-size="5.4">2</tspan></text><text x="492.43" y="754.2" font-size="6.6" text-anchor="middle">10<tspan dy="-3.0" font-size="5.4">3</tspan></text><text x="513" y="754.2" font-size="6.6" text-anchor="middle">10<tspan dy="-3.0" font-size="5.4">4</tspan></text><text transform="translate(424.5 744) rotate(-90)" font-size="6.0" text-anchor="middle">0</text><text transform="translate(424.5 728.72) rotate(-90)" font-size="6.0" text-anchor="middle">100</text><text transform="translate(424.5 713.44) rotate(-90)" font-size="6.0" text-anchor="middle">200</text><text transform="translate(424.5 698.16) rotate(-90)" font-size="6.0" text-anchor="middle">300</text><text transform="translate(424.5 682.88) rotate(-90)" font-size="6.0" text-anchor="middle">400</text><text transform="translate(424.5 667.6) rotate(-90)" font-size="6.0" text-anchor="middle">500</text></g>
</svg></body></html>
